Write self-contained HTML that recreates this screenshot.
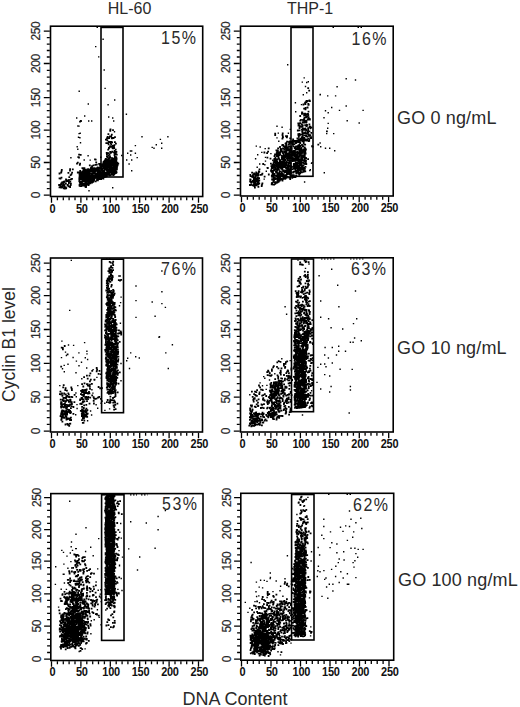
<!DOCTYPE html><html><head><meta charset="utf-8"><style>html,body{margin:0;padding:0;background:#fff;}svg{display:block;}text{font-family:"Liberation Sans", sans-serif;fill:#2a2a2a;} .tl{font-size:12px;letter-spacing:-0.4px;stroke:#222;stroke-width:0.2px;} .tx{font-size:12.2px;font-weight:bold;fill:#111;letter-spacing:-0.3px;}</style></head><body>
<svg width="520" height="707" viewBox="0 0 520 707">
<rect width="520" height="707" fill="#fff"/>
<path d="M109.8 161.3h1.8M104 160.5h1.8M93.4 177.5h1.8M104.5 172.6h1.8M88.9 178.3h1.8M115.7 158.5h1.8M82.6 185.7h1.8M104.7 173.9h1.8M87.8 183.4h1.8M81.3 181.6h1.8M91.1 176.9h1.8M96.6 170.3h1.8M82.5 175.4h1.8M101.2 176.8h1.8M101.3 165.8h1.8M114.6 166h1.8M97 170.4h1.8M94.8 168.3h1.8M103.7 161.7h1.8M91.2 178h1.8M112.9 162.1h1.8M87.6 179.9h1.8M92 169.1h1.8M88.3 170.4h1.8M79.1 178h1.8M89.3 181.1h1.8M81.2 173.2h1.8M85.5 172.1h1.8M90.5 173.5h1.8M96.1 179.5h1.8M83.3 175h1.8M96.5 180.2h1.8M90.5 173.4h1.8M88.8 181.4h1.8M97.6 179.1h1.8M88 178h1.8M110.6 166.5h1.8M85.2 183.7h1.8M112.5 158.9h1.8M106.8 169.8h1.8M101.4 177.9h1.8M82.3 172.9h1.8M99.5 174.7h1.8M102.3 176.6h1.8M84.9 179.7h1.8M105.7 170.3h1.8M81.1 175.2h1.8M112.3 168.4h1.8M86.7 169.3h1.8M80.8 183.6h1.8M95 170.9h1.8M87.7 178.2h1.8M108.4 161.2h1.8M93 171.5h1.8M97.2 169.8h1.8M89.7 170.5h1.8M97.6 173.2h1.8M112.2 173.3h1.8M79.1 174.2h1.8M114 171.2h1.8M83.8 172.8h1.8M112.3 165.3h1.8M85.1 177.8h1.8M90.9 177.1h1.8M92.8 176.6h1.8M78.8 176.6h1.8M112.5 167h1.8M97.6 175.1h1.8M105.6 159.1h1.8M88.9 173.2h1.8M104.6 166.3h1.8M112.4 174.1h1.8M89.9 168.8h1.8M112.1 171.7h1.8M100.7 176.5h1.8M91.6 168.6h1.8M80.4 181.8h1.8M107.3 167.6h1.8M81.6 171.6h1.8M112.1 160.4h1.8M84.9 177.9h1.8M85.6 179.2h1.8M88.4 180.2h1.8M114.6 166.4h1.8M116 169.4h1.8M105.3 168.1h1.8M106.3 172.3h1.8M106.5 160.1h1.8M98.9 172.3h1.8M84.7 169.7h1.8M112.5 175h1.8M114.2 169.7h1.8M107.5 162.7h1.8M89.9 170.8h1.8M112 164.7h1.8M79.5 172.3h1.8M99.1 173h1.8M85.4 180.9h1.8M84.5 172.5h1.8M84.8 185.1h1.8M97.3 174.2h1.8M91.2 182.5h1.8M106 176.1h1.8M83.1 173.2h1.8M107.8 170.8h1.8M97.7 175.7h1.8M94.2 173.8h1.8M84.6 183h1.8M94.1 169.7h1.8M102.4 178h1.8M86.3 173.1h1.8M115.1 167.6h1.8M79.6 177.8h1.8M86.6 170.1h1.8M79.7 175h1.8M102.4 172.4h1.8M92.2 170.3h1.8M85.2 182h1.8M95.3 168.8h1.8M93.1 176.2h1.8M86.7 176.7h1.8M83.5 174.5h1.8M98.1 178h1.8M114 162.8h1.8M115.3 164.7h1.8M96.7 174.2h1.8M92.8 169.8h1.8M109.7 166.7h1.8M83.4 179h1.8M113 170.7h1.8M89.6 182.2h1.8M103 175h1.8M103.2 171.8h1.8M115.5 168.9h1.8M104.1 173.5h1.8M86.3 175.6h1.8M104.9 169.1h1.8M95.2 174.6h1.8M110.5 162.9h1.8M91 170.4h1.8M109.3 164.7h1.8M97.7 169h1.8M107.7 170.5h1.8M99.2 168.6h1.8M107.2 173.1h1.8M112.7 173.9h1.8M83.3 169.8h1.8M117.4 163.6h1.8M82 174h1.8M84.5 182.7h1.8M82.8 173.3h1.8M89.5 176.9h1.8M94.6 168.9h1.8M96.8 167.3h1.8M94.8 170.7h1.8M101 172.6h1.8M114.3 165.3h1.8M114.9 167.5h1.8M84.6 173.7h1.8M107.7 158.7h1.8M88.1 183.6h1.8M82.6 180.7h1.8M105.2 160.9h1.8M115.6 162.5h1.8M91.7 169.9h1.8M85.8 182.7h1.8M114.4 159.9h1.8M84.2 179.5h1.8M87.4 171.5h1.8M111.9 171h1.8M116 165.2h1.8M92.8 173.8h1.8M94.6 175.4h1.8M102.9 166.4h1.8M113.2 171.2h1.8M97.6 175.8h1.8M114.2 165.4h1.8M90.6 181h1.8M87.7 171.7h1.8M116.4 162.6h1.8M94 175.9h1.8M104.6 169.7h1.8M90.1 171.2h1.8M110.3 160h1.8M89.9 179.6h1.8M84.4 186.6h1.8M107.9 165.9h1.8M98.9 171.9h1.8M97.6 171.4h1.8M97.9 167.9h1.8M104.9 165h1.8M115.4 169.6h1.8M103.2 168.6h1.8M85.7 176.3h1.8M114 162h1.8M85.6 182.8h1.8M79.7 176.3h1.8M107.5 167h1.8M94.8 177.7h1.8M109.7 162.4h1.8M79.6 172.2h1.8M97 180.3h1.8M108.2 163.5h1.8M110.4 169.1h1.8M105.1 175.9h1.8M78.7 185h1.8M82.6 173.8h1.8M84 175.3h1.8M91.1 169.9h1.8M89.3 177.5h1.8M85.2 176.5h1.8M91.3 170.9h1.8M113.9 170.9h1.8M106.6 162.8h1.8M95.7 175.8h1.8M96.2 168.1h1.8M95 174.5h1.8M99.8 176.1h1.8M102.1 168.7h1.8M107.4 164.6h1.8M114.3 161.5h1.8M104.9 162h1.8M104.3 176.9h1.8M83.2 177.9h1.8M98.1 178.9h1.8M88.1 171.7h1.8M85 171.9h1.8M87.1 177h1.8M81.4 180.1h1.8M86.2 174.9h1.8M102.5 174.6h1.8M93.7 171.4h1.8M93.6 170.6h1.8M84.7 183.1h1.8M92.4 177.5h1.8M111.5 162.6h1.8M106.9 166.9h1.8M103.3 171.2h1.8M92.1 169.9h1.8M108.9 175.3h1.8M84.2 171.4h1.8M109.8 170h1.8M100.6 170.3h1.8M93.1 180h1.8M114.5 164.3h1.8M114.1 167.5h1.8M96.2 179.5h1.8M100.6 168.2h1.8M87.6 185.1h1.8M107.6 171.3h1.8M97.8 169.5h1.8M116.1 167.3h1.8M111.2 172.7h1.8M93.2 179.1h1.8M101.6 164.4h1.8M96.1 169.6h1.8M102.6 167.1h1.8M113.1 173h1.8M104.4 168h1.8M80.2 179.2h1.8M81 173.6h1.8M101.7 177.4h1.8M89.2 180.3h1.8M107.4 170.2h1.8M91.2 170.2h1.8M89.1 178.5h1.8M106.3 164.9h1.8M83.9 183.8h1.8M82.8 180.7h1.8M110.5 164.5h1.8M78.7 172.6h1.8M111.1 162.3h1.8M115.9 164.9h1.8M94.1 177.2h1.8M113.1 164.5h1.8M96.6 173.4h1.8M81.6 183.9h1.8M78.6 181h1.8M108.3 164.8h1.8M102.7 161.8h1.8M89.4 175.3h1.8M93.8 172h1.8M100.9 175.1h1.8M106.4 163.7h1.8M101.5 177.7h1.8M88.8 177.1h1.8M102.9 168.6h1.8M108.4 175.6h1.8M113.1 166.3h1.8M92.8 170.5h1.8M97.3 174h1.8M107.8 162.9h1.8M103.9 169.5h1.8M89.5 183.3h1.8M112.9 174.3h1.8M90.7 177h1.8M101.7 171.7h1.8M93.8 168.6h1.8M99.5 174.4h1.8M89.8 178.2h1.8M106.4 168.9h1.8M84.9 175.7h1.8M87.9 175.5h1.8M80.8 178.7h1.8M81.4 178.9h1.8M107.6 160.7h1.8M100 166.6h1.8M80.3 177.2h1.8M88.5 183h1.8M87.3 179.5h1.8M89.8 182.6h1.8M82.5 176.9h1.8M112.6 172.6h1.8M84.8 177.8h1.8M86.8 179h1.8M107.2 160.9h1.8M114.5 171.1h1.8M113.5 174.1h1.8M100.8 168.6h1.8M89.9 182.3h1.8M103.3 176.2h1.8M98.6 168.4h1.8M83.7 171.5h1.8M103.3 171h1.8M88.1 179.8h1.8M82.6 180.7h1.8M99.5 171.4h1.8M108.3 173.2h1.8M104.9 167.9h1.8M113.2 169.1h1.8M108.1 170.8h1.8M90.8 180.9h1.8M93.7 176.8h1.8M91.6 171.4h1.8M83 172.1h1.8M88.3 176.1h1.8M82.6 178.7h1.8M111.4 170.2h1.8M90.1 169.1h1.8M92.4 171h1.8M113.9 159.7h1.8M83.3 180.3h1.8M107.4 174.8h1.8M95.6 168.4h1.8M113.4 163.5h1.8M113 161.1h1.8M101.8 176.8h1.8M101.6 176.6h1.8M91.1 170.1h1.8M95.6 169.6h1.8M79.4 176.8h1.8M80.5 184.2h1.8M79.4 186.2h1.8M110.7 162.1h1.8M102.1 168.6h1.8M90.7 175.2h1.8M112 163.5h1.8M92 177.2h1.8M96.7 180.3h1.8M111.3 158.2h1.8M80.7 174.3h1.8M99.1 174.2h1.8M107.7 167.7h1.8M84.4 177.9h1.8M83.3 173.7h1.8M96.5 179.2h1.8M102.4 173.7h1.8M81.9 179.4h1.8M102.5 178.5h1.8M106.4 169.7h1.8M83.6 174.8h1.8M98.3 176.6h1.8M111.1 169.8h1.8M108.4 164h1.8M114.9 163.9h1.8M106.3 169.3h1.8M80.9 181.6h1.8M98.6 179h1.8M87.9 184.3h1.8M86.5 178.6h1.8M96 173.8h1.8M80.7 172.5h1.8M82 179.1h1.8M80.9 185.6h1.8M90.1 171.1h1.8M92.7 177.5h1.8M110.3 168.8h1.8M82.9 175.8h1.8M113.7 161.3h1.8M106.2 160h1.8M112.3 161h1.8M100.7 167.7h1.8M84.5 175.6h1.8M115.3 160.5h1.8M85.3 172.7h1.8M100.7 165.1h1.8M106.9 161.5h1.8M96.7 174h1.8M96.9 177.2h1.8M78.7 177.6h1.8M101.6 172.7h1.8M105 169.5h1.8M103.4 162h1.8M116 168.6h1.8M101 174h1.8M106.2 174.3h1.8M100.3 167.7h1.8M110.4 164.4h1.8M109.9 160.7h1.8M114.3 157.8h1.8M111.2 163.8h1.8M88.1 172.3h1.8M105.8 166.9h1.8M104.8 158.9h1.8M93.9 170.2h1.8M97.4 169.2h1.8M83.9 174.2h1.8M107.4 172.5h1.8M97.9 177.9h1.8M104.5 164.6h1.8M91 171.4h1.8M115.2 164.4h1.8M112.7 167.8h1.8M91.2 175.8h1.8M89.4 170.2h1.8M107.7 160.8h1.8M88.6 182.5h1.8M98.5 171.5h1.8M108.3 160.7h1.8M114.2 172h1.8M84.7 175.3h1.8M101.8 168.7h1.8M83.9 181.3h1.8M85 182h1.8M103.9 167.4h1.8M111.1 173h1.8M78.9 182.7h1.8M91.6 181.3h1.8M115.4 163.6h1.8M92 176.5h1.8M101.2 168.6h1.8M111.5 164h1.8M86 178.1h1.8M109.7 163.3h1.8M108.8 167.5h1.8M85.9 181.5h1.8M103.5 161.1h1.8M87.3 170.2h1.8M112.5 159.3h1.8M99.3 172.9h1.8M81 178.9h1.8M106.3 164.6h1.8M115.5 168.9h1.8M103.2 175.5h1.8M81.1 182.7h1.8M89.3 177.5h1.8M103.2 175.4h1.8M109.9 167h1.8M86.6 180.7h1.8M81 178.3h1.8M101.1 174.8h1.8M105.2 161.9h1.8M109.3 163.8h1.8M106.6 166.9h1.8M88.3 181.1h1.8M107.9 171.7h1.8M102.3 171.5h1.8M115 166.1h1.8M105 160.1h1.8M100.2 175.6h1.8M87.8 171.6h1.8M108.7 166.4h1.8M86.2 175.3h1.8M81.7 176.7h1.8M100.6 167.7h1.8M82.8 173.4h1.8M99.9 176.3h1.8M115.3 171.6h1.8M83 173.2h1.8M94.8 177h1.8M109.7 170.4h1.8M79.8 172.7h1.8M104.7 174.9h1.8M80.5 175.8h1.8M91.9 179.9h1.8M114.3 169h1.8M94.4 170.8h1.8M111.4 165.4h1.8M99.1 167.9h1.8M84 181.7h1.8M101.8 172.3h1.8M91.1 179h1.8M104.9 162.1h1.8M106.4 172.1h1.8M103 165h1.8M82.9 178.5h1.8M79.4 183.5h1.8M93 177.4h1.8M83.1 177.4h1.8M83.8 179.9h1.8M85.4 181h1.8M86.7 184.7h1.8M109.6 165h1.8M93 180.6h1.8M109.8 161.8h1.8M101 165.8h1.8M100.7 174.8h1.8M102.4 163.9h1.8M116.7 165.3h1.8M106.3 166.2h1.8M100.2 179h1.8M111.8 174.6h1.8M96.3 169.3h1.8M113.2 164.5h1.8M103.5 165h1.8M115.2 172.9h1.8M89.7 179.3h1.8M116.4 164.3h1.8M82.1 180.4h1.8M113.3 173.9h1.8M108.2 173.9h1.8M82.9 185.2h1.8M107.7 162.4h1.8M113.8 172.5h1.8M78.6 174.5h1.8M86.4 181.5h1.8M89.5 180.1h1.8M79.8 183.9h1.8M94.3 177.2h1.8M108.5 171.5h1.8M79.7 176.2h1.8M103.3 177h1.8M88.7 182.4h1.8M92.6 175.9h1.8M114.6 173.2h1.8M83.7 170.6h1.8M92.4 181.8h1.8M107.2 164.4h1.8M100.7 164.4h1.8M92.6 179h1.8M79.6 178.1h1.8M105.3 172.7h1.8M85.2 185.9h1.8M90.6 168.4h1.8M86.7 183.6h1.8M82.9 181.6h1.8M107.2 164.3h1.8M101.1 173.6h1.8M108.9 168.3h1.8M105.1 172.8h1.8M93.2 168.2h1.8M108 174.5h1.8M102.6 164.8h1.8M88.5 180.4h1.8M88.9 181.2h1.8M103.7 163.5h1.8M78.8 181.3h1.8M88.8 182h1.8M91.3 169.6h1.8M102.7 164.5h1.8M112.9 166.6h1.8M81.5 181.6h1.8M96.7 175.6h1.8M110.5 172.8h1.8M101.8 174.2h1.8M79.2 177.8h1.8M88 170.6h1.8M94.1 176.7h1.8M111.6 167.8h1.8M89.5 175.2h1.8M98.5 176h1.8M85.8 177.1h1.8M93.8 170.8h1.8M115.9 165h1.8M110.4 174.2h1.8M114.8 161.1h1.8M94.4 171.8h1.8M88.3 173.8h1.8M88.6 172.1h1.8M102.9 175.2h1.8M108.5 172.7h1.8M102.1 175.1h1.8M83.7 181.4h1.8M83.5 176h1.8M109.2 172.1h1.8M87.9 170.1h1.8M99.4 173.3h1.8M93.2 168.7h1.8M90.8 171.3h1.8M106.6 161.9h1.8M112.9 158.7h1.8M112.5 160.4h1.8M86.6 174h1.8M81.7 181.4h1.8M116.3 164.1h1.8M102.3 163.3h1.8M109.6 162h1.8M96.4 168.9h1.8M88.6 171.7h1.8M103.3 175.1h1.8M78.5 177.3h1.8M114.8 162.9h1.8M111.9 170.2h1.8M86.3 180.4h1.8M116.5 163.1h1.8M99.1 173.8h1.8M107.2 163.4h1.8M108 163.1h1.8M109.8 175.2h1.8M108.1 159.2h1.8M80.5 181.6h1.8M89 181.7h1.8M100.2 165.8h1.8M88.5 169.6h1.8M115.5 164.2h1.8M93 168.3h1.8M92.5 172.9h1.8M95.5 168.8h1.8M99.3 166.3h1.8M109.8 160.9h1.8M91 173.8h1.8M80.8 185h1.8M107.4 159.4h1.8M111 159.9h1.8M107.8 163.2h1.8M99.8 167.9h1.8M86.5 184.5h1.8M113.4 168.4h1.8M94 178h1.8M80.9 183.7h1.8M85.5 170.9h1.8M104.1 163.2h1.8M113.5 161.3h1.8M96.6 171.5h1.8M116.3 165.6h1.8M87.5 180.6h1.8M114 158.3h1.8M96.6 178.5h1.8M110.1 171.7h1.8M79.3 171h1.8M80.4 184.1h1.8M92.2 173.2h1.8M108.8 170.7h1.8M103.8 173.1h1.8M114.5 158.6h1.8M107.5 174.2h1.8M81 176.3h1.8M80.4 186.1h1.8M108.1 158.1h1.8M99.7 167.4h1.8M101.6 169h1.8M87.1 170.2h1.8M99.6 175.8h1.8M102.8 165.5h1.8M89.1 182.2h1.8M88.4 173.3h1.8M83.9 178.9h1.8M115.7 172.4h1.8M113.9 160.9h1.8M78.8 172.4h1.8M110 171.2h1.8M87.4 169.1h1.8M80.5 178.8h1.8M112.8 174.6h1.8M89 176.1h1.8M88.4 171.4h1.8M93.6 168.7h1.8M87.4 181.6h1.8M88.4 176.2h1.8M101.7 170.9h1.8M103.1 175.6h1.8M100.3 175.4h1.8M84.9 172.3h1.8M111.5 170h1.8M111.6 165.4h1.8M78.6 185.5h1.8M96.1 177.5h1.8M105.9 167.2h1.8M111.7 169h1.8M108 173.3h1.8M78.6 172.4h1.8M87.4 176.9h1.8M93.6 178.9h1.8M111.7 164.8h1.8M85.8 173.2h1.8M110.2 161.5h1.8M84.3 174.7h1.8M97.4 173.2h1.8M111.6 167.9h1.8M100.7 170h1.8M108.9 168.9h1.8M96.2 174.3h1.8M89.7 182h1.8M95.5 169.9h1.8M113.7 163h1.8M82.4 183.9h1.8M78.4 181.2h1.8M78.4 179h1.8M103.3 168h1.8M106.9 164.4h1.8M112.4 173.1h1.8M106.8 168.2h1.8M91.3 180.4h1.8M101.5 170.2h1.8M113.4 172.5h1.8M107.3 174.5h1.8M78.8 175.3h1.8M113.9 157.4h1.8M91.3 171.1h1.8M110.7 163.6h1.8M99.1 177.9h1.8M87 169.3h1.8M79.8 174.4h1.8M96.3 175.9h1.8M80.5 178.6h1.8M82.2 173.2h1.8M101.9 176.2h1.8M103.1 172.2h1.8M114.1 172.9h1.8M97.9 174.4h1.8M109.9 166.7h1.8M84.6 184h1.8M80.8 176.6h1.8M108.7 169.5h1.8M99.1 171.1h1.8M87.6 171.8h1.8M82.1 178h1.8M108.7 160.3h1.8M93 177.7h1.8M86.2 171.7h1.8M113.5 168.2h1.8M86 179.7h1.8M87 173.4h1.8M107.4 166.4h1.8M114.7 166.7h1.8M98 167.8h1.8M105 163.4h1.8M91.4 169.9h1.8M94.8 181.3h1.8M107 173.9h1.8M97.5 168.5h1.8M112.4 172.1h1.8M104.9 176.7h1.8M100.9 178.4h1.8M114.2 161.9h1.8M91.6 175.6h1.8M107.5 171.6h1.8M94.3 170.6h1.8M102.7 167.9h1.8M104.4 164.1h1.8M83.4 184.9h1.8M86.1 175.1h1.8M85 170.4h1.8M110.1 166.3h1.8M103 167.7h1.8M82.2 181h1.8M108.4 172.3h1.8M111.7 163h1.8M79.1 179h1.8M84.1 176.1h1.8M82.4 170.2h1.8M103.2 167.5h1.8M115.6 159.6h1.8M106.8 166.1h1.8M86.3 175.5h1.8M83 171.8h1.8M88.4 171.2h1.8M98.7 174.8h1.8M83.3 171h1.8M111.5 164.3h1.8M109.4 170.3h1.8M112.2 148.4h1.8M114.8 149.7h1.8M106.8 157h1.8M108.6 154.3h1.8M108.4 147.7h1.8M109.3 152h1.8M108 148.4h1.8M110.1 152.7h1.8M111.3 151.7h1.8M109.5 157.8h1.8M115.9 154.7h1.8M115.5 151.8h1.8M108 147.8h1.8M107.7 155.5h1.8M113.3 152.7h1.8M109.1 156.5h1.8M113.6 155.1h1.8M113.3 148.2h1.8M111.5 151.9h1.8M109.1 146.9h1.8M109.5 152.9h1.8M107.2 153.2h1.8M115.3 157.2h1.8M114 156.3h1.8M106 154.6h1.8M106 156.7h1.8M113.8 153.7h1.8M105.8 152.8h1.8M110 146.9h1.8M113.1 146.3h1.8M111.7 148h1.8M114.7 153.8h1.8M115 154.1h1.8M107.3 149.6h1.8M113.8 151h1.8M113.1 147h1.8M114.9 152.4h1.8M114.3 152h1.8M106.1 153.2h1.8M114.1 137.2h1.8M107.1 138.1h1.8M112.1 130.2h1.8M107.7 144.3h1.8M107.5 134.1h1.8M108.2 138.2h1.8M111.2 142.3h1.8M112.7 138h1.8M114 142.2h1.8M109.3 130.4h1.8M109.1 136.4h1.8M106.5 140.4h1.8M107.8 141.8h1.8M111.8 145.9h1.8M115 143.7h1.8M109.5 142h1.8M106.9 136.9h1.8M105 139.7h1.8M108.9 142.2h1.8M109.9 143.3h1.8M110.9 137.8h1.8M109 136.6h1.8M109.4 130.9h1.8M107.2 143.1h1.8M113.5 145.1h1.8M110.3 136.3h1.8M111.9 147.3h1.8M106.1 138.4h1.8M111.1 138.3h1.8M109.6 129.4h1.8M109.5 146.7h1.8M106.5 137.5h1.8M110.4 141.8h1.8M109.1 146.4h1.8M110.4 144.6h1.8M110.9 134.7h1.8M105.4 143.2h1.8M81.5 168.1h1.8M92.6 165.3h1.8M82.3 168.2h1.8M90.1 167.7h1.8M83.5 168.2h1.8M99.3 164h1.8M90.9 167.4h1.8M88.9 165.4h1.8M94.6 164.8h1.8M95.9 164.7h1.8M91.2 166.1h1.8M98.8 164.7h1.8M82.8 168.6h1.8M98.2 163.9h1.8M58.6 187.4h1.8M58.2 185h1.8M65.6 179.8h1.8M60.3 187.5h1.8M64 188.5h1.8M62.6 182h1.8M65.7 180.4h1.8M69.2 186.4h1.8M68.1 180h1.8M61.7 185.1h1.8M63.7 187h1.8M65.8 180.7h1.8M65 187.3h1.8M63.6 181.3h1.8M61.4 186.3h1.8M67.5 181.1h1.8M65 183.3h1.8M59 184.9h1.8M65 183.6h1.8M62.3 185.4h1.8M63.1 182.2h1.8M67 180.8h1.8M69.2 187.1h1.8M67.5 186.3h1.8M70 183.6h1.8M62.4 185.3h1.8M69.4 181.7h1.8M65.3 188.3h1.8M61.1 186.8h1.8M67 184.9h1.8M61.2 187.3h1.8M60.2 184.2h1.8M59.5 185.6h1.8M66.7 185.1h1.8M60.1 186.4h1.8M61.2 182.3h1.8M63.3 186.5h1.8M65.1 179.5h1.8M63.4 181.6h1.8M66.7 181.2h1.8M62.1 182.8h1.8M69.8 185h1.8M62.5 183.7h1.8M60.4 183.4h1.8M63.5 185.3h1.8M68 183.2h1.8M63.1 184.5h1.8M61.4 182.9h1.8M68.1 182.3h1.8M62.2 185.4h1.8M62.8 188.4h1.8M65.6 181.1h1.8M60.6 171.4h1.8M60.6 177.6h1.8M60.3 172.7h1.8M71.2 172.7h1.8M71.1 178.8h1.8M60.9 169.8h1.8M69.2 169.1h1.8M69.1 170.6h1.8M58.6 173.5h1.8M70 179.3h1.8M58.6 178.4h1.8M59.6 178.5h1.8M68.4 177.1h1.8M78.2 154.7h1.8M79.1 121.7h1.8M76.9 162.7h1.8M79.8 154.8h1.8M77.4 157.1h1.8M79.2 163.6h1.8M78.9 164.9h1.8M80.1 121.2h1.8M78.1 157.5h1.8M92.9 172.3h1.8M100.8 169.2h1.8M69.7 175.1h1.8M89.8 177.6h1.8M95.3 162.3h1.8M85.1 187.1h1.8M90 169.9h1.8M67.5 172.9h1.8M96.4 170.2h1.8M89.5 177.1h1.8M98.1 170h1.8M102.4 173h1.8M89.1 170.1h1.8M100.9 165.8h1.8M76.9 172.5h1.8M91.1 167.2h1.8M70.5 174.4h1.8M94.1 159.3h1.8M106.4 172h1.8M76.1 163.6h1.8M83.4 173h1.8M94.8 159.6h1.8M71.9 169.3h1.8M80 121h1.8" stroke="#000" stroke-width="1.8" fill="none"/>
<path d="M113.8 131.7h1.4M77.1 149.3h1.4M77.8 137.2h1.4M78.4 133.6h1.4M79.8 142.7h1.4M76.5 146.8h1.4M79.5 133.2h1.4M79.2 137.8h1.4M78.3 126.1h1.4M77.2 126h1.4M100.1 157.3h1.4M70.2 157.7h1.4M83.5 160h1.4M87.4 155.7h1.4M89.5 160.1h1.4M112 187.8h1.4M88.3 190.8h1.4M95 46.6h1.4M98 56.9h1.4M102.4 39.2h1.4M103.5 70h1.4M104.4 88.4h1.4M78.5 91.3h1.4M87.6 104h1.4M107.4 104.8h1.4M114 100h1.4M125.7 114.3h1.4M141.3 136.7h1.4M167.2 136.7h1.4M159.7 139.4h1.4M161 143.3h1.4M155.6 144.7h1.4M151.5 147.4h1.4M153.3 148.3h1.4M161 148.3h1.4M134.7 145.6h1.4M129.7 151h1.4M131 151h1.4M127 153.3h1.4M134.7 153.3h1.4M130 155h1.4M136.5 157.6h1.4M126 160h1.4M131 160h1.4M128.4 164h1.4M131 170.7h1.4M121 155.5h1.4M88 121h1.4M91 121h1.4M76 118h1.4M84 116h1.4M108 117h1.4M112 118h1.4M113 121h1.4" stroke="#000" stroke-width="1.4" fill="none"/>
<path d="M96.5 27.4H99.5" stroke="#000" stroke-width="1.2" stroke-dasharray="1.5 1.5" fill="none"/>
<rect x="101" y="27.4" width="22" height="149.6" fill="none" stroke="#000" stroke-width="1.6"/>
<rect x="50.5" y="26.2" width="152.2" height="170.3" fill="none" stroke="#000" stroke-width="1.6"/>
<path d="M51.5 197.2v5.5M49.8 195.1h-6.0M57.4 197.2v3.0M49.8 188.6h-3.0M63.3 197.2v3.0M49.8 182.1h-3.0M69.1 197.2v3.0M49.8 175.5h-3.0M75.0 197.2v3.0M49.8 169.0h-3.0M80.9 197.2v5.5M49.8 162.5h-6.0M86.8 197.2v3.0M49.8 156.0h-3.0M92.7 197.2v3.0M49.8 149.5h-3.0M98.5 197.2v3.0M49.8 143.1h-3.0M104.4 197.2v3.0M49.8 136.6h-3.0M110.3 197.2v5.5M49.8 130.1h-6.0M116.2 197.2v3.0M49.8 123.6h-3.0M122.1 197.2v3.0M49.8 117.1h-3.0M127.9 197.2v3.0M49.8 110.7h-3.0M133.8 197.2v3.0M49.8 104.2h-3.0M139.7 197.2v5.5M49.8 97.7h-6.0M145.6 197.2v3.0M49.8 90.9h-3.0M151.5 197.2v3.0M49.8 84.0h-3.0M157.3 197.2v3.0M49.8 77.2h-3.0M163.2 197.2v3.0M49.8 70.3h-3.0M169.1 197.2v5.5M49.8 63.5h-6.0M175.0 197.2v3.0M49.8 57.0h-3.0M180.9 197.2v3.0M49.8 50.5h-3.0M186.7 197.2v3.0M49.8 44.1h-3.0M192.6 197.2v3.0M49.8 37.6h-3.0M198.5 197.2v5.5M49.8 31.1h-6.0" stroke="#000" stroke-width="1.3" fill="none"/>
<text class="tx" transform="translate(52.3 212.7) scale(0.9 1)" text-anchor="middle">0</text>
<text class="tl" x="40.3" y="195.1" text-anchor="middle" transform="rotate(-90 40.3 195.1)">0</text>
<text class="tx" transform="translate(81.7 212.7) scale(0.9 1)" text-anchor="middle">50</text>
<text class="tl" x="40.3" y="162.5" text-anchor="middle" transform="rotate(-90 40.3 162.5)">50</text>
<text class="tx" transform="translate(111.1 212.7) scale(0.9 1)" text-anchor="middle">100</text>
<text class="tl" x="40.3" y="130.1" text-anchor="middle" transform="rotate(-90 40.3 130.1)">100</text>
<text class="tx" transform="translate(140.5 212.7) scale(0.9 1)" text-anchor="middle">150</text>
<text class="tl" x="40.3" y="97.7" text-anchor="middle" transform="rotate(-90 40.3 97.7)">150</text>
<text class="tx" transform="translate(169.9 212.7) scale(0.9 1)" text-anchor="middle">200</text>
<text class="tl" x="40.3" y="63.5" text-anchor="middle" transform="rotate(-90 40.3 63.5)">200</text>
<text class="tx" transform="translate(199.3 212.7) scale(0.9 1)" text-anchor="middle">250</text>
<text class="tl" x="40.3" y="31.1" text-anchor="middle" transform="rotate(-90 40.3 31.1)">250</text>
<path d="M255.6 185.3h1.8M254 184.6h1.8M249.6 176h1.8M254.7 180h1.8M255.4 180.2h1.8M249.3 179.3h1.8M252.6 184.6h1.8M253 185.6h1.8M257.2 184.4h1.8M252.9 179h1.8M252 181.8h1.8M255.5 175.1h1.8M254.1 183.8h1.8M257.4 178.4h1.8M254.1 185.6h1.8M256.9 184.7h1.8M251.9 185.3h1.8M250.3 181.8h1.8M254.3 183h1.8M256.4 181.7h1.8M257 177.1h1.8M256.4 183.4h1.8M256.2 180.5h1.8M253.7 184.9h1.8M249 185h1.8M249.7 179.7h1.8M255 184.1h1.8M251.8 180.9h1.8M253.6 178.1h1.8M254.4 181.3h1.8M256.1 181.2h1.8M256.8 180.1h1.8M249.2 181.3h1.8M253 179.5h1.8M253 179.7h1.8M257.7 181.8h1.8M252 175.9h1.8M249.8 181.9h1.8M252.3 177.1h1.8M250.4 182.8h1.8M252.8 176.5h1.8M254.3 178.9h1.8M256 178.9h1.8M251.6 176.8h1.8M254.9 177.4h1.8M257.3 182.2h1.8M251.1 176.6h1.8M253.3 185.8h1.8M252.7 181.6h1.8M254.9 184.6h1.8M258.4 180.4h1.8M257.7 183.5h1.8M251.7 181.8h1.8M252.8 174.3h1.8M253.1 182.6h1.8M254.7 175.1h1.8M255.3 174.5h1.8M254.2 184h1.8M250.2 184.8h1.8M249.4 174.9h1.8M253.2 173.4h1.8M254.2 177.3h1.8M258.4 183.6h1.8M256.8 175.2h1.8M253.2 173.9h1.8M257.5 173.7h1.8M261.5 183.3h1.8M261.5 173.7h1.8M255 176.5h1.8M258.2 178.2h1.8M251.2 172.7h1.8M254 187.6h1.8M255 174.2h1.8M251.7 176.2h1.8M257.6 175.2h1.8M258.6 169.4h1.8M261 174.7h1.8M263.7 176.7h1.8M253.6 180.3h1.8M255.3 172.5h1.8M256.8 173.4h1.8M261.1 184.6h1.8M259.8 174.8h1.8M253.3 183.2h1.8M254.7 180.9h1.8M255.8 184.3h1.8M252 175.2h1.8M260.8 186.1h1.8M257.5 186.8h1.8M282.8 177.7h1.8M281.6 180.5h1.8M274.2 182.1h1.8M295.9 164.5h1.8M281.6 166.6h1.8M286.5 171.9h1.8M284.8 163.7h1.8M287.8 166h1.8M283.5 163.6h1.8M288.4 152.8h1.8M281.3 169.5h1.8M270.8 171.8h1.8M303.5 156.1h1.8M294.1 158.6h1.8M273.1 180.2h1.8M294.3 155.8h1.8M290 154.6h1.8M284.4 178.3h1.8M272.1 172h1.8M305.4 164.2h1.8M276 172.8h1.8M290 175.9h1.8M281.4 161.8h1.8M293.6 160.2h1.8M280.6 165.3h1.8M302.5 170.1h1.8M273.6 170.4h1.8M298.1 162.2h1.8M276.3 161.1h1.8M277.3 167.2h1.8M297.3 148.4h1.8M274.6 167.7h1.8M295.7 160h1.8M300.6 150.5h1.8M290 157.5h1.8M294.8 169.6h1.8M271.9 166.3h1.8M298.5 149.5h1.8M287.3 165.4h1.8M274.9 171.2h1.8M277.3 163.4h1.8M270.5 166.1h1.8M285.5 158.3h1.8M300.7 164.5h1.8M300.1 161h1.8M274 177.6h1.8M289.2 177.3h1.8M287.6 169.4h1.8M294.8 160h1.8M292.7 159.7h1.8M295.1 171.6h1.8M293 168.5h1.8M292.5 172.5h1.8M294.1 164.8h1.8M287.8 155.1h1.8M294.2 156.6h1.8M300.2 157h1.8M277.1 173.2h1.8M275.1 171.3h1.8M305 163.6h1.8M280.7 164.1h1.8M304.4 171.3h1.8M300.5 148.7h1.8M291.7 161.1h1.8M296.3 148.6h1.8M277.2 166.4h1.8M274.4 183.7h1.8M291.1 156.5h1.8M294.5 153.5h1.8M277.4 173.5h1.8M277.5 165.4h1.8M301.5 146.3h1.8M300.7 160.6h1.8M297 169.1h1.8M272.2 167h1.8M276.6 168.3h1.8M292.2 151.3h1.8M301.5 152.5h1.8M296.6 149.6h1.8M286.6 155.5h1.8M274.4 167.5h1.8M272.9 178.5h1.8M288.6 173.7h1.8M303.4 153.5h1.8M289 160.7h1.8M291.2 152.9h1.8M277.6 166.2h1.8M297.9 157.3h1.8M284.9 152.9h1.8M301.2 162.7h1.8M298.4 174.8h1.8M273.1 164.6h1.8M297.4 167.2h1.8M294.2 164.1h1.8M280.1 178.8h1.8M275.8 166.6h1.8M302.5 171.8h1.8M302.5 156.2h1.8M301 166.2h1.8M290.6 150.9h1.8M288.8 161.1h1.8M279.4 173.9h1.8M298.5 147.6h1.8M286.9 176.9h1.8M295.4 168.4h1.8M287.3 155.8h1.8M291 155.1h1.8M296.4 166.2h1.8M279.2 163.4h1.8M273.4 175h1.8M292 157.9h1.8M297.2 172.3h1.8M280.8 155.6h1.8M278.8 161h1.8M292.6 177.2h1.8M303.1 149.3h1.8M289.7 168h1.8M298 159.4h1.8M304.8 163h1.8M287.4 166.7h1.8M287.8 165.4h1.8M304.2 152.6h1.8M298.6 150.9h1.8M276.4 170.5h1.8M303.7 171h1.8M285 165.3h1.8M294.2 155.6h1.8M298.8 161.4h1.8M289.4 167.9h1.8M279.4 166.1h1.8M289.1 163.1h1.8M290.8 160.6h1.8M301.3 157.2h1.8M283.2 161.6h1.8M296.6 163.7h1.8M290.3 166.5h1.8M298.3 156.5h1.8M298.7 154.2h1.8M292.9 163.9h1.8M274 161h1.8M296.8 153.8h1.8M286.9 168.2h1.8M273.8 166.1h1.8M280.1 167.8h1.8M271.9 165.2h1.8M271 167.3h1.8M296.9 160.2h1.8M282.6 159.1h1.8M297.6 165.3h1.8M273.2 184.6h1.8M302.8 149.6h1.8M282.6 177.5h1.8M298.7 153.5h1.8M270.9 175.7h1.8M276.7 168.9h1.8M304.4 150.4h1.8M286.6 154.4h1.8M294.4 166.5h1.8M285.7 162.8h1.8M283.6 172.2h1.8M298.2 166.2h1.8M299.8 168.5h1.8M298.2 168.5h1.8M299.4 169.9h1.8M297.6 148.1h1.8M276.6 180h1.8M276.3 176.6h1.8M278.4 155h1.8M286.8 171.4h1.8M305 149.5h1.8M288.3 170.1h1.8M297.4 172.5h1.8M285.8 158.7h1.8M290.3 158.7h1.8M289.2 150.4h1.8M284.8 166.9h1.8M274.5 157.6h1.8M279.1 154.5h1.8M305.3 164h1.8M276.5 174.9h1.8M282.9 177h1.8M287.3 153.6h1.8M293.8 154.4h1.8M284.9 151.2h1.8M300.5 147.9h1.8M274.7 165.4h1.8M285.8 171.5h1.8M298.5 166.4h1.8M281.9 176.6h1.8M285 172.1h1.8M296.6 172.2h1.8M285.2 152h1.8M276.6 180.4h1.8M303.6 158.8h1.8M288.8 161.8h1.8M275.9 156.2h1.8M282.9 174.2h1.8M294.9 159.5h1.8M272 170.8h1.8M271.9 168.2h1.8M284.2 157.1h1.8M277.6 156.8h1.8M288.8 151.3h1.8M300 160.2h1.8M272 173.6h1.8M281.2 163.1h1.8M284.8 153.2h1.8M276.1 175.6h1.8M286.6 168h1.8M300.8 164.8h1.8M276.5 162.9h1.8M300.1 162.5h1.8M295.9 171h1.8M297.7 161.3h1.8M294.8 153.2h1.8M285.1 177.9h1.8M285.1 164.5h1.8M295.4 175.5h1.8M277.5 175.1h1.8M293.6 159.9h1.8M301.3 155.3h1.8M286.2 162.2h1.8M297.9 152.8h1.8M289.9 163.1h1.8M304.3 152.6h1.8M276.7 178.9h1.8M275.9 172.8h1.8M278.6 166.9h1.8M295.4 173.2h1.8M294.8 170.9h1.8M291 167h1.8M280.8 163.8h1.8M298.2 168.6h1.8M287.5 172.7h1.8M293.5 176.5h1.8M277.6 178.6h1.8M292.1 172.7h1.8M295.6 173.1h1.8M300.2 160.2h1.8M287 157.5h1.8M301.5 150.6h1.8M296.1 157.6h1.8M284.7 170.3h1.8M279.9 166.6h1.8M293.2 154.3h1.8M283.5 177.8h1.8M301.8 167.7h1.8M278.8 159.8h1.8M303.7 147.3h1.8M294.7 152.9h1.8M284.9 167.5h1.8M284.3 153.4h1.8M300 170h1.8M278.7 167.7h1.8M299.1 151.6h1.8M299.1 150.3h1.8M279.4 179.7h1.8M284.1 178.8h1.8M287.6 171.7h1.8M281.8 164.1h1.8M287 174.1h1.8M288.2 157.5h1.8M275.3 182.4h1.8M278 169.6h1.8M287.7 170.3h1.8M278.5 173.4h1.8M281.9 175.2h1.8M288.1 156h1.8M288.2 160.4h1.8M302.9 169.1h1.8M300.8 169h1.8M282.1 158.3h1.8M303 149.5h1.8M277.9 181.7h1.8M296.2 154.5h1.8M281.9 163.8h1.8M299.5 167.3h1.8M278 180.6h1.8M280.9 157.8h1.8M272.5 180.3h1.8M288.9 172.2h1.8M299.8 155.1h1.8M283.1 155.2h1.8M298.8 173.7h1.8M281.1 159.1h1.8M304 168.9h1.8M277.3 163.9h1.8M273.5 159h1.8M288.5 155.8h1.8M297.4 161.2h1.8M298.4 154.8h1.8M289.7 154.8h1.8M285.8 177.1h1.8M296.4 167.5h1.8M300.2 148.7h1.8M272.7 176.5h1.8M297.2 168.9h1.8M288.7 155.5h1.8M282.2 170.4h1.8M275.8 171.1h1.8M278.5 180.6h1.8M295.8 164.4h1.8M275.2 169.2h1.8M296.6 160.6h1.8M289 171.9h1.8M288.3 177.6h1.8M282.6 167.2h1.8M297.7 173.5h1.8M270.8 168.6h1.8M291.6 153.6h1.8M289.7 169.5h1.8M293.1 150.9h1.8M292.1 153.1h1.8M289.8 172.1h1.8M285.9 177.5h1.8M275.6 176.3h1.8M274.6 182.1h1.8M276.4 182.6h1.8M285.8 174.9h1.8M285.4 155.3h1.8M291.4 177.8h1.8M296 165h1.8M295.4 155.2h1.8M291.8 152.2h1.8M279.3 177.3h1.8M290.6 152.5h1.8M288.1 165.6h1.8M302.1 155.9h1.8M286.5 156.9h1.8M295 152.1h1.8M299.7 167.3h1.8M284.5 159.7h1.8M299.1 163h1.8M272.9 180h1.8M294.4 169.2h1.8M297 158.6h1.8M299.5 153.7h1.8M289.5 173.9h1.8M271.1 171.5h1.8M286.1 157.2h1.8M278 174.4h1.8M276.6 168h1.8M280.6 178.8h1.8M303.7 170.8h1.8M272.5 165.7h1.8M294 171.7h1.8M298.1 146.8h1.8M280.3 162.9h1.8M301.5 168.3h1.8M271.2 179.7h1.8M293.3 154.4h1.8M300.3 158.4h1.8M282.2 175.9h1.8M292.4 153.7h1.8M275.4 164.8h1.8M302.5 151.6h1.8M301.5 159.5h1.8M294.3 154h1.8M302.2 162.7h1.8M284.8 162.9h1.8M281.1 164.4h1.8M288.5 169.1h1.8M282.1 179.1h1.8M278.1 176.8h1.8M288.4 158h1.8M302.8 171.6h1.8M295.2 176.3h1.8M277.5 157.1h1.8M283.5 165.1h1.8M304.9 161.6h1.8M303.5 155.3h1.8M282.8 171.4h1.8M305.1 160.5h1.8M295.6 158.2h1.8M290.9 148.8h1.8M303.8 159.9h1.8M295.7 158.1h1.8M299.2 172.7h1.8M289.8 171h1.8M278.9 180.5h1.8M277.6 163.3h1.8M289.3 166.9h1.8M288.9 151.2h1.8M299.9 161.7h1.8M295.5 163.7h1.8M287.4 169.5h1.8M286.5 153.4h1.8M278.8 164.1h1.8M301.1 156.5h1.8M291.5 160.3h1.8M280.9 172.1h1.8M301.2 158.1h1.8M303.2 150.7h1.8M281.7 152.5h1.8M299.2 164.4h1.8M292.6 175.5h1.8M283.8 156.6h1.8M285.3 168.1h1.8M271.9 176.6h1.8M295.9 154.3h1.8M303.9 156.8h1.8M292.2 155.3h1.8M283 155.3h1.8M303.7 161.3h1.8M271.6 164.9h1.8M303.9 155.5h1.8M304.9 163h1.8M286.5 157.4h1.8M282.7 175.2h1.8M274.9 160.3h1.8M294.4 177.1h1.8M298.6 169.3h1.8M294.8 149.5h1.8M293.8 152.1h1.8M277.7 173.5h1.8M291.6 169.1h1.8M285.1 165.4h1.8M282.6 163.5h1.8M271.2 183.7h1.8M298.5 160.5h1.8M279.6 176.3h1.8M275.2 172.4h1.8M288.6 171.7h1.8M293.8 148.2h1.8M298.2 149.7h1.8M298.5 146.2h1.8M277.6 173.8h1.8M286.9 159.5h1.8M293.3 166.6h1.8M278.1 158.7h1.8M290.5 149.5h1.8M297.2 171.5h1.8M287.3 167.7h1.8M287.8 173.4h1.8M282.3 156.3h1.8M296.7 171.9h1.8M304.6 166.9h1.8M272 171.8h1.8M283.9 177.2h1.8M279.2 154.2h1.8M273.1 162.1h1.8M289.2 169.1h1.8M304 160.5h1.8M278.5 180.5h1.8M274.3 167.7h1.8M273.6 173.8h1.8M281.8 163.3h1.8M277.4 173.3h1.8M284.6 166h1.8M277.3 164.2h1.8M273.4 169.2h1.8M294.2 154.1h1.8M289.5 151.9h1.8M286.2 170h1.8M282.2 164.4h1.8M280.2 166.4h1.8M286.6 162.3h1.8M294.6 156.8h1.8M300.7 167.7h1.8M303.1 163.5h1.8M288.1 170.2h1.8M301.9 169.7h1.8M297.8 166.6h1.8M285 175.2h1.8M276.7 163.8h1.8M299.3 173h1.8M279.6 167h1.8M278.7 177.4h1.8M302.3 150.3h1.8M292.4 160.8h1.8M280.6 174.1h1.8M299 159.8h1.8M280.9 176.4h1.8M283.6 156.2h1.8M277.2 168.2h1.8M274.3 179h1.8M283.7 152h1.8M295.3 163.9h1.8M278.6 180h1.8M276.6 181.8h1.8M288.5 157.3h1.8M288.9 152.7h1.8M281.1 173.7h1.8M278.8 166h1.8M289.5 150.2h1.8M292.9 166.3h1.8M271.7 172.8h1.8M299 159.5h1.8M271.4 179.1h1.8M282.7 160.7h1.8M275.7 171.6h1.8M279.5 166.9h1.8M281.5 168.5h1.8M299.8 150.6h1.8M301.2 167.8h1.8M299.1 151.8h1.8M299.3 151.5h1.8M285 155.1h1.8M277.6 154h1.8M287.3 171.7h1.8M285.2 176.7h1.8M289.3 157.3h1.8M292.8 165.3h1.8M300.8 155.3h1.8M275.3 182.9h1.8M281.8 159.1h1.8M294 151.2h1.8M277.8 177.9h1.8M304.7 162h1.8M299.2 153.8h1.8M276.2 169.4h1.8M288.7 172.9h1.8M275.4 178.9h1.8M283.9 160h1.8M283 156.6h1.8M281.4 179.4h1.8M284.2 177.5h1.8M283.7 166.4h1.8M276.9 182h1.8M288.5 170.6h1.8M283.5 163.4h1.8M291.7 175.1h1.8M293.3 167.5h1.8M285.2 151.1h1.8M286.1 153.4h1.8M303.1 157.2h1.8M289.3 179h1.8M272.5 181.1h1.8M304.4 152.1h1.8M275 163.2h1.8M302.6 171.5h1.8M302.6 165.6h1.8M280.8 166.2h1.8M274.3 183.8h1.8M295.6 154.4h1.8M278.5 166.7h1.8M303.9 161.4h1.8M301.6 167h1.8M300.5 152.2h1.8M295.6 149.7h1.8M304.3 148.3h1.8M296.2 162.9h1.8M274.2 178.9h1.8M287 167h1.8M285.2 155.1h1.8M289 171.7h1.8M277.5 176.6h1.8M285.3 153.1h1.8M274.6 163.3h1.8M291.8 158.9h1.8M275 159.5h1.8M277.8 154.1h1.8M271.6 174.6h1.8M299.6 167.9h1.8M293.3 156.1h1.8M297.3 153h1.8M270.8 184.3h1.8M280.6 161.9h1.8M287.2 166.9h1.8M287.4 165.1h1.8M290.1 173.2h1.8M287.7 163.3h1.8M290.9 150.9h1.8M295 160.3h1.8M287.4 157.1h1.8M278.8 171.5h1.8M297.1 156.2h1.8M299.3 165.1h1.8M282.2 160.3h1.8M270.9 183.3h1.8M281.2 168.7h1.8M289.6 175.5h1.8M292.8 175.1h1.8M290.3 176.9h1.8M292.9 158.7h1.8M280.3 168.5h1.8M285.7 170.6h1.8M278.4 176.4h1.8M289.7 149.9h1.8M298.4 170.1h1.8M300 160.4h1.8M275.2 165.1h1.8M299.5 171.4h1.8M296.7 152h1.8M300 170.7h1.8M303.8 155.6h1.8M276.5 178.3h1.8M273.2 182.2h1.8M292.5 171.6h1.8M289.3 172.1h1.8M278.2 163h1.8M277.7 166.3h1.8M272.9 164.5h1.8M288.9 171.2h1.8M303.2 167.9h1.8M289.7 165.2h1.8M301.3 152.2h1.8M286.2 155.1h1.8M282.5 165.6h1.8M289 174.3h1.8M284.5 178.5h1.8M298.4 163.3h1.8M272.5 163.3h1.8M280.7 175.3h1.8M278.9 179.1h1.8M297.6 158.7h1.8M295.1 159.3h1.8M273.3 175.4h1.8M282.3 164.5h1.8M288.5 172.9h1.8M285.9 173.5h1.8M282.7 158h1.8M304 163.8h1.8M273.8 167.1h1.8M302.5 149.7h1.8M285.9 167.9h1.8M277.6 156.4h1.8M287.2 157.6h1.8M287 160h1.8M279.2 178.1h1.8M270.9 175.9h1.8M274.9 161.6h1.8M280.6 175.6h1.8M271.3 183h1.8M274.3 175.7h1.8M277.2 165.9h1.8M285.2 161.5h1.8M275.7 164.9h1.8M294.8 162.3h1.8M279.4 178.9h1.8M272.9 170.1h1.8M287.9 171.7h1.8M301.2 160.4h1.8M284.1 170.3h1.8M304.7 157.8h1.8M289.1 158.5h1.8M291.2 154.5h1.8M294.7 166.4h1.8M299.5 159.6h1.8M298.3 159.7h1.8M292.5 155.3h1.8M271.4 167.3h1.8M277 155.5h1.8M279.3 176.3h1.8M302.9 160.6h1.8M288.6 154.6h1.8M288.6 162.7h1.8M293.7 160.8h1.8M286.3 165.5h1.8M279.7 160.4h1.8M276.6 159.2h1.8M279.5 171.6h1.8M275.3 160.4h1.8M296.9 168.4h1.8M272.4 184.6h1.8M294.6 169.9h1.8M289.4 171.6h1.8M290.7 155.7h1.8M294.1 154.6h1.8M287.5 165h1.8M286.2 162.5h1.8M289.1 166h1.8M284.3 156.2h1.8M296.3 156.4h1.8M295 167.6h1.8M280.9 164.9h1.8M303.3 154.1h1.8M290.7 151.9h1.8M304.7 153.5h1.8M301.2 167.5h1.8M298.8 154h1.8M300.7 158.1h1.8M283.7 175.7h1.8M302.4 169.4h1.8M288.3 162.4h1.8M294 152.3h1.8M299.1 164.1h1.8M287.3 172.6h1.8M305.2 158.1h1.8M283.3 158.7h1.8M281.2 156.1h1.8M293.9 152.9h1.8M283 177.7h1.8M300.4 157.8h1.8M270.3 171.1h1.8M274.2 162.1h1.8M299.1 154.3h1.8M300.8 159.6h1.8M283.3 167.1h1.8M282.2 153.4h1.8M288.5 166.5h1.8M271.7 175.2h1.8M293.8 154.5h1.8M288.6 177.2h1.8M271.3 176.9h1.8M276.5 154.1h1.8M281.1 179.6h1.8M289.2 172.2h1.8M279.2 175.7h1.8M279.6 162.2h1.8M286.4 157.8h1.8M277.7 153.9h1.8M300.9 172.3h1.8M286.5 165.2h1.8M289.3 170.1h1.8M301 153.4h1.8M297.6 169.5h1.8M282.9 163.1h1.8M295.5 142.7h1.8M285.1 148.5h1.8M278 152.4h1.8M295.3 141h1.8M280 148.8h1.8M304.9 140.4h1.8M291.1 143.3h1.8M286 149h1.8M280.3 149.5h1.8M302.2 146.3h1.8M285.6 148.4h1.8M291.7 140.8h1.8M290.5 147.8h1.8M292.6 146.4h1.8M299.4 143h1.8M280.5 149.5h1.8M297 141.6h1.8M303.5 144.7h1.8M302 141.2h1.8M299.1 145.9h1.8M277 150.8h1.8M298.5 146.9h1.8M276 154.6h1.8M288.9 143.5h1.8M284.4 148.8h1.8M288.9 150h1.8M285.5 144.4h1.8M296.8 140.8h1.8M302.6 138.2h1.8M276.6 152.4h1.8M281.3 145.4h1.8M291.8 144.8h1.8M297.5 145.5h1.8M303.8 139.9h1.8M301.1 145h1.8M297.5 146.1h1.8M281.4 145.2h1.8M283.5 149.9h1.8M276 153.2h1.8M285.7 145.2h1.8M301.2 140.9h1.8M304.3 144.6h1.8M279.3 152.1h1.8M301.8 137.2h1.8M299.7 140.3h1.8M294.6 148.7h1.8M302.8 143.3h1.8M302.8 142.5h1.8M285.6 144.3h1.8M303.1 137.8h1.8M297.8 146.1h1.8M279.1 147h1.8M298.3 141.5h1.8M277.2 148.5h1.8M287.1 148h1.8M295 143h1.8M292.2 139.5h1.8M303.5 140.6h1.8M302.5 138.4h1.8M281.4 151.8h1.8M296.5 138.5h1.8M288 144.4h1.8M298.7 139.1h1.8M279.8 149h1.8M286.1 149.4h1.8M287 150.7h1.8M283.8 147.9h1.8M286 148.1h1.8M285.1 145.8h1.8M285.1 143.8h1.8M298.8 141h1.8M290.1 146.7h1.8M276.8 151.4h1.8M290 142h1.8M303.5 138h1.8M292.4 140.9h1.8M277.4 152.8h1.8M298.5 144.6h1.8M297.8 141.7h1.8M285.6 150.1h1.8M288.5 142.7h1.8M286.7 148.9h1.8M299.2 142.7h1.8M302.5 141.6h1.8M286.7 147.3h1.8M293.4 141.9h1.8M295.2 146.3h1.8M284.6 143.6h1.8M296.5 147.6h1.8M304.4 139.4h1.8M289.3 148.3h1.8M294.5 147.2h1.8M292 141.8h1.8M289.7 146.8h1.8M281.8 151.3h1.8M305.2 139.9h1.8M294 140.8h1.8M303.6 140.3h1.8M296.8 146.2h1.8M283 146.1h1.8M288.1 142h1.8M289.6 148.4h1.8M287.9 149.3h1.8M282.1 144.8h1.8M285.8 146.3h1.8M282.8 146.1h1.8M297.4 142h1.8M303.1 138.7h1.8M288.1 146.3h1.8M293.5 144.2h1.8M296.8 138.6h1.8M289.3 147.2h1.8M278.7 153.6h1.8M280.2 150.6h1.8M291.9 143.4h1.8M277 151.1h1.8M284.1 146.9h1.8M290.7 147.1h1.8M282.1 148.5h1.8M292.5 140.6h1.8M305 139.5h1.8M285.1 148.4h1.8M291.8 141.3h1.8M279.9 150.7h1.8M299.2 146h1.8M279.8 151.1h1.8M275.8 153.1h1.8M273.6 156.1h1.8M276.2 150.7h1.8M276.2 152h1.8M272.1 160.3h1.8M275.5 150.4h1.8M275.9 154.2h1.8M274.2 154.5h1.8M274.1 154.5h1.8M301.3 131.6h1.8M306.2 140h1.8M296.9 130.5h1.8M310.2 138h1.8M302.9 133.1h1.8M297.6 139.6h1.8M305.2 130.2h1.8M308.6 131.3h1.8M301.9 125.5h1.8M298.8 126h1.8M306.9 119.5h1.8M308.7 119h1.8M297.4 123.5h1.8M305.6 121.1h1.8M305.2 136h1.8M307.2 132.4h1.8M299.5 134.7h1.8M301.7 132.6h1.8M305.6 133.8h1.8M309.4 128.3h1.8M309.5 126.6h1.8M298.6 128h1.8M308.4 139.4h1.8M306 139.7h1.8M309.5 135.1h1.8M306.6 136.3h1.8M305.7 140.2h1.8M300.7 124.5h1.8M304.6 132.2h1.8M301.9 128.2h1.8M300.7 137.2h1.8M301.7 134.7h1.8M299.2 139.3h1.8M304.5 128.5h1.8M302.5 139.5h1.8M298.5 123.4h1.8M301.2 139.1h1.8M304 135.3h1.8M300.9 140.4h1.8M308.6 119.5h1.8M300.1 119.8h1.8M302.1 120h1.8M297.4 134.1h1.8M300.1 134.7h1.8M301.7 132.2h1.8M305.7 140.7h1.8M310.3 137.1h1.8M307.2 130h1.8M302 133.4h1.8M298.4 140.1h1.8M298 136.8h1.8M299.9 138.9h1.8M309.5 137.5h1.8M298.2 123.8h1.8M307.3 138.7h1.8M301 124.2h1.8M300.8 138.2h1.8M302.1 135.4h1.8M303.4 122.7h1.8M303.5 139h1.8M299.3 123.1h1.8M306.1 125h1.8M298.6 130.3h1.8M308.5 124.5h1.8M297.5 135.3h1.8M310.5 132.8h1.8M308.2 135.6h1.8M310.5 127.7h1.8M300.9 129.7h1.8M298.8 135.1h1.8M301.8 129.8h1.8M297.6 125.7h1.8M300.5 126.8h1.8M298.6 134h1.8M299.4 120.6h1.8M307.7 141.1h1.8M302.9 139.1h1.8M303.2 129.9h1.8M303.9 113.9h1.8M305.6 116.1h1.8M307.4 114.8h1.8M305 129.6h1.8M305.9 126.1h1.8M304.1 113.7h1.8M304.8 115.5h1.8M302.6 138.1h1.8M304.1 114.5h1.8M306.3 136.6h1.8M306.7 131.4h1.8M301.4 137.7h1.8M303.2 115.6h1.8M302.9 122.7h1.8M303.8 122.1h1.8M303.4 121.4h1.8M303.2 119.3h1.8M307.8 134.3h1.8M301.7 137.9h1.8M305.4 122.6h1.8M305.3 117.4h1.8M305.9 114.1h1.8M308.5 135.8h1.8M301.1 112.4h1.8M307.8 117.4h1.8M305.7 114.2h1.8M301.8 113.6h1.8M306.6 116.7h1.8M305 120.7h1.8M304.8 115.7h1.8M306.6 133h1.8M301.4 126.2h1.8M303.2 128.8h1.8M307.2 128.2h1.8M301.8 122.1h1.8M304.8 125.5h1.8M308.7 127h1.8M301.6 133.4h1.8M303.2 119.6h1.8M304.3 125.2h1.8M305.6 121.8h1.8M304.2 133h1.8M306.7 133.8h1.8M303.7 113.8h1.8M302.5 104.5h1.8M304.7 108h1.8M304.2 103h1.8M307.4 103.8h1.8M304.2 102.6h1.8M306.7 107.5h1.8M307.6 111.7h1.8M307.4 115.4h1.8M309 119.5h1.8M301 113.9h1.8M303.2 108.6h1.8M306 101h1.8M299.3 116h1.8M308.6 119h1.8M308.5 100.3h1.8M303.1 119.2h1.8M307.5 104.9h1.8M304.6 109.3h1.8M306.8 101.2h1.8M303.6 117.8h1.8M305.6 102.1h1.8M307.5 117.7h1.8M301.4 112.5h1.8M304.5 104h1.8M303.4 115.2h1.8M307.8 104.6h1.8M309 101.2h1.8M305.2 101.5h1.8M307.1 113.9h1.8M307.3 88.2h1.8M308.3 90.7h1.8M270 163.6h1.8M267.2 151.7h1.8M270.1 170.3h1.8M263.5 152.5h1.8M262.3 164h1.8M267.8 148.4h1.8M271.5 165.4h1.8M266.5 157.7h1.8M269.6 158.7h1.8M257.9 171.5h1.8M258.4 171.8h1.8M267.9 174.5h1.8M266.9 168h1.8M266.2 153.2h1.8M288.8 141.5h1.8M281.6 135h1.8M286.2 136.2h1.8M281.5 138.6h1.8M285.1 136.2h1.8M285.5 142.9h1.8M281.8 133.4h1.8M282.1 137.3h1.8M285.2 136.4h1.8M274.3 135.1h1.8M281.9 136.5h1.8M289.3 138.3h1.8M286 137.4h1.8M274.3 133.7h1.8M286.2 141.6h1.8M308.3 140.8h1.8M311.5 146.7h1.8M311.2 146.1h1.8M307.2 159.2h1.8M311.8 146.7h1.8M326 131.3h1.8M317.4 144.7h1.8" stroke="#000" stroke-width="1.8" fill="none"/>
<path d="M263.5 179.1h1.4M256.5 167.3h1.4M300.8 104.6h1.4M302.6 94.8h1.4M301.6 82.1h1.4M306 82.5h1.4M303.5 77.9h1.4M307.6 81.7h1.4M304.8 86.5h1.4M306 92.8h1.4M270.2 153.6h1.4M264.8 161.1h1.4M254.9 158.7h1.4M259 164h1.4M264.8 157.4h1.4M266.6 167.8h1.4M261.1 152.4h1.4M259.5 147h1.4M265.6 171.2h1.4M264.1 164.8h1.4M264.5 148.6h1.4M255.6 146.1h1.4M257 154.7h1.4M277.6 133.1h1.4M276.3 126.3h1.4M287.7 133.2h1.4M289.6 129.4h1.4M278.1 141.2h1.4M281.4 127.3h1.4M276.3 137.9h1.4M310.8 163.4h1.4M309.6 169.7h1.4M309.1 170.6h1.4M311.3 162.6h1.4M287 64.8h1.4M294.7 102.8h1.4M295 111.8h1.4M319.6 94.5h1.4M345.5 78.8h1.4M354.8 80h1.4M336.4 86.7h1.4M319.4 94.9h1.4M327 95.9h1.4M334.9 95.9h1.4M345.5 106h1.4M331 107.5h1.4M324.8 110.8h1.4M338.8 110.4h1.4M362.4 110.4h1.4M327.5 112.7h1.4M323.3 117.8h1.4M346.5 120.7h1.4M358.5 123h1.4M327.5 123.4h1.4M327 128.2h1.4M326 133.6h1.4M333 133.6h1.4M319.4 143h1.4M320 146.8h1.4M324.8 148.2h1.4M329 148.2h1.4M334 150.7h1.4M323.6 172.8h1.4M303.9 182h1.4" stroke="#000" stroke-width="1.4" fill="none"/>
<path d="M332.5 27.4H334.5M357.5 27.4H363.0" stroke="#000" stroke-width="1.2" stroke-dasharray="1.5 1.5" fill="none"/>
<rect x="291" y="27.4" width="22" height="148.9" fill="none" stroke="#000" stroke-width="1.6"/>
<rect x="240.5" y="26.2" width="152.7" height="169.8" fill="none" stroke="#000" stroke-width="1.6"/>
<path d="M241.5 196.7v5.5M239.8 195.1h-6.0M247.4 196.7v3.0M239.8 188.6h-3.0M253.3 196.7v3.0M239.8 182.1h-3.0M259.2 196.7v3.0M239.8 175.5h-3.0M265.0 196.7v3.0M239.8 169.0h-3.0M270.9 196.7v5.5M239.8 162.5h-6.0M276.8 196.7v3.0M239.8 156.0h-3.0M282.7 196.7v3.0M239.8 149.5h-3.0M288.6 196.7v3.0M239.8 143.1h-3.0M294.5 196.7v3.0M239.8 136.6h-3.0M300.3 196.7v5.5M239.8 130.1h-6.0M306.2 196.7v3.0M239.8 123.6h-3.0M312.1 196.7v3.0M239.8 117.1h-3.0M318.0 196.7v3.0M239.8 110.7h-3.0M323.9 196.7v3.0M239.8 104.2h-3.0M329.8 196.7v5.5M239.8 97.7h-6.0M335.6 196.7v3.0M239.8 90.9h-3.0M341.5 196.7v3.0M239.8 84.0h-3.0M347.4 196.7v3.0M239.8 77.2h-3.0M353.3 196.7v3.0M239.8 70.3h-3.0M359.2 196.7v5.5M239.8 63.5h-6.0M365.1 196.7v3.0M239.8 57.0h-3.0M370.9 196.7v3.0M239.8 50.5h-3.0M376.8 196.7v3.0M239.8 44.1h-3.0M382.7 196.7v3.0M239.8 37.6h-3.0M388.6 196.7v5.5M239.8 31.1h-6.0" stroke="#000" stroke-width="1.3" fill="none"/>
<text class="tx" transform="translate(242.3 212.2) scale(0.9 1)" text-anchor="middle">0</text>
<text class="tl" x="230.3" y="195.1" text-anchor="middle" transform="rotate(-90 230.3 195.1)">0</text>
<text class="tx" transform="translate(271.7 212.2) scale(0.9 1)" text-anchor="middle">50</text>
<text class="tl" x="230.3" y="162.5" text-anchor="middle" transform="rotate(-90 230.3 162.5)">50</text>
<text class="tx" transform="translate(301.1 212.2) scale(0.9 1)" text-anchor="middle">100</text>
<text class="tl" x="230.3" y="130.1" text-anchor="middle" transform="rotate(-90 230.3 130.1)">100</text>
<text class="tx" transform="translate(330.6 212.2) scale(0.9 1)" text-anchor="middle">150</text>
<text class="tl" x="230.3" y="97.7" text-anchor="middle" transform="rotate(-90 230.3 97.7)">150</text>
<text class="tx" transform="translate(360.0 212.2) scale(0.9 1)" text-anchor="middle">200</text>
<text class="tl" x="230.3" y="63.5" text-anchor="middle" transform="rotate(-90 230.3 63.5)">200</text>
<text class="tx" transform="translate(389.4 212.2) scale(0.9 1)" text-anchor="middle">250</text>
<text class="tl" x="230.3" y="31.1" text-anchor="middle" transform="rotate(-90 230.3 31.1)">250</text>
<path d="M110.4 316.9h1.8M111.4 296.5h1.8M107.4 280.7h1.8M111 279.9h1.8M105.9 297.4h1.8M111.8 277h1.8M107.7 309.9h1.8M112.7 310.4h1.8M108.7 272.7h1.8M111.6 305.5h1.8M108.8 311.5h1.8M114.1 310.2h1.8M109 278.5h1.8M110.1 270h1.8M110.2 274.3h1.8M110.1 292.8h1.8M106.3 285.6h1.8M109.6 309.2h1.8M110.7 303.1h1.8M108.7 271.2h1.8M110.7 275.6h1.8M107 291.8h1.8M115 310.3h1.8M107.7 295.4h1.8M112.8 291.3h1.8M106.8 298.9h1.8M105.4 317.5h1.8M106.1 290.3h1.8M110.7 299.8h1.8M110.1 275h1.8M111.3 311.5h1.8M110.3 316.6h1.8M109 300h1.8M110.8 285h1.8M106 319.8h1.8M106.3 309.9h1.8M106.5 281.5h1.8M111.8 292.7h1.8M113.3 312.2h1.8M109.9 303.2h1.8M112.3 313.2h1.8M111 275.7h1.8M111.7 302.2h1.8M108.2 305.5h1.8M108.2 290.8h1.8M111.1 305.8h1.8M112.2 270.1h1.8M114.2 317h1.8M106.3 292.9h1.8M111.1 270.8h1.8M106 287.9h1.8M111.6 267.9h1.8M111.2 271.8h1.8M106.7 289.6h1.8M110.2 290.9h1.8M107.8 289.5h1.8M108.2 288.6h1.8M111.3 279h1.8M109.9 308h1.8M111 280.4h1.8M112.2 291.7h1.8M112 303.5h1.8M112.9 310.6h1.8M108.9 310.6h1.8M113.1 314.5h1.8M108.5 268.4h1.8M112.3 292.4h1.8M114.5 307.3h1.8M109.6 267.7h1.8M113.7 306.9h1.8M106.7 319.9h1.8M106.7 289h1.8M105.4 314.8h1.8M109.7 313.9h1.8M113 295.2h1.8M108.4 291.9h1.8M114.3 316.8h1.8M110 274.4h1.8M106.7 305.7h1.8M112.8 290.6h1.8M106.5 280.1h1.8M111.1 295h1.8M107.3 288.6h1.8M107.8 300.9h1.8M108.7 281.5h1.8M110.2 266.6h1.8M110.4 277.6h1.8M112 294.7h1.8M111.2 308.6h1.8M107.2 286h1.8M109.5 270.3h1.8M111.6 275.8h1.8M109 312.5h1.8M111.6 308.8h1.8M108.7 295.1h1.8M109.3 276.1h1.8M111.7 297.3h1.8M106.2 316.1h1.8M112.7 291.6h1.8M110.2 307.2h1.8M108.7 299.6h1.8M106.8 278.7h1.8M105.6 316h1.8M113.5 312.4h1.8M108.2 302.4h1.8M113.1 294.7h1.8M110.4 286.7h1.8M106.3 302.8h1.8M108.7 279.5h1.8M107.1 304.2h1.8M108.7 271.6h1.8M106.8 299.9h1.8M105.4 316h1.8M108.6 308.8h1.8M106.3 312.8h1.8M111 293.1h1.8M112.8 311.6h1.8M107.1 304.9h1.8M107.2 289.7h1.8M109.9 308.1h1.8M113.3 307.6h1.8M112 297.9h1.8M110.8 308h1.8M107 287.8h1.8M105.9 285.5h1.8M107.6 292.9h1.8M111.1 295.6h1.8M107.4 278.5h1.8M113.6 304.2h1.8M110.6 278.5h1.8M110.5 272.4h1.8M105.4 290.5h1.8M114.1 309.9h1.8M109.7 312.1h1.8M110.1 308.7h1.8M113.3 306.1h1.8M110.7 318.3h1.8M108.7 318.6h1.8M109.7 306.3h1.8M106 304.8h1.8M112.3 296.3h1.8M109.5 281.9h1.8M105.9 283.1h1.8M110.3 299.4h1.8M107.5 271.2h1.8M106.3 296.3h1.8M107.4 298.5h1.8M107.1 278.6h1.8M105.5 304h1.8M107.9 304h1.8M111.1 294.5h1.8M109.2 303.7h1.8M107.9 279.1h1.8M107 283.9h1.8M113.7 293.7h1.8M108.6 271.6h1.8M106.7 283h1.8M108.4 268.9h1.8M112.2 289.9h1.8M110.1 267.3h1.8M111.7 312.9h1.8M106.4 316.5h1.8M109.1 292.2h1.8M111 301.5h1.8M108.9 314.8h1.8M110.3 266.1h1.8M111.9 304.9h1.8M109.6 278.9h1.8M109.3 308.3h1.8M107 308.1h1.8M113 308.1h1.8M107.6 292.4h1.8M107.3 313.2h1.8M112.2 290.9h1.8M114 315.1h1.8M109.8 314.5h1.8M106.7 302.5h1.8M109.9 312.5h1.8M111.8 277.2h1.8M109.9 314.3h1.8M108.5 272.8h1.8M108.2 276.5h1.8M109.5 313.8h1.8M109.4 303.8h1.8M109.5 300.4h1.8M112.4 318.9h1.8M107.6 283.8h1.8M109.2 304.5h1.8M108.6 269.7h1.8M106.7 291.9h1.8M106.6 294.8h1.8M106.5 280.7h1.8M113.8 302.9h1.8M110.2 318.2h1.8M105.9 280.8h1.8M108 313.4h1.8M106.9 296.6h1.8M110.6 384.5h1.8M108.6 330.6h1.8M105.1 357.3h1.8M114.2 321.6h1.8M111.4 384.5h1.8M108.8 371.2h1.8M113.8 347.8h1.8M107 356.2h1.8M108.7 343.8h1.8M105.4 336.5h1.8M114 388.2h1.8M112 327.1h1.8M109.9 345.4h1.8M104.8 326h1.8M105.7 365.8h1.8M110 348h1.8M106.1 334.3h1.8M106.7 320h1.8M106.6 352.7h1.8M108.9 342.2h1.8M109.3 376.6h1.8M112.4 343.8h1.8M108.6 344.2h1.8M107.1 335.4h1.8M112.6 369.4h1.8M114.3 356.8h1.8M112.1 393.2h1.8M112.7 381.6h1.8M104.2 330.3h1.8M106.4 360.5h1.8M111.9 384.9h1.8M113.1 347.9h1.8M110.4 381.6h1.8M109.9 363.8h1.8M111 384h1.8M113.6 346.9h1.8M110.2 362.5h1.8M107.3 327.4h1.8M112.2 331.5h1.8M106.3 352.3h1.8M109.8 383.5h1.8M112.9 353.1h1.8M111.5 380.4h1.8M109.8 358.4h1.8M109.8 345.6h1.8M114.5 337.6h1.8M106.4 379.7h1.8M108.2 339.5h1.8M105.7 321.3h1.8M105.7 328.8h1.8M113.2 329.1h1.8M108.8 370h1.8M115.2 339h1.8M110.5 364.9h1.8M111.4 346.6h1.8M112.8 333.7h1.8M115 351.7h1.8M114.1 322.8h1.8M114 326.5h1.8M110 376.9h1.8M113.3 354.3h1.8M114.2 325.4h1.8M115.2 382.4h1.8M104.4 326.9h1.8M109.7 380h1.8M105.6 377.5h1.8M107.7 362.9h1.8M113.9 328.3h1.8M109.9 369.8h1.8M112.5 362.9h1.8M108.7 370.4h1.8M114.1 346.7h1.8M106.9 347.4h1.8M112.9 326h1.8M111.7 357h1.8M112.3 351.1h1.8M107.6 357.1h1.8M114.8 329.7h1.8M108.8 328.8h1.8M113.8 343.8h1.8M107.8 333.8h1.8M109.9 331.8h1.8M105.7 345.7h1.8M112.6 320.5h1.8M112.7 355.1h1.8M114.1 352h1.8M104.9 330.5h1.8M111.1 365h1.8M110.4 352h1.8M111.2 390.5h1.8M110.3 343.5h1.8M106.2 387.5h1.8M114.7 337.3h1.8M112.3 373.4h1.8M108.9 375.9h1.8M107.2 392h1.8M112.4 364.2h1.8M113.2 372.1h1.8M107.7 322.7h1.8M104.1 335.5h1.8M106.9 323.8h1.8M112.6 372.3h1.8M107.4 354h1.8M113.5 333.6h1.8M107 343.6h1.8M107.6 378.2h1.8M110.2 328.1h1.8M107 374.1h1.8M114.8 360.7h1.8M106.5 347.6h1.8M111 365h1.8M105.3 336.6h1.8M112.9 387.6h1.8M109.8 331h1.8M111.2 352.1h1.8M114.3 340.9h1.8M112.6 327.8h1.8M106.3 373.5h1.8M109.7 390.6h1.8M106.1 353.4h1.8M108.9 391.1h1.8M112.6 360.7h1.8M105.4 338.2h1.8M106.4 380.5h1.8M115.6 351.1h1.8M115.1 378.3h1.8M113.7 347.3h1.8M106.9 365.1h1.8M110.5 360.1h1.8M112.2 332.5h1.8M105 333h1.8M115.1 384.2h1.8M111.5 365.3h1.8M111.9 376.4h1.8M107.2 363.8h1.8M112.4 366.5h1.8M111.8 355.7h1.8M115.6 352.1h1.8M111.6 331.7h1.8M112 335.8h1.8M111.8 377.6h1.8M111.1 325.1h1.8M104.9 350.2h1.8M107.2 355.8h1.8M113 353.7h1.8M107.7 344.2h1.8M114.5 320.1h1.8M109.5 393.5h1.8M113 387h1.8M113.4 322.8h1.8M114 349.4h1.8M111.4 330.1h1.8M113.2 358.2h1.8M111.3 357.8h1.8M114.4 328.5h1.8M106.5 349.8h1.8M114.4 377.5h1.8M105.7 336.8h1.8M111.7 336.4h1.8M110.1 359.2h1.8M108 337.8h1.8M105.9 365.7h1.8M111.9 331.2h1.8M113.8 352.8h1.8M114.2 347.2h1.8M114.6 341.7h1.8M110.6 392.4h1.8M105.9 337h1.8M106 327.2h1.8M110.7 340.1h1.8M107.7 342.2h1.8M111.5 377.7h1.8M111.2 336.4h1.8M112.8 371h1.8M109.5 371.7h1.8M112.6 367.9h1.8M110.5 358.3h1.8M106.9 335.5h1.8M109.9 354.8h1.8M112.5 368.1h1.8M105.2 329.8h1.8M111 361.3h1.8M115.3 347.7h1.8M105.8 325.7h1.8M105.5 377.1h1.8M112.1 330h1.8M109.1 365.6h1.8M113.3 359.7h1.8M115 363.9h1.8M113.3 364.7h1.8M111.3 320.9h1.8M112.6 354.5h1.8M112.6 330.8h1.8M107.9 347.3h1.8M114.5 336.4h1.8M108.1 393.3h1.8M107.7 365.8h1.8M108.8 321.1h1.8M106.1 344.5h1.8M113.9 371.1h1.8M108.1 373.1h1.8M106.5 369.4h1.8M110.7 379.5h1.8M112.8 361.5h1.8M110.8 345.4h1.8M115 331.3h1.8M108 357.7h1.8M113.8 340.9h1.8M106.3 384.4h1.8M114.6 381.5h1.8M116 367.9h1.8M111.3 358.3h1.8M109.8 326.7h1.8M106.9 346.2h1.8M111.1 364.6h1.8M104.1 337.6h1.8M113.4 321.7h1.8M114.6 380.5h1.8M106.6 365.2h1.8M115.4 367h1.8M110.3 361.3h1.8M112.8 380.2h1.8M108.2 385h1.8M112.6 382.2h1.8M115.2 359.1h1.8M110.6 349.5h1.8M114.6 351.2h1.8M111.6 385.5h1.8M108.3 338.8h1.8M108 333.8h1.8M114.8 319.9h1.8M105 336.8h1.8M107.8 369.1h1.8M109.9 357.3h1.8M110.4 334.9h1.8M115.3 380.2h1.8M113 378.6h1.8M108.4 341.8h1.8M111.9 349.5h1.8M113.3 335.7h1.8M105.9 387.7h1.8M115.2 357.9h1.8M106.9 385.7h1.8M106.5 338.6h1.8M111.8 392h1.8M114.4 374.2h1.8M115 323.2h1.8M114.3 373.3h1.8M110.2 376h1.8M114.9 350.3h1.8M109.5 373.2h1.8M114.5 329.6h1.8M109.5 322.8h1.8M105.8 375.3h1.8M108.3 356.5h1.8M108.9 384.9h1.8M112.4 331.3h1.8M105.7 362h1.8M115 332.5h1.8M107.7 349.7h1.8M106.8 363.6h1.8M107.9 356.9h1.8M107 367.2h1.8M104.9 358.6h1.8M105.7 320.2h1.8M112.2 327.2h1.8M115 334.2h1.8M106.3 362.2h1.8M104.5 344.7h1.8M113.5 366h1.8M113.8 329.2h1.8M110.6 360h1.8M115.2 379.7h1.8M113.1 375.4h1.8M106.6 364.6h1.8M111.9 350.9h1.8M106.3 374.7h1.8M112.2 355.1h1.8M114.6 358.5h1.8M111.7 349.5h1.8M106.6 345.1h1.8M105.3 373.3h1.8M108.1 374.8h1.8M110.3 331.6h1.8M114.7 341.7h1.8M114.5 320.2h1.8M107.6 351.9h1.8M109.7 326.4h1.8M109.7 333.2h1.8M109.1 386.4h1.8M114.2 392.6h1.8M112.5 363.4h1.8M112.2 360.5h1.8M107.7 355.2h1.8M113.7 331.2h1.8M115 347.5h1.8M109.7 381.3h1.8M109.6 356.5h1.8M115.1 363.2h1.8M110.7 379.8h1.8M112.6 376.8h1.8M112.5 365.3h1.8M107.1 373.9h1.8M107 343.7h1.8M109 345.5h1.8M109.4 375.9h1.8M108.9 355.2h1.8M107.4 326.6h1.8M114.1 362.7h1.8M107.1 345.1h1.8M106.6 372.7h1.8M106.3 369.5h1.8M105.6 378h1.8M113.8 376.5h1.8M108.1 384.7h1.8M106.8 360.9h1.8M105 342.4h1.8M112.3 356.6h1.8M108.2 347.2h1.8M112.7 383.5h1.8M113.2 324.4h1.8M107.6 370h1.8M107 323.5h1.8M110.5 329.6h1.8M109.5 367.1h1.8M108.6 393.5h1.8M109.4 333.9h1.8M105.1 326h1.8M108.3 326.9h1.8M114.2 337.7h1.8M110.9 355.2h1.8M113.8 353.2h1.8M108 393.8h1.8M111.3 378.4h1.8M110.4 393.5h1.8M105.9 347.1h1.8M114.6 392.3h1.8M113.4 357.6h1.8M106.6 392.8h1.8M108.5 389.9h1.8M105.9 361.1h1.8M112.6 365.9h1.8M111.7 331.7h1.8M108 330.7h1.8M108.2 367.3h1.8M113.9 338.1h1.8M110.3 353.7h1.8M114.5 356.6h1.8M112 331.5h1.8M110.8 378.3h1.8M107.9 361.4h1.8M114.6 338.7h1.8M113 345.6h1.8M115.2 350.1h1.8M108.2 327.6h1.8M112.7 355h1.8M107 347.1h1.8M105.7 364.2h1.8M109.6 383.4h1.8M107.4 340h1.8M106.8 320.6h1.8M114.9 366.6h1.8M110.3 378.4h1.8M113.2 376.5h1.8M110.8 355h1.8M115.2 357.3h1.8M113.3 370.5h1.8M108.6 353.5h1.8M107.9 366.9h1.8M109 330.5h1.8M110 338.6h1.8M111.6 370.1h1.8M113 339.2h1.8M107.6 348.8h1.8M112.4 389.1h1.8M108.9 358.4h1.8M108.7 320.1h1.8M106.4 354.6h1.8M112.7 374.7h1.8M107.9 348.4h1.8M109 384.6h1.8M109.6 351.3h1.8M110 326.3h1.8M109.9 389.2h1.8M112.4 389h1.8M112.5 369.5h1.8M110.6 383.4h1.8M115 361.1h1.8M107 342.1h1.8M106.4 338.1h1.8M111.1 377.8h1.8M105.7 344.1h1.8M107.8 344.9h1.8M105.1 340.5h1.8M114.8 340.3h1.8M111.3 342.9h1.8M108.7 378.7h1.8M110.4 363h1.8M107.1 368.8h1.8M111 380.2h1.8M111.4 322h1.8M113.8 387.5h1.8M110.6 379.3h1.8M112.1 369.7h1.8M110.4 378.7h1.8M109.3 379.9h1.8M105.7 373.1h1.8M108.5 387.4h1.8M114.1 386.1h1.8M115.9 366.8h1.8M111.9 388.8h1.8M112.5 376.9h1.8M115.8 357.4h1.8M109.2 374.5h1.8M107.4 360h1.8M107.9 379.3h1.8M110.4 366.3h1.8M106.9 374.1h1.8M109.9 382.9h1.8M111.5 326.6h1.8M115.1 363.6h1.8M114.8 369.7h1.8M113.8 328.9h1.8M114.5 366.4h1.8M108.6 349.1h1.8M113.7 333.7h1.8M105.9 333.5h1.8M109.4 344.4h1.8M112 346.6h1.8M109.9 344.1h1.8M113.9 365.9h1.8M108.8 358.9h1.8M106.7 376.6h1.8M104.6 324.3h1.8M112.5 349.4h1.8M113.1 381.2h1.8M107.4 356.2h1.8M110.4 378.3h1.8M107.2 372.4h1.8M106.2 323.2h1.8M107 367.6h1.8M112.5 343.6h1.8M115.5 354.8h1.8M107.7 340.7h1.8M107.8 379.2h1.8M109.4 386.6h1.8M104.2 324.5h1.8M105.1 321.2h1.8M114.8 335.3h1.8M112.2 343.9h1.8M111.6 358.3h1.8M109.5 355.4h1.8M115 372.1h1.8M110 345.2h1.8M114.9 372.2h1.8M108.4 348.8h1.8M111.3 330.3h1.8M114.6 394.5h1.8M106.3 345h1.8M113.6 333.4h1.8M107 349.4h1.8M113.9 363.3h1.8M114.6 325.9h1.8M107.6 339.1h1.8M110.5 345.5h1.8M106.8 354.4h1.8M114.3 381.8h1.8M109.8 369.4h1.8M105.3 343.6h1.8M112.9 375.2h1.8M112.7 321.4h1.8M109.9 337.7h1.8M112.5 387.9h1.8M108.8 342.9h1.8M113.9 362.5h1.8M109.2 354.6h1.8M109.8 329.4h1.8M114.3 362h1.8M107.2 329.7h1.8M104.3 349.8h1.8M115.6 342h1.8M110.2 323.4h1.8M105.3 361.3h1.8M107 347.1h1.8M115.7 336h1.8M109.5 326.2h1.8M109 392.9h1.8M105.3 365.2h1.8M114 375.1h1.8M106.5 380.4h1.8M112.3 372.7h1.8M106.9 348.9h1.8M107.6 326.2h1.8M108.5 356.4h1.8M106.9 341.8h1.8M111.3 326.6h1.8M111.8 374.2h1.8M114.7 371.7h1.8M110.8 387.4h1.8M113.6 387.8h1.8M106.6 360.3h1.8M113.9 382.9h1.8M106.5 355.8h1.8M115.4 361.3h1.8M108.9 357.9h1.8M112.7 333.5h1.8M108.2 368.5h1.8M107.4 334.3h1.8M114.6 343.4h1.8M112.1 383.8h1.8M107.2 377.8h1.8M112.9 356.1h1.8M108 370.6h1.8M106.2 383.2h1.8M109.4 319.1h1.8M107.8 323.4h1.8M112.3 353.7h1.8M112.1 351.4h1.8M108.9 384.3h1.8M114.8 344h1.8M105.5 357.4h1.8M107 379.7h1.8M107.7 371.2h1.8M105.5 345.4h1.8M109.7 361.4h1.8M105.8 372.5h1.8M107.2 369.2h1.8M113.3 346.9h1.8M107.4 329.9h1.8M113.4 347.4h1.8M109.3 380.8h1.8M114.4 364.1h1.8M108.5 343.9h1.8M105.5 349.9h1.8M108.4 322h1.8M111.5 344.9h1.8M108.9 386.2h1.8M109.3 390.5h1.8M105.4 349.4h1.8M107.1 366.3h1.8M106.7 385.9h1.8M109.1 376.7h1.8M113.8 390.7h1.8M107.5 386h1.8M115.1 358.3h1.8M107.9 361.1h1.8M108.5 323.1h1.8M107.1 363.3h1.8M105.9 376.4h1.8M107.3 354.4h1.8M109.8 393.5h1.8M112.3 351.7h1.8M114.5 350.1h1.8M115 339.5h1.8M112.1 320.7h1.8M110.4 357.2h1.8M113.3 344h1.8M113.9 339.5h1.8M107.6 389.7h1.8M112.2 356.3h1.8M110.7 391.5h1.8M113.5 323.6h1.8M105.8 359h1.8M107.5 373.4h1.8M112 376.5h1.8M106.6 323.6h1.8M112.8 324.4h1.8M105.2 358.8h1.8M111.4 333.3h1.8M111.6 334.6h1.8M105.7 360.7h1.8M107.3 348.9h1.8M108.6 370.3h1.8M107.1 323.4h1.8M111.1 376.2h1.8M104.8 344.9h1.8M104.7 321.6h1.8M109.2 391.5h1.8M109 374.5h1.8M111.7 347h1.8M108.1 331.2h1.8M114.5 376.7h1.8M111.9 337.3h1.8M106.6 370.2h1.8M106.9 376.1h1.8M113.5 361.9h1.8M114.7 354.6h1.8M108.6 370.8h1.8M108.3 342.1h1.8M110.2 325.6h1.8M110.6 371.6h1.8M112.1 339.1h1.8M112.6 346.2h1.8M109.6 383.5h1.8M110.7 346.4h1.8M113.5 356.9h1.8M114.2 339.7h1.8M114 359h1.8M111.6 387.8h1.8M114.3 379.5h1.8M107.6 321.4h1.8M114.3 351h1.8M115.3 361.8h1.8M108.9 362.3h1.8M113.5 325.5h1.8M109.3 339.3h1.8M107 328.4h1.8M113.7 368.3h1.8M105.5 360h1.8M105.8 354.9h1.8M114.2 390.5h1.8M112.7 330.6h1.8M114.1 382.6h1.8M104.5 344.9h1.8M107.8 337.1h1.8M107.2 340.7h1.8M110.5 322.2h1.8M108.9 354.8h1.8M106 320.3h1.8M112.7 381.6h1.8M114.6 338h1.8M108.2 324.9h1.8M110.2 393.5h1.8M114.6 353.8h1.8M110.9 360h1.8M115.1 349.6h1.8M112.5 333.6h1.8M111.8 378.5h1.8M110.7 363.1h1.8M114.8 354.1h1.8M112.2 332.1h1.8M105.7 353.5h1.8M106.6 362.3h1.8M108 362.4h1.8M105.9 337.7h1.8M112.3 319.7h1.8M105.4 329h1.8M114.4 357.5h1.8M104.9 339.1h1.8M109.3 393.5h1.8M113.5 388.5h1.8M110.9 351.5h1.8M107.5 362.2h1.8M114 324.8h1.8M107.1 373.5h1.8M111 381.2h1.8M113.9 365.7h1.8M109.9 348h1.8M113.4 331h1.8M113.7 334.7h1.8M114.7 390.1h1.8M108.1 376.7h1.8M107.5 383.9h1.8M115.3 363.7h1.8M107.2 360.2h1.8M115.1 351.2h1.8M114.1 333.5h1.8M111.2 368.9h1.8M111.4 374.3h1.8M105.1 357.9h1.8M107.2 323.6h1.8M106.1 346h1.8M105.6 328.9h1.8M109.6 325.3h1.8M106.6 339h1.8M108.6 385.4h1.8M108.8 325.9h1.8M113.2 371.4h1.8M106.9 365.1h1.8M113.9 348h1.8M109.7 392h1.8M108.4 341.1h1.8M107.7 385.6h1.8M109.9 360.8h1.8M108.4 372.7h1.8M112.8 329.8h1.8M111.9 331.8h1.8M112.5 385.1h1.8M108.2 371.7h1.8M106.7 350.8h1.8M110.2 342.2h1.8M112.6 386.5h1.8M113.8 353.5h1.8M110.7 342.1h1.8M112.4 321h1.8M113.5 373.1h1.8M109.1 362.8h1.8M105.5 348h1.8M111.7 347.4h1.8M114.1 339.1h1.8M111.3 327h1.8M105.4 325.1h1.8M104.8 320.4h1.8M110.6 333.6h1.8M107.6 354.2h1.8M106.6 371.9h1.8M110.4 368.6h1.8M108.1 375.8h1.8M112.8 346.7h1.8M114.5 383.8h1.8M111.2 329.7h1.8M110.5 337.9h1.8M115.4 348.3h1.8M105.2 354.7h1.8M109.3 349h1.8M112.9 391.5h1.8M105.9 350.1h1.8M106.2 383.2h1.8M106.7 368.6h1.8M113.5 336.2h1.8M115.8 324.4h1.8M111.9 335.3h1.8M106.5 377.4h1.8M105.6 331.6h1.8M108 381.5h1.8M105.3 321.4h1.8M110.7 382h1.8M111.6 393.1h1.8M110.3 336.2h1.8M111.8 322.1h1.8M110.4 349.2h1.8M115 361.9h1.8M111.7 383.8h1.8M107.6 350.7h1.8M108.6 369.4h1.8M109.8 375.7h1.8M110.3 338.7h1.8M109.6 392.4h1.8M114.4 368.8h1.8M115.1 365.9h1.8M107 350.8h1.8M114.2 326h1.8M114.3 355.5h1.8M111.6 337.9h1.8M114.8 339.4h1.8M113.7 331.2h1.8M107.8 345.5h1.8M111.3 338.1h1.8M106.5 389.6h1.8M104.7 351.5h1.8M114.6 326.4h1.8M110.3 351.5h1.8M113.7 375h1.8M113.3 327.9h1.8M113.8 320.6h1.8M107.3 376.3h1.8M117.3 360.2h1.8M116.8 340.1h1.8M116.5 364.6h1.8M116.8 352.4h1.8M117.1 373.2h1.8M116.4 377.9h1.8M115.1 362.6h1.8M115.4 376.5h1.8M115.5 327.9h1.8M116.2 361h1.8M117.4 336.4h1.8M115.6 366.9h1.8M115.2 346.1h1.8M115.3 355.1h1.8M115.7 335.8h1.8M117 349.6h1.8M116.6 374.2h1.8M117 354.2h1.8M116.9 347.4h1.8M115.1 365h1.8M115 337.8h1.8M116.5 345.9h1.8M115.8 330.1h1.8M115.3 363.6h1.8M115.4 383.2h1.8M116.7 344h1.8M117.1 333.7h1.8M116 373.1h1.8M117.3 351.7h1.8M115.5 371.3h1.8M115.5 337.3h1.8M117.4 359.1h1.8M117.1 343.2h1.8M115.5 337.9h1.8M116.3 373.9h1.8M116 371.8h1.8M117.2 352.6h1.8M116.3 374.2h1.8M115.7 355.5h1.8M115.8 364.6h1.8M115.1 384.7h1.8M115.1 372.8h1.8M115.9 338.4h1.8M115.7 355h1.8M116 353.4h1.8M106.4 304.2h1.8M109.8 311h1.8M109.6 307.6h1.8M108.1 298.5h1.8M111.2 296.2h1.8M110.1 301.4h1.8M111.8 314.5h1.8M108.7 304.2h1.8M106.7 304.7h1.8M110.8 315.2h1.8M110.1 314.2h1.8M110 295.2h1.8M110.4 308.8h1.8M106.9 305.6h1.8M109.8 296.2h1.8M110.3 307.3h1.8M107.2 317.9h1.8M109.7 307.6h1.8M108.5 301.8h1.8M107.1 304.9h1.8M110.6 298.2h1.8M112 302.4h1.8M112.3 313.8h1.8M109.8 318.2h1.8M110.9 296.8h1.8M106.9 318.2h1.8M109 308.5h1.8M110.9 316.3h1.8M111.2 296h1.8M110.8 301.6h1.8M108.6 311h1.8M107.3 307.6h1.8M108.5 306.8h1.8M107.8 315.1h1.8M107.8 298.1h1.8M108.9 308.7h1.8M107.2 311.6h1.8M111.9 303h1.8M108.6 300.9h1.8M107 314.5h1.8M107.4 316.8h1.8M111.4 296.2h1.8M110.5 297.1h1.8M109.6 313h1.8M109.5 297.5h1.8M110.3 311.5h1.8M107.1 318.8h1.8M108 299h1.8M106.8 297.8h1.8M109.7 295.9h1.8M106.5 313.8h1.8M108.3 316.2h1.8M112 308.4h1.8M109.2 300.4h1.8M112.3 265.2h1.8M109.8 262.6h1.8M108.8 261.9h1.8M111.8 263.4h1.8M112.3 261.7h1.8M113.6 397.1h1.8M109.5 396.7h1.8M113.1 400.3h1.8M109.2 401h1.8M109.6 402.4h1.8M110.1 400.2h1.8M111.4 400.1h1.8M112.3 402.6h1.8M109.4 399.3h1.8M106.8 400h1.8M112.1 398h1.8M106 402.2h1.8M114.6 396.2h1.8M108 402.4h1.8M113.7 401.5h1.8M114.2 402.5h1.8M112.7 405.5h1.8M116.5 403.7h1.8M114.4 404.9h1.8M108.9 402.8h1.8M113.2 409.6h1.8M114.7 409.1h1.8M113.4 407.1h1.8M116.6 345.6h1.8M117.7 333.5h1.8M117.9 280.1h1.8M118.9 372.4h1.8M118 330.4h1.8M119.7 331.3h1.8M116.8 374.9h1.8M117.1 361.6h1.8M117 370.3h1.8M120.3 334.5h1.8M118.6 333.2h1.8M120.3 332.5h1.8M116.8 392.4h1.8M117.6 383.6h1.8M119.1 280.5h1.8M116.6 343.2h1.8M118.8 341.9h1.8M120.3 279.8h1.8M117.5 356.7h1.8M68 406.1h1.8M63.6 413.6h1.8M67.1 411.9h1.8M61.6 395.4h1.8M65.3 400.8h1.8M61.8 400h1.8M60.8 404.3h1.8M63.7 411.5h1.8M65.5 411.3h1.8M59.8 399.7h1.8M69.4 399.6h1.8M70.5 396.9h1.8M60.4 419.9h1.8M69.2 399.8h1.8M71 404h1.8M60.2 414.9h1.8M60.7 417.6h1.8M64.9 414.7h1.8M68.6 405.7h1.8M61.3 404.9h1.8M62 415.5h1.8M67.7 405.1h1.8M71.4 397.2h1.8M69.2 404.3h1.8M62.8 401.1h1.8M69.3 411.5h1.8M66.6 409.7h1.8M62.2 404.4h1.8M61 413.3h1.8M60.8 411.4h1.8M64.7 405h1.8M69.3 418.3h1.8M65.7 404.8h1.8M62.6 404.2h1.8M62.7 410.7h1.8M68.6 419h1.8M69.2 410.8h1.8M61.2 417.1h1.8M68.1 396.9h1.8M67 418.4h1.8M60.4 407.5h1.8M65.4 396.8h1.8M63.9 405.9h1.8M64.2 397.8h1.8M65.2 416.6h1.8M70 417.6h1.8M61.5 395.8h1.8M68.7 410.7h1.8M64.2 412.4h1.8M61.9 411.5h1.8M70.8 402.2h1.8M66.2 395.8h1.8M65.1 398.4h1.8M60.3 413.3h1.8M65.2 408.2h1.8M68.9 412.5h1.8M61.5 421.6h1.8M67.8 411.6h1.8M67.1 405.9h1.8M68.4 418.7h1.8M66.2 414.5h1.8M61.2 414.8h1.8M67.3 400.4h1.8M66.5 419.1h1.8M65.6 419.6h1.8M63.3 417.9h1.8M69.7 401.8h1.8M70.6 406.2h1.8M68.1 410h1.8M68 401.8h1.8M70.1 412.2h1.8M65.5 418.7h1.8M59.6 416.2h1.8M60.2 402.2h1.8M70.2 420h1.8M63.4 411.3h1.8M62.5 417.5h1.8M68.5 397.2h1.8M70.7 402.4h1.8M67.5 396.9h1.8M69.1 420.1h1.8M60.5 414h1.8M65.3 410.3h1.8M60.7 418.9h1.8M60.8 405h1.8M64.1 405.9h1.8M69.6 399.8h1.8M69.6 413h1.8M70 408.2h1.8M65.9 400.4h1.8M64.8 401.5h1.8M65.8 418.3h1.8M60.7 402.2h1.8M69.6 400.8h1.8M62.5 398h1.8M61.3 404.8h1.8M62.9 417.4h1.8M64.9 406.8h1.8M64 403.3h1.8M63.4 414.2h1.8M64.8 416.1h1.8M64.4 406.6h1.8M64.4 412h1.8M60.5 404h1.8M60.4 413.5h1.8M65.5 416.6h1.8M60.9 412.2h1.8M61.6 413.2h1.8M65.8 413.1h1.8M61.6 417.1h1.8M64.6 406.1h1.8M66.9 405.4h1.8M65.4 412.8h1.8M61.3 416.8h1.8M61.9 406.9h1.8M60.3 407.1h1.8M66.2 406.8h1.8M66.3 400.1h1.8M61.8 410.7h1.8M66.8 412h1.8M63 400.5h1.8M60.1 403.8h1.8M63 407.4h1.8M65.8 408.4h1.8M66.2 412.6h1.8M60.1 406.4h1.8M63.5 417.7h1.8M61.3 410.5h1.8M61.6 417.1h1.8M63.4 404.2h1.8M64.1 414.7h1.8M62.2 414.5h1.8M64.9 394.3h1.8M64.7 388.1h1.8M64.6 394.5h1.8M59 394.1h1.8M62.3 387.4h1.8M71 390.2h1.8M61.1 393.4h1.8M70.4 387.5h1.8M59.5 391.6h1.8M62.8 385.1h1.8M66 390.7h1.8M67.9 394.6h1.8M64.4 390h1.8M70.9 388.9h1.8M59.8 394.3h1.8M67.4 393.3h1.8M63.3 393.5h1.8M68.7 423.8h1.8M64.6 424.5h1.8M69.4 423.6h1.8M68.3 425.8h1.8M67.1 424.8h1.8M66.5 423.9h1.8M82.6 395.5h1.8M81.1 392.3h1.8M83.8 414.6h1.8M81.5 389.8h1.8M81.1 415.1h1.8M82.8 395.1h1.8M83.5 401.4h1.8M85.1 411.9h1.8M82.7 399.4h1.8M81.1 409.4h1.8M82.2 417.8h1.8M85 412.2h1.8M81.1 391.9h1.8M82.9 408h1.8M79.9 410.9h1.8M82.4 414h1.8M85.5 408.7h1.8M82.7 392.1h1.8M85 416.7h1.8M85.8 389.5h1.8M85.4 404.9h1.8M84.3 393h1.8M81.9 394.9h1.8M83 412.6h1.8M80.8 404h1.8M80.9 398.5h1.8M83.2 394h1.8M81 416.2h1.8M85.1 391.3h1.8M83.8 416.2h1.8M81.7 390.3h1.8M87.1 393.6h1.8M80.5 403.3h1.8M82.2 415.2h1.8M81 411.1h1.8M84.9 393h1.8M81.9 401.4h1.8M80 394.1h1.8M83 413.3h1.8M80.1 390.8h1.8M83.7 393.1h1.8M82.2 401.5h1.8M84.9 415h1.8M80.6 397.9h1.8M81.1 394.9h1.8M81.2 406.9h1.8M85.5 413h1.8M80.9 413.7h1.8M82.6 401.7h1.8M81.4 412h1.8M81.3 399.2h1.8M85.2 399.1h1.8M81.7 390.7h1.8M84.4 410.2h1.8M82.6 396.3h1.8M82 402.3h1.8M85.8 392.9h1.8M83.1 391h1.8M85.3 396.8h1.8M83.8 416.7h1.8M82.5 395.9h1.8M83.2 405.4h1.8M81.6 415.8h1.8M83.4 390.2h1.8M84.7 397.2h1.8M84.4 397.7h1.8M82.4 386.5h1.8M81.2 384.1h1.8M86.1 384.2h1.8M86.6 397.7h1.8M83 395.6h1.8M82.1 413.2h1.8M88.9 386.9h1.8M83.1 418.4h1.8M87.4 397h1.8M82.9 414.1h1.8M86.1 401.2h1.8M79.4 403.8h1.8M82.3 411.4h1.8M88.5 385.7h1.8M79.3 399.4h1.8M82.8 416.1h1.8M79.2 400h1.8M86.3 416.9h1.8M88.6 403.7h1.8M82.2 410.1h1.8M81.2 398.1h1.8M85.3 414.6h1.8M85.7 411.1h1.8M81.9 418.1h1.8M83.4 420.7h1.8M86.8 413.7h1.8M87.1 399.1h1.8M84.5 390h1.8M86.5 410.1h1.8M86 414.7h1.8M83.9 411.2h1.8M88.1 392h1.8M88.6 393.3h1.8M85.2 415h1.8M81.1 420.1h1.8M82.6 422.9h1.8M82.4 418.6h1.8M81.9 422.9h1.8M72.5 413.9h1.8M73.5 402.1h1.8M73.7 394.9h1.8M72.5 407h1.8M86.7 384.2h1.8M94.2 398.8h1.8M99.3 388.3h1.8M97.1 397.7h1.8M88.4 385.7h1.8M86.2 393.1h1.8M97.8 397.4h1.8M88.4 385.8h1.8M100.5 387.8h1.8M93.6 379.7h1.8M101 388.2h1.8M95.5 398.7h1.8M87.4 393.2h1.8M100 398.8h1.8M95.8 371.3h1.8M97.7 387h1.8M91.3 370.8h1.8M92.7 397.2h1.8M86.9 385.5h1.8M91.3 395.4h1.8M93.1 398.5h1.8M89.1 388.9h1.8M89 381.4h1.8M97.7 373.9h1.8M88.6 375.6h1.8M91 383.9h1.8M89.1 384.7h1.8M89.9 379.6h1.8M86.8 378.6h1.8M98.6 370.9h1.8M95.8 368h1.8M89.5 373.4h1.8M96.2 369.6h1.8M92.8 400.8h1.8M89.3 397.7h1.8M93 403.5h1.8M98.4 396.9h1.8M100.9 401.2h1.8M61.9 347.8h1.8M83.2 377.2h1.8M62 349.3h1.8M60.8 347.6h1.8M66.7 354.3h1.8M63.8 346h1.8M83.6 383.4h1.8M60.3 366.6h1.8M86 375.7h1.8" stroke="#000" stroke-width="1.8" fill="none"/>
<path d="M104.1 403.3h1.4M104.2 410.4h1.4M108.9 408.9h1.4M120.3 380.8h1.4M120.3 363.5h1.4M118.8 305.7h1.4M119.7 323.3h1.4M118.2 276h1.4M120.4 297.1h1.4M119.9 302.6h1.4M119.5 276h1.4M59.1 385.6h1.4M86.9 420.8h1.4M77.1 385.6h1.4M75.6 396.7h1.4M75 414.7h1.4M76.4 408.5h1.4M75.2 393h1.4M76.3 404.6h1.4M99.7 374.3h1.4M96.2 377.4h1.4M92.4 369.6h1.4M93.7 379.8h1.4M86 368h1.4M91.2 389.7h1.4M92.2 393.1h1.4M100.5 378.1h1.4M89.9 411h1.4M95.4 404.8h1.4M100.4 403.3h1.4M97 408.3h1.4M90.9 415h1.4M81.1 378.8h1.4M64.8 352.1h1.4M60.8 357.6h1.4M75.7 361.1h1.4M72.9 345.4h1.4M83.9 342.6h1.4M78.2 352.9h1.4M86.3 353.9h1.4M75.3 372.8h1.4M67.8 345h1.4M65.7 355.5h1.4M80.8 362.3h1.4M84.6 357.7h1.4M67.3 364.2h1.4M86.2 351.2h1.4M86.9 359.5h1.4M63.5 365.4h1.4M61.8 368.8h1.4M72.4 357.5h1.4M78.3 365.7h1.4M63.6 371.8h1.4M61.2 341.1h1.4M135.3 286h1.4M161.2 291.8h1.4M135.3 300.6h1.4M151.5 302h1.4M161.2 303.6h1.4M164.7 307.4h1.4M69 310.4h1.4M135.3 317.4h1.4M154.4 316.2h1.4M158.8 336.8h1.4M161.2 271h1.4M70.6 260.4h1.4M158.3 337.2h1.4M171.7 344.8h1.4M130 352.9h1.4M165.1 352.9h1.4M135 356.8h1.4M138.6 358h1.4M127 358.3h1.4M126 360.8h1.4M128.8 368.5h1.4M167.6 368.5h1.4" stroke="#000" stroke-width="1.4" fill="none"/>
<path d="M106.0 259.2H112.0" stroke="#000" stroke-width="1.2" stroke-dasharray="1.5 1.5" fill="none"/>
<rect x="101.6" y="259.2" width="21.9" height="153.5" fill="none" stroke="#000" stroke-width="1.6"/>
<rect x="50.5" y="258" width="152.0" height="174.0" fill="none" stroke="#000" stroke-width="1.6"/>
<path d="M51.5 432.7v5.5M49.8 431.2h-6.0M57.4 432.7v3.0M49.8 424.4h-3.0M63.3 432.7v3.0M49.8 417.6h-3.0M69.1 432.7v3.0M49.8 410.8h-3.0M75.0 432.7v3.0M49.8 404.0h-3.0M80.9 432.7v5.5M49.8 397.2h-6.0M86.8 432.7v3.0M49.8 390.4h-3.0M92.7 432.7v3.0M49.8 383.6h-3.0M98.5 432.7v3.0M49.8 376.9h-3.0M104.4 432.7v3.0M49.8 370.1h-3.0M110.3 432.7v5.5M49.8 363.3h-6.0M116.2 432.7v3.0M49.8 356.5h-3.0M122.1 432.7v3.0M49.8 349.8h-3.0M127.9 432.7v3.0M49.8 343.0h-3.0M133.8 432.7v3.0M49.8 336.3h-3.0M139.7 432.7v5.5M49.8 329.5h-6.0M145.6 432.7v3.0M49.8 322.7h-3.0M151.5 432.7v3.0M49.8 315.9h-3.0M157.3 432.7v3.0M49.8 309.2h-3.0M163.2 432.7v3.0M49.8 302.4h-3.0M169.1 432.7v5.5M49.8 295.6h-6.0M175.0 432.7v3.0M49.8 289.1h-3.0M180.9 432.7v3.0M49.8 282.6h-3.0M186.7 432.7v3.0M49.8 276.2h-3.0M192.6 432.7v3.0M49.8 269.7h-3.0M198.5 432.7v5.5M49.8 263.2h-6.0" stroke="#000" stroke-width="1.3" fill="none"/>
<text class="tx" transform="translate(52.3 448.2) scale(0.9 1)" text-anchor="middle">0</text>
<text class="tl" x="40.3" y="431.2" text-anchor="middle" transform="rotate(-90 40.3 431.2)">0</text>
<text class="tx" transform="translate(81.7 448.2) scale(0.9 1)" text-anchor="middle">50</text>
<text class="tl" x="40.3" y="397.2" text-anchor="middle" transform="rotate(-90 40.3 397.2)">50</text>
<text class="tx" transform="translate(111.1 448.2) scale(0.9 1)" text-anchor="middle">100</text>
<text class="tl" x="40.3" y="363.3" text-anchor="middle" transform="rotate(-90 40.3 363.3)">100</text>
<text class="tx" transform="translate(140.5 448.2) scale(0.9 1)" text-anchor="middle">150</text>
<text class="tl" x="40.3" y="329.5" text-anchor="middle" transform="rotate(-90 40.3 329.5)">150</text>
<text class="tx" transform="translate(169.9 448.2) scale(0.9 1)" text-anchor="middle">200</text>
<text class="tl" x="40.3" y="295.6" text-anchor="middle" transform="rotate(-90 40.3 295.6)">200</text>
<text class="tx" transform="translate(199.3 448.2) scale(0.9 1)" text-anchor="middle">250</text>
<text class="tl" x="40.3" y="263.2" text-anchor="middle" transform="rotate(-90 40.3 263.2)">250</text>
<path d="M299.1 264.3h1.8M304.8 262.2h1.8M307.7 262.2h1.8M307 274.6h1.8M305.4 261.3h1.8M299.3 262.3h1.8M300.8 264.5h1.8M304.3 274.8h1.8M301.9 264.8h1.8M303.9 271.7h1.8M303.7 260.5h1.8M307 272.2h1.8M307 286.7h1.8M299.3 277h1.8M306.8 278.6h1.8M307.3 283.7h1.8M307.1 277.4h1.8M298.1 286.1h1.8M297.7 278.9h1.8M304.6 283.4h1.8M296.6 286.7h1.8M297.1 280.8h1.8M308.3 280.4h1.8M298.4 285.6h1.8M298 278.6h1.8M302.4 286.7h1.8M301 287.9h1.8M298.6 281.2h1.8M305.3 288h1.8M304.6 276.2h1.8M305.9 281h1.8M306.7 276.2h1.8M307.9 284.8h1.8M306.4 287.6h1.8M298.7 282.8h1.8M307.1 284.5h1.8M303.9 289.2h1.8M299.9 283.9h1.8M304.8 277h1.8M307.7 281.1h1.8M299.4 282.5h1.8M304.7 286.7h1.8M300.1 279.5h1.8M298.1 278.6h1.8M307.5 281.3h1.8M303.4 275.9h1.8M302.1 287.6h1.8M305.9 300.1h1.8M306.2 302.7h1.8M305.3 302h1.8M308.2 293.1h1.8M301.2 292.2h1.8M296.9 300.3h1.8M297.3 304.3h1.8M297.3 296.9h1.8M308.6 290.3h1.8M295.7 293.1h1.8M307.6 304.1h1.8M304.6 300.2h1.8M304.6 293.4h1.8M298.3 302.7h1.8M308.4 294.1h1.8M306.6 297.6h1.8M307.7 301.6h1.8M302.4 291.5h1.8M304 296.1h1.8M295.8 297h1.8M302 301.7h1.8M299.6 296.6h1.8M303.8 290.6h1.8M303.3 297.2h1.8M308.9 291.8h1.8M303.3 297.2h1.8M296.3 302.4h1.8M295.1 301.7h1.8M295.6 292.8h1.8M300.1 292.1h1.8M304 299.1h1.8M297.7 291.2h1.8M304.9 296.6h1.8M301.2 292.5h1.8M307.3 298.4h1.8M297.7 296h1.8M306.7 297.7h1.8M305.1 298.4h1.8M296.1 294.7h1.8M297.2 294.9h1.8M305.6 297.1h1.8M306.2 292.6h1.8M300.8 291.5h1.8M304.5 297.4h1.8M299.4 297.4h1.8M301.2 304.6h1.8M301.2 290h1.8M305.5 304.3h1.8M309 301.1h1.8M305.2 301.1h1.8M296.3 296.3h1.8M301.6 297.8h1.8M302.8 294.2h1.8M294.8 291.1h1.8M297.5 292.5h1.8M305.1 296h1.8M300.1 296.3h1.8M297.6 293.4h1.8M305.7 309.9h1.8M299.4 307.5h1.8M298.4 314.9h1.8M294.6 318.4h1.8M299.7 313.1h1.8M308.8 306h1.8M303.6 318.6h1.8M299.6 313h1.8M303.7 306.6h1.8M301 309h1.8M304.4 314.5h1.8M307.2 318h1.8M297.1 319h1.8M305.8 315.6h1.8M302.4 318.4h1.8M294.9 308.4h1.8M304.5 310.4h1.8M308.6 312.5h1.8M308.8 318.5h1.8M303.6 309.5h1.8M294.4 313.4h1.8M300 308.6h1.8M301.7 310h1.8M299.5 305.2h1.8M308 310.2h1.8M307.6 317h1.8M299 313.3h1.8M307.4 317.8h1.8M297.6 313.4h1.8M303.9 309.6h1.8M307.7 316.8h1.8M301.2 308.6h1.8M295.3 306h1.8M308.7 314h1.8M306.7 306h1.8M302.8 305.3h1.8M307.4 315.6h1.8M297.9 319.9h1.8M305.5 315.4h1.8M295.6 310.7h1.8M309 311.8h1.8M297.5 315.3h1.8M305 314.9h1.8M297.9 311.3h1.8M299.1 309h1.8M300.6 318.6h1.8M305.5 318h1.8M299.9 311.4h1.8M297.9 305.7h1.8M302.3 309.1h1.8M300.7 311.5h1.8M295 319.1h1.8M303.4 312.7h1.8M299.7 318.1h1.8M305.5 311.5h1.8M295.5 316.1h1.8M298.9 313.1h1.8M308.2 305.8h1.8M306.3 315.8h1.8M303.3 319.5h1.8M301.8 317.1h1.8M294.9 319.5h1.8M307 319.8h1.8M298.3 307.9h1.8M299.7 308.5h1.8M303.3 319h1.8M303.9 319.4h1.8M308.2 310.9h1.8M299.4 315.9h1.8M297.4 313.1h1.8M300.9 306.2h1.8M303.1 313.4h1.8M300.4 314.9h1.8M299 309.6h1.8M296.2 313.1h1.8M306.1 313.9h1.8M296.7 312.9h1.8M305.7 312.4h1.8M308.9 319.2h1.8M294.2 307.6h1.8M302.9 307.3h1.8M303.9 317.8h1.8M297.2 305.9h1.8M297.2 307.3h1.8M304 310.4h1.8M301.4 310.8h1.8M306.5 318.5h1.8M300.9 325.9h1.8M302.9 328.7h1.8M302.4 333.7h1.8M301.4 325.2h1.8M304 334.6h1.8M304.7 325.8h1.8M300 319.9h1.8M297.2 325.8h1.8M302.1 330.6h1.8M303 323.4h1.8M307.1 326h1.8M303.7 319.6h1.8M297.8 332.8h1.8M306 322.4h1.8M303.5 332h1.8M296.5 325.7h1.8M303.6 331.7h1.8M295.2 330.6h1.8M297.8 320.3h1.8M306.2 332.9h1.8M304.1 333h1.8M306 332.1h1.8M294.4 326.8h1.8M296.3 328.9h1.8M302.1 328.3h1.8M295.5 333.5h1.8M306.6 328h1.8M297.8 326.7h1.8M303.1 328.7h1.8M296.7 321.6h1.8M298.8 323.2h1.8M295.1 323.5h1.8M301.5 327.1h1.8M299 326h1.8M297.6 326.3h1.8M306.2 330h1.8M299.7 329.4h1.8M298.4 320.6h1.8M298.6 333.6h1.8M307.1 334.2h1.8M298.5 329.1h1.8M295.5 323.9h1.8M300.7 322.6h1.8M297.1 329.7h1.8M302.4 328.2h1.8M305.3 320.8h1.8M294.3 333.7h1.8M296.3 324h1.8M306.9 333.3h1.8M295.8 331.9h1.8M308 328.4h1.8M302.9 327.2h1.8M297.8 331.4h1.8M306.9 333h1.8M303.2 329h1.8M293.9 330.1h1.8M295.8 334.1h1.8M303.1 322.2h1.8M296.3 334.5h1.8M307.7 323.6h1.8M301.2 320.2h1.8M297.2 331.3h1.8M303.9 326.1h1.8M294.8 330.6h1.8M306.1 332.9h1.8M299.9 320.8h1.8M308.1 323.9h1.8M297.2 335.4h1.8M295 320.6h1.8M304 321.6h1.8M305.9 333.2h1.8M305.1 333.7h1.8M298.4 324.2h1.8M296.7 327.8h1.8M303.5 320.3h1.8M304.1 331.7h1.8M301.5 320.2h1.8M298.5 334.3h1.8M302 320.3h1.8M295.3 327.3h1.8M299.1 329.8h1.8M305.4 322.3h1.8M306.3 330.3h1.8M299.5 323.5h1.8M295.8 332.9h1.8M297.4 334.6h1.8M300.7 329.1h1.8M298.3 329.9h1.8M295.5 334.2h1.8M294.1 321h1.8M303.2 334.4h1.8M305.1 320.6h1.8M305 331.4h1.8M296.2 323.2h1.8M300.8 321.9h1.8M307.8 326.8h1.8M307.8 321.1h1.8M297.5 327.4h1.8M294 332.4h1.8M299.8 329.1h1.8M304.7 332.1h1.8M307.4 331.5h1.8M296.7 322.4h1.8M305.2 323.3h1.8M296.3 327.9h1.8M298 326.7h1.8M299.2 320.8h1.8M299.6 330.2h1.8M298.7 326.9h1.8M294 334.1h1.8M307.7 330.8h1.8M295.6 323.9h1.8M300.9 325.5h1.8M307.5 335.2h1.8M307.5 327.2h1.8M306.1 340.9h1.8M304.7 343.2h1.8M305.9 341.2h1.8M301.3 345.3h1.8M297.3 340.6h1.8M306.7 335.3h1.8M305.4 337.6h1.8M306.5 337.4h1.8M300.5 340.4h1.8M306 349.7h1.8M296.7 341.8h1.8M305.1 348.3h1.8M297.4 349.6h1.8M299.4 341h1.8M307.2 340h1.8M303.4 345.4h1.8M295.3 339.9h1.8M304.9 340.9h1.8M300.4 346h1.8M302 337.3h1.8M301.8 349.2h1.8M306.2 337.4h1.8M303.5 344.1h1.8M293.4 337.1h1.8M304.3 339.7h1.8M296.2 340.8h1.8M305.2 338.9h1.8M300.2 341h1.8M298 345.6h1.8M299.3 336.1h1.8M300 338.7h1.8M296.1 342.7h1.8M303.8 341.2h1.8M302.7 341.6h1.8M303.3 342.4h1.8M294.4 347.7h1.8M306.8 347.5h1.8M296.7 349.5h1.8M306.7 344.7h1.8M294.2 334.9h1.8M296.6 348h1.8M302.8 343.1h1.8M295.5 335.3h1.8M293.5 336.5h1.8M304.9 344.3h1.8M306 335.3h1.8M297.5 341.5h1.8M302.2 337.1h1.8M304.9 341.4h1.8M294.2 342.6h1.8M294.6 341.1h1.8M294.5 337.1h1.8M305.9 347.7h1.8M304.8 337.2h1.8M298.1 343.3h1.8M295.9 336.9h1.8M294 345.4h1.8M299.5 350.1h1.8M304.3 340.1h1.8M297.9 337.7h1.8M301.7 346.3h1.8M303.8 336.7h1.8M305.9 348.5h1.8M296.5 340.2h1.8M302.2 347h1.8M302 340h1.8M296.3 346.7h1.8M306.8 345.1h1.8M306.2 345.9h1.8M298.3 341.5h1.8M299.6 349.5h1.8M297.7 345.6h1.8M293.8 347.8h1.8M294.9 344.3h1.8M298.4 338.2h1.8M294.4 339.6h1.8M306.5 348.2h1.8M304.5 345.9h1.8M305.6 343.9h1.8M303.6 336.6h1.8M299.7 340.4h1.8M303.3 336.8h1.8M297.9 347h1.8M303.1 342.5h1.8M298.3 335.5h1.8M299.2 338.3h1.8M305 346.3h1.8M295.6 347h1.8M295.7 348.3h1.8M297.1 336.8h1.8M295.4 336.4h1.8M302.5 344.7h1.8M298 349.3h1.8M305.8 344.8h1.8M293.6 335.2h1.8M303.7 339.2h1.8M293.6 342.6h1.8M301.6 342.9h1.8M304.1 342.2h1.8M300.5 350.4h1.8M294.2 347.3h1.8M304.8 343.8h1.8M298.2 337.8h1.8M300.5 346.5h1.8M304.6 346h1.8M299.9 343.2h1.8M301.5 344.2h1.8M298.2 335.4h1.8M303.8 342.9h1.8M300.1 335.1h1.8M302.1 347.8h1.8M301.7 337.4h1.8M307 339.9h1.8M296.3 336.3h1.8M296.6 343.4h1.8M295.8 345.6h1.8M307 338.6h1.8M300.5 339.5h1.8M301.6 337.2h1.8M304 340.5h1.8M297.9 341.5h1.8M294 338.5h1.8M305.4 349.4h1.8M301.8 337h1.8M294.7 335.9h1.8M294.2 344h1.8M306.6 346.7h1.8M293.1 341h1.8M293.3 345.4h1.8M301.9 339.1h1.8M297.7 347h1.8M304 340.8h1.8M305.7 346.3h1.8M306.6 337.6h1.8M301.8 334.3h1.8M299.8 336.5h1.8M303.4 336.3h1.8M303.2 338.8h1.8M303.4 337.8h1.8M306.3 348.2h1.8M305.9 347.7h1.8M302.3 349.8h1.8M298 348.6h1.8M297 341.6h1.8M304.7 337.2h1.8M303.1 342.6h1.8M304.1 341.6h1.8M293.7 349.9h1.8M297.5 343.8h1.8M296.1 336.3h1.8M303.6 339.7h1.8M296.2 337h1.8M305.1 345.7h1.8M295.1 335.5h1.8M304 337.6h1.8M304.6 335.9h1.8M305.8 335.6h1.8M300.4 339h1.8M298.3 341.5h1.8M299.2 348.7h1.8M304.2 349.3h1.8M293.9 338.6h1.8M297.8 355.1h1.8M301.8 353.2h1.8M304.6 353.5h1.8M302.7 368.2h1.8M297.1 368.4h1.8M295.8 350.9h1.8M304.6 361.9h1.8M302 375.7h1.8M303.8 355.9h1.8M297.1 350.2h1.8M297.8 379.2h1.8M294.5 406.4h1.8M298.6 376.6h1.8M300.6 367.1h1.8M302.7 372.5h1.8M295 349.9h1.8M304.6 366.2h1.8M304.7 362.2h1.8M295.6 394.4h1.8M303.4 385h1.8M297.7 368.6h1.8M301.6 364.2h1.8M294.3 379.4h1.8M297.4 350.2h1.8M304.9 397.5h1.8M298.2 361.7h1.8M296.1 407.2h1.8M299.9 402.1h1.8M299.9 398.3h1.8M299.2 375.4h1.8M295 384.9h1.8M297.8 379.7h1.8M299.8 353.8h1.8M297.3 367.6h1.8M300.5 407.1h1.8M301.6 362.9h1.8M302.3 372.6h1.8M300.9 402.2h1.8M303.1 372.1h1.8M296.2 353.5h1.8M297.9 402.9h1.8M301.7 407h1.8M298.9 399.4h1.8M301.9 392.4h1.8M304.1 378.2h1.8M304 355.6h1.8M297.7 358.5h1.8M302.5 353.9h1.8M295.6 378.9h1.8M302.9 404.7h1.8M303.1 358.5h1.8M301 379.8h1.8M298.4 357h1.8M304.6 365.4h1.8M303.1 385h1.8M293.6 389.8h1.8M297.9 395.7h1.8M292.9 356.4h1.8M294.4 370.7h1.8M301.3 389.8h1.8M295.2 350.5h1.8M299.3 358.1h1.8M297.1 404.4h1.8M302.7 389.7h1.8M302 369.6h1.8M295.9 369.3h1.8M301.6 351.7h1.8M294.7 397.6h1.8M297.4 393.7h1.8M302 388.5h1.8M302.2 359.6h1.8M301.5 357.8h1.8M296.4 397.1h1.8M305.1 362.2h1.8M299.8 404.4h1.8M296.1 364.8h1.8M303.8 392.4h1.8M302.3 379.3h1.8M298.3 363h1.8M302.9 363.9h1.8M296.6 391.3h1.8M300 370.5h1.8M301.9 367.4h1.8M301 369.3h1.8M305 387.7h1.8M301.3 384.2h1.8M302 405.8h1.8M301.8 378.7h1.8M295.5 351.3h1.8M297.1 405.3h1.8M295.7 384.7h1.8M296.5 359.2h1.8M297.3 357h1.8M298.1 385.3h1.8M295.7 391.2h1.8M295.6 359.6h1.8M296 366.9h1.8M303.6 375.2h1.8M293 376.9h1.8M294.7 396.1h1.8M296.5 353.2h1.8M301.1 361.7h1.8M293.8 386.2h1.8M302.5 356.9h1.8M295.8 372.9h1.8M303.8 377.6h1.8M295.9 366.6h1.8M302.6 382.5h1.8M301.8 399h1.8M296.4 370.7h1.8M293.6 386h1.8M305.1 386h1.8M296.4 391.8h1.8M297.7 372.3h1.8M296.1 394.3h1.8M304.4 395h1.8M300.6 365.5h1.8M299.7 360.5h1.8M305.6 397h1.8M302.7 394.5h1.8M297.8 357.4h1.8M296 392.7h1.8M299.6 355.2h1.8M297.9 365.3h1.8M303.8 394.3h1.8M297.1 371.8h1.8M303.6 356.3h1.8M303.5 352.7h1.8M297.4 356.2h1.8M297.7 386.5h1.8M296.9 390.2h1.8M294.7 358.3h1.8M300.4 364.9h1.8M293.8 398.6h1.8M296.9 357.2h1.8M295.3 406.4h1.8M304.1 402.5h1.8M301.1 407.2h1.8M302.6 394.8h1.8M299.2 370.6h1.8M305.5 357h1.8M299.2 400.8h1.8M296.2 375.1h1.8M300.5 361.9h1.8M295.1 376.1h1.8M299.1 407.4h1.8M296.2 367.7h1.8M296.9 386h1.8M303.4 395.5h1.8M295.3 397.2h1.8M298.1 376.5h1.8M303.2 397h1.8M301.4 354.8h1.8M303.3 357.9h1.8M292.9 368.5h1.8M305.1 399.1h1.8M298.3 367.5h1.8M300.5 397.8h1.8M296 400.2h1.8M296.3 372.9h1.8M299.5 406.6h1.8M297.4 396.7h1.8M305.1 363.3h1.8M298.9 386.2h1.8M298.4 388h1.8M302.5 395.5h1.8M305.6 366.5h1.8M298.4 372.9h1.8M301.9 378.7h1.8M303.1 397.2h1.8M302.3 397.6h1.8M300.6 356.5h1.8M302.3 385.8h1.8M294.5 399.3h1.8M304.4 403.7h1.8M294.4 386.7h1.8M300.4 370.4h1.8M297.2 374.4h1.8M304.1 374.2h1.8M299 361.5h1.8M297.8 390.9h1.8M295.5 389.9h1.8M299.5 387.2h1.8M304.4 352.1h1.8M302.3 401.8h1.8M303.2 379.7h1.8M298.5 366.2h1.8M293.1 350.6h1.8M295.8 389.4h1.8M305.5 353.4h1.8M295.4 375.8h1.8M301.6 380.1h1.8M300.2 407.5h1.8M301.8 360.2h1.8M296.2 388.2h1.8M302.1 355.3h1.8M299.8 359.6h1.8M298.6 350.6h1.8M301.5 382.4h1.8M301.5 373.3h1.8M297.1 361.9h1.8M298.7 394.4h1.8M303.6 362h1.8M294.4 384.6h1.8M296.5 363.8h1.8M297.1 400.7h1.8M296 408.1h1.8M297.3 401.4h1.8M298.4 370.8h1.8M299.3 374.7h1.8M301.1 382.7h1.8M303.5 352h1.8M294.5 374.2h1.8M301.5 365.6h1.8M295.3 351.3h1.8M298 361.2h1.8M301 391.7h1.8M294.6 373.7h1.8M297 398.5h1.8M302.8 350.7h1.8M302.2 370.5h1.8M296.9 359.4h1.8M295.4 352.7h1.8M295 374.5h1.8M300.9 359.5h1.8M294.3 363.2h1.8M296.5 393h1.8M303.7 376.5h1.8M298.2 397.5h1.8M301.6 407.4h1.8M300.2 360.9h1.8M295.1 376.5h1.8M296.9 406.9h1.8M299.5 384.2h1.8M298.8 355.8h1.8M300.3 368.1h1.8M302 375.7h1.8M298.9 371.4h1.8M299.7 362.7h1.8M301.2 376.7h1.8M300.9 358.1h1.8M296.1 383.6h1.8M295.5 357.1h1.8M303.7 399.2h1.8M294.2 404.1h1.8M300.2 405.1h1.8M296.6 363.2h1.8M305.2 380.1h1.8M301.9 353h1.8M297.5 382.8h1.8M295.9 391h1.8M296.2 395.3h1.8M303 406.4h1.8M299.1 386.2h1.8M296.2 356.7h1.8M299 384.9h1.8M300.9 388.5h1.8M299.2 400.7h1.8M298.3 403.3h1.8M299.3 355.5h1.8M298.1 393.1h1.8M304.1 378h1.8M296 388.3h1.8M294.2 402.9h1.8M296.1 352.2h1.8M304.2 399.3h1.8M293.2 366.6h1.8M304 376.1h1.8M298.6 351.9h1.8M295.6 397.6h1.8M303.3 399.5h1.8M303.8 381.1h1.8M300.8 392.7h1.8M303.3 351.1h1.8M294.7 356.2h1.8M301.8 390.1h1.8M302.1 362.9h1.8M293.9 395.4h1.8M302.5 402.6h1.8M297.6 395.6h1.8M295.1 401.2h1.8M303.2 351h1.8M296.1 387.7h1.8M305.6 371.3h1.8M296.5 376h1.8M293.8 404.7h1.8M295.4 370.2h1.8M294.3 362.7h1.8M302.5 392.2h1.8M303.6 397.3h1.8M302.1 384.8h1.8M305.1 386.7h1.8M303.9 378.7h1.8M303 365.9h1.8M304.4 368.8h1.8M303.9 372.1h1.8M297.9 403.8h1.8M303.2 403.5h1.8M294.3 393.8h1.8M293.9 397.8h1.8M302.4 403h1.8M302.1 373.7h1.8M303.8 363.6h1.8M303.9 367.8h1.8M302.2 392.1h1.8M301.3 392.2h1.8M294.8 402.3h1.8M305.4 396.7h1.8M301.7 369.1h1.8M303.6 386.9h1.8M303.9 381.7h1.8M300 380.4h1.8M293.7 365.1h1.8M294.3 386.9h1.8M300.2 350.7h1.8M301.6 385.6h1.8M299.2 360.9h1.8M302.5 373.4h1.8M300.7 383.4h1.8M299.9 359.1h1.8M294.6 385h1.8M301 363.3h1.8M294.4 403.3h1.8M298 377.2h1.8M297.4 388.6h1.8M304 407h1.8M302.3 382h1.8M294.2 367.7h1.8M304.8 405.4h1.8M295.1 354.5h1.8M296 388.6h1.8M299.6 406.9h1.8M299.3 397.2h1.8M303.3 403.6h1.8M297.1 385.2h1.8M301.9 360.7h1.8M297.6 397.2h1.8M302.8 399.5h1.8M301.8 385h1.8M302 395h1.8M294.6 393.8h1.8M299.4 392.5h1.8M304.4 406.3h1.8M298.4 377.2h1.8M298 358.1h1.8M303.6 353.2h1.8M301.5 394h1.8M299.5 351.1h1.8M303.1 358.8h1.8M301.7 404.3h1.8M303.7 378.3h1.8M295.2 395.6h1.8M305 362.7h1.8M305.6 388.6h1.8M300.5 375.6h1.8M294.2 376.8h1.8M302.9 378.3h1.8M296.5 361.3h1.8M302.7 355.3h1.8M298.7 402.8h1.8M302.7 404.1h1.8M295.6 352.2h1.8M299.3 398.4h1.8M305 351.5h1.8M300.5 354.4h1.8M293.9 382.7h1.8M301.1 364.2h1.8M300.9 406h1.8M303.8 377.1h1.8M298.1 376.1h1.8M301.6 393.5h1.8M298.9 399.6h1.8M301.6 381.5h1.8M296.5 378.8h1.8M295.8 393.5h1.8M300.6 394.9h1.8M303.2 384.6h1.8M298.9 382.5h1.8M303.8 407.1h1.8M300 366.2h1.8M296.9 390.4h1.8M296.6 400.5h1.8M302.4 351.8h1.8M305 405.9h1.8M303.4 369h1.8M304.7 398h1.8M304.1 403.5h1.8M296.4 395.3h1.8M294.6 386.4h1.8M295.1 380.4h1.8M298.9 400.9h1.8M302.5 363.1h1.8M300.3 360.7h1.8M298.1 401.2h1.8M298.3 355.9h1.8M296.1 360.2h1.8M301.4 376.7h1.8M298.6 355.7h1.8M295.7 369.1h1.8M298.6 383.1h1.8M303 367.6h1.8M301.4 389.8h1.8M303.3 376.1h1.8M303.2 404.9h1.8M302.9 371.9h1.8M296.5 403.3h1.8M298.2 364.2h1.8M298.1 355.6h1.8M300.3 362.1h1.8M299.2 352.5h1.8M299.2 403.4h1.8M298.5 382.3h1.8M296.6 371.3h1.8M297.4 353.7h1.8M304.9 374.9h1.8M298.4 396.8h1.8M300.5 405.4h1.8M294.5 358.6h1.8M295.4 383.2h1.8M305.1 369.7h1.8M301.8 361.7h1.8M301.9 394.9h1.8M296.4 377.6h1.8M298.9 355.6h1.8M305.4 358h1.8M303.2 399.7h1.8M297.8 390.2h1.8M301.4 391.6h1.8M299.4 360.7h1.8M294.8 352.5h1.8M297 371.1h1.8M300.8 362.3h1.8M304.1 376.5h1.8M305.4 391.5h1.8M297.2 393.5h1.8M296.7 353.7h1.8M303.3 392.4h1.8M296.5 353.2h1.8M302.2 363.6h1.8M301.2 371.1h1.8M303.2 357.5h1.8M301.8 367.6h1.8M302.6 390.9h1.8M302 390.7h1.8M301.8 378.7h1.8M304.3 358.7h1.8M302.2 378.2h1.8M300.6 393.4h1.8M300.3 397.3h1.8M301.6 373h1.8M300.7 357.5h1.8M296.8 387.9h1.8M302.3 373.1h1.8M296.8 382.1h1.8M299.8 370.1h1.8M297.3 406.7h1.8M304.1 380.1h1.8M305.3 359.1h1.8M302.4 353.3h1.8M303 353.4h1.8M302.7 382.4h1.8M300.7 401.1h1.8M302.7 359.5h1.8M294.5 350h1.8M305.1 386.2h1.8M295.5 390.1h1.8M295.3 365.7h1.8M295.7 395.1h1.8M300 388.1h1.8M299.3 367.2h1.8M304 360.6h1.8M294.1 351h1.8M294.7 365.2h1.8M301.2 400.4h1.8M301.4 389.1h1.8M301.6 406h1.8M297 403.8h1.8M302.4 402.1h1.8M301.2 396.4h1.8M296.3 356.2h1.8M303.7 350.5h1.8M304.1 388.4h1.8M298.9 394.1h1.8M302.5 375h1.8M295.1 359.1h1.8M301 357.1h1.8M301.4 358.5h1.8M294.1 407.8h1.8M304.2 384.5h1.8M303.9 397.4h1.8M298.9 399.4h1.8M293.4 363.5h1.8M294.7 398h1.8M294.4 390.2h1.8M301.1 401.1h1.8M298.3 384.4h1.8M301.1 384.7h1.8M301.6 397.8h1.8M301.7 384.3h1.8M295.1 407.3h1.8M302.1 392.6h1.8M300.7 380.6h1.8M299.4 359.2h1.8M300.8 376.7h1.8M294 359.2h1.8M304 383.7h1.8M300.9 389h1.8M297.7 379.9h1.8M293.6 376.6h1.8M297.9 351.3h1.8M293.7 386.7h1.8M300.2 356.4h1.8M299.4 406.2h1.8M298.5 360.7h1.8M302.1 392.7h1.8M303.9 392.3h1.8M299.7 390.9h1.8M299.8 354.3h1.8M299.7 406.6h1.8M297.7 360.1h1.8M294.8 382.2h1.8M299.4 354.9h1.8M304.1 376.5h1.8M295.4 403.9h1.8M300.7 402.9h1.8M302 374.2h1.8M305.3 351.9h1.8M296.8 388.3h1.8M302.5 391.8h1.8M298.5 380.3h1.8M300 396.5h1.8M301.6 353.1h1.8M301.1 393.1h1.8M295.2 375.3h1.8M299 407.6h1.8M297.7 377.3h1.8M293.8 399.9h1.8M299.4 360.4h1.8M295.7 368.2h1.8M296.8 376.6h1.8M299.4 374.8h1.8M298.4 404.9h1.8M298.6 364.7h1.8M295.7 382.6h1.8M301.1 376h1.8M296 377.6h1.8M303 391.3h1.8M304.9 362.9h1.8M302.6 381.1h1.8M294.6 355.3h1.8M294.1 378h1.8M302.9 395.4h1.8M296 362.1h1.8M303.8 402.4h1.8M304.3 391.8h1.8M294.3 367.1h1.8M302.8 397.5h1.8M303.1 379.6h1.8M297.4 406.7h1.8M303.5 383h1.8M293.6 355.1h1.8M299 393.8h1.8M305 362.3h1.8M298.3 388.6h1.8M299.4 375.7h1.8M299.9 371.6h1.8M302.3 397.8h1.8M299.3 383.1h1.8M297.8 407h1.8M304.7 376.2h1.8M297.3 403.1h1.8M295.6 354.4h1.8M302.7 379.9h1.8M300.7 380.2h1.8M305.3 351.2h1.8M299.7 385.1h1.8M294.9 358.4h1.8M293.9 397.3h1.8M298.4 392.8h1.8M297.1 405.9h1.8M303.5 390.1h1.8M304.7 368.9h1.8M298.8 406.9h1.8M305.2 357.3h1.8M304.4 351.6h1.8M299 366h1.8M303.2 362.5h1.8M301.4 351.3h1.8M304.3 372.4h1.8M304.6 375.9h1.8M294.6 377.9h1.8M302.5 374.2h1.8M296.4 403.9h1.8M294.3 403h1.8M301.1 374.3h1.8M305 362.8h1.8M300.3 391h1.8M303.5 373.9h1.8M298.1 371.4h1.8M304.4 403.1h1.8M301.8 377.6h1.8M297.2 391.5h1.8M295.7 352.9h1.8M302.3 352.3h1.8M297.9 396.7h1.8M298.5 407.9h1.8M304 406.2h1.8M303.1 407.1h1.8M301.4 402.4h1.8M300 381.2h1.8M303 380.4h1.8M305.1 357.7h1.8M304.4 355.6h1.8M304.5 356.4h1.8M299.1 374.7h1.8M298.3 353.4h1.8M297.5 402.8h1.8M300.5 397.6h1.8M298.5 377.5h1.8M298.2 361.2h1.8M297.2 401.1h1.8M299.7 352.9h1.8M296.2 403.7h1.8M300.6 371.6h1.8M305.3 357.8h1.8M299.3 352.2h1.8M294.2 383h1.8M304.6 403.2h1.8M299.3 395.1h1.8M297.6 383.1h1.8M298.8 380.3h1.8M302.6 390.8h1.8M299.8 390.2h1.8M297.1 353.7h1.8M303 366.1h1.8M298.1 404.3h1.8M303.2 378.2h1.8M296.4 376.6h1.8M304.2 361.8h1.8M298.6 358.1h1.8M293 357.9h1.8M299.4 356.9h1.8M305.3 382h1.8M303.7 386.8h1.8M300.8 404.2h1.8M295.3 389.7h1.8M299.3 362.5h1.8M299.4 368.2h1.8M300.1 376h1.8M304.9 364.5h1.8M302.6 371.1h1.8M301.6 393.4h1.8M294.9 382.4h1.8M304.9 356.7h1.8M294 371.7h1.8M303.2 384.9h1.8M300.5 370.4h1.8M299.9 399.4h1.8M295.9 365.1h1.8M294.5 383.4h1.8M297.5 403.9h1.8M293.6 397.1h1.8M298.3 401.9h1.8M305 379.6h1.8M302.6 406.9h1.8M303.2 387.4h1.8M295.7 393.8h1.8M302.6 373.3h1.8M301.6 406.7h1.8M297.6 360h1.8M301.4 376.8h1.8M297.1 378.4h1.8M298.8 381.1h1.8M302 364.8h1.8M294.2 365.9h1.8M301.9 370.8h1.8M299.5 399.3h1.8M298.5 369.8h1.8M301.9 352.8h1.8M296.2 357.8h1.8M295.5 354.8h1.8M297.2 364.8h1.8M297.9 359.5h1.8M295.2 368h1.8M305 395.3h1.8M296 397.2h1.8M302.3 396.1h1.8M301.8 390.6h1.8M297.9 375.5h1.8M305.6 354.8h1.8M304.2 397.2h1.8M304 358.4h1.8M296 392.5h1.8M304.1 376.9h1.8M300.4 404.3h1.8M303.8 400.9h1.8M294.9 382.8h1.8M295.3 378h1.8M300.1 407.5h1.8M296 360.2h1.8M294.6 376.2h1.8M303.7 368h1.8M302.5 378.9h1.8M294.2 367.5h1.8M300.7 394.4h1.8M304.7 395.3h1.8M294 355.6h1.8M297.2 407.8h1.8M298.7 352.7h1.8M297.8 368.4h1.8M299.8 365.4h1.8M296.3 353.1h1.8M300.1 405.2h1.8M299.5 372.3h1.8M298.1 395.1h1.8M298 392.4h1.8M293.7 357h1.8M294.5 369.8h1.8M297.4 393.7h1.8M297.8 371.3h1.8M294.5 365.5h1.8M296.6 367.7h1.8M301.1 360.2h1.8M296.3 391.2h1.8M299.3 392.9h1.8M293.7 384.9h1.8M301.3 391.8h1.8M299.2 372.1h1.8M296.8 368.4h1.8M298.6 387.2h1.8M294.5 362.1h1.8M300.2 354.4h1.8M293.7 360.7h1.8M300.2 359.4h1.8M298.9 361.5h1.8M294.5 367.1h1.8M303.1 394.9h1.8M298.5 357.3h1.8M298.1 373.2h1.8M297.3 394.9h1.8M296 384.5h1.8M301.2 377.7h1.8M297.5 357.3h1.8M297.1 368.5h1.8M294.2 383.5h1.8M301.2 356.8h1.8M294.6 399.2h1.8M304.8 379.6h1.8M299.4 374.4h1.8M294.9 385.5h1.8M294.8 379.5h1.8M295.4 387.1h1.8M303.4 396.5h1.8M303.3 356.1h1.8M297.5 362.4h1.8M298.3 393.7h1.8M301 372.5h1.8M297.9 382.8h1.8M299.8 353.3h1.8M296.9 374.4h1.8M300.6 352h1.8M295 358.6h1.8M301.1 358h1.8M305.4 394.8h1.8M295.7 379.5h1.8M293.9 364.7h1.8M299.4 357.6h1.8M303.1 360.6h1.8M297.6 384.9h1.8M298 375.6h1.8M296.2 376.4h1.8M302.4 405h1.8M299.7 392.8h1.8M302.2 396.2h1.8M305.9 405.1h1.8M300.4 381.3h1.8M303.2 387.9h1.8M304.1 382.2h1.8M301 383.4h1.8M298.9 384.6h1.8M303.6 355.3h1.8M298.8 388.8h1.8M302.6 355h1.8M304.1 388.8h1.8M300.8 361.3h1.8M302.1 390.9h1.8M295.9 358.4h1.8M295.7 363.4h1.8M305.9 384.7h1.8M302.4 364h1.8M299.6 368.3h1.8M303 382.2h1.8M295.1 376.6h1.8M294.6 400.9h1.8M305.9 367.5h1.8M294.8 389.9h1.8M305.8 354h1.8M296.1 358.2h1.8M302.5 378.3h1.8M303 356h1.8M294.2 401.2h1.8M299.9 382.5h1.8M300.7 382.6h1.8M303.9 372h1.8M301.2 402.6h1.8M304.7 362.8h1.8M296.1 375.3h1.8M301.9 377.3h1.8M295.1 359.6h1.8M297.8 378.8h1.8M303 396.9h1.8M295.6 372.5h1.8M298.7 370.6h1.8M295.3 393.3h1.8M295.2 357.3h1.8M297.6 372.5h1.8M298.1 371h1.8M304.4 376.4h1.8M296.6 390.6h1.8M301.8 370.9h1.8M303.5 377.7h1.8M303.3 353.8h1.8M297.3 397.6h1.8M295.1 383.4h1.8M295.4 380.4h1.8M294.5 391.1h1.8M304.4 369.1h1.8M296.2 371.5h1.8M297.8 368.3h1.8M298 380.8h1.8M303.2 392.1h1.8M303.7 363.5h1.8M297.3 375.4h1.8M303 377.2h1.8M297.4 351.3h1.8M309.6 392.8h1.8M308.1 371.2h1.8M307.9 324.6h1.8M307.1 356.4h1.8M310.2 363.1h1.8M306.7 346h1.8M312 344h1.8M306.3 349.6h1.8M307.7 360.7h1.8M306.9 378.1h1.8M311.5 379.1h1.8M311.2 355.2h1.8M309.4 322.4h1.8M306 348h1.8M311.1 402.4h1.8M311.4 383h1.8M307.1 402.4h1.8M306.8 337.5h1.8M311.8 332.3h1.8M307.9 388.2h1.8M311.3 380h1.8M311.5 360.3h1.8M310.2 355.2h1.8M311.5 328h1.8M309.8 324.2h1.8M308 380.7h1.8M309.7 355.7h1.8M306.8 358.2h1.8M311.4 335.4h1.8M311.4 406.4h1.8M306.1 342h1.8M311 335.8h1.8M311.5 343.1h1.8M311.7 395.7h1.8M307.3 393.8h1.8M307.4 396.8h1.8M307.5 326.8h1.8M307.2 383.8h1.8M306.9 372.3h1.8M309.8 378.8h1.8M310.1 403.2h1.8M306.8 324.1h1.8M306.5 340.2h1.8M307.7 334.9h1.8M307.6 330.9h1.8M309.7 333.8h1.8M308.9 332.1h1.8M309.6 379h1.8M309.4 342h1.8M306.6 395.6h1.8M308.6 407.8h1.8M311 405.6h1.8M311.2 403.2h1.8M309.1 406.6h1.8M311.6 385.2h1.8M309.9 386h1.8M307.5 335.7h1.8M311.8 358.2h1.8M307.9 332.2h1.8M309.8 395.6h1.8M308.3 381.7h1.8M306.6 328.4h1.8M311 332.6h1.8M306.3 346.2h1.8M306.6 384.6h1.8M308.5 400.1h1.8M306.3 367.9h1.8M307.7 335.7h1.8M307.7 376.8h1.8M306.7 403.2h1.8M308.2 395.1h1.8M308.1 333.7h1.8M311.4 373.1h1.8M307.4 338.2h1.8M309 384.1h1.8M309.1 398.5h1.8M309 368.6h1.8M306.8 390.4h1.8M307 331.2h1.8M308.1 372h1.8M306.2 322.8h1.8M310.9 375.5h1.8M307.9 386.5h1.8M311.4 320.1h1.8M309.4 365.9h1.8M311.1 329.9h1.8M309.8 329.2h1.8M306.3 395.2h1.8M309.6 330.8h1.8M309.6 370.6h1.8M308.4 371.4h1.8M307.6 378.7h1.8M311.1 362.9h1.8M309.3 336.4h1.8M311.1 383.5h1.8M310.3 359.4h1.8M309.1 342.5h1.8M309.1 360.9h1.8M311.3 338.7h1.8M306.1 384.2h1.8M309.7 358.9h1.8M307.1 336h1.8M306.4 337.7h1.8M308 353.6h1.8M252.6 418.5h1.8M257.7 420.8h1.8M256 415.2h1.8M249.5 419.7h1.8M252.9 419.7h1.8M249 423.4h1.8M249.7 413.2h1.8M249.7 424.4h1.8M250.7 422.7h1.8M256.9 418h1.8M251.1 417h1.8M256.5 416.2h1.8M259 424.9h1.8M253.5 418.6h1.8M256.5 418h1.8M250 414.6h1.8M254.1 422.2h1.8M250.9 421.3h1.8M252.6 425.9h1.8M250.3 415.9h1.8M249.7 419.7h1.8M256 421.9h1.8M252 416.2h1.8M254.6 414.5h1.8M251.1 421.1h1.8M253 416.4h1.8M254.6 413h1.8M252.2 418.9h1.8M252.2 423.6h1.8M256.7 421h1.8M253.9 422.8h1.8M257.1 415.4h1.8M250 415.7h1.8M258.1 420.8h1.8M256.5 418.9h1.8M253 413.4h1.8M253.5 423.1h1.8M249.6 417.5h1.8M257.3 417.3h1.8M250.5 426.4h1.8M255.5 414.2h1.8M251.6 420.9h1.8M256.6 424.5h1.8M251.8 414.8h1.8M253.9 424.9h1.8M248.4 425.6h1.8M253.5 418.6h1.8M249 419.8h1.8M252.9 422.9h1.8M252.2 422h1.8M254 414.4h1.8M255.2 416.6h1.8M258.9 418.8h1.8M254.7 419.8h1.8M250.6 417.9h1.8M251.8 422.9h1.8M256.6 414h1.8M252.3 422.3h1.8M249 417.1h1.8M256.3 420.9h1.8M257.6 418h1.8M253.6 419.2h1.8M258.9 424.9h1.8M255.2 420.7h1.8M249.2 413.5h1.8M249.7 413.5h1.8M256.2 420.7h1.8M254.1 423.3h1.8M256.7 424.5h1.8M258.1 424h1.8M250.6 415.2h1.8M255.8 419h1.8M256.5 415.7h1.8M261.2 420h1.8M261.9 415.6h1.8M261.4 407.6h1.8M254.8 415.9h1.8M259.6 422.6h1.8M254.4 418.6h1.8M249.4 423.8h1.8M251.5 409.3h1.8M251.1 405.4h1.8M260 408h1.8M254.2 425h1.8M254.8 424.5h1.8M249.2 408.5h1.8M249.3 410.2h1.8M252.7 422.1h1.8M253.9 406.7h1.8M252.1 423.4h1.8M258.5 419h1.8M251.2 423.1h1.8M258.2 424h1.8M254.1 406.7h1.8M250 413.3h1.8M261.2 419.8h1.8M249.8 423.5h1.8M261.6 412.6h1.8M262 422.7h1.8M259.9 420.5h1.8M253.7 398.9h1.8M257.7 414.5h1.8M249.5 423.8h1.8M258.7 414.2h1.8M253.4 425.8h1.8M251.1 411.6h1.8M259.9 416.7h1.8M251.4 420.7h1.8M259 420.9h1.8M249.8 411.1h1.8M258.3 413.6h1.8M260.7 414.2h1.8M257.1 402.7h1.8M254.6 421.1h1.8M257.4 405.7h1.8M255.8 404.3h1.8M251.7 409.9h1.8M249.8 417.6h1.8M252.4 399.8h1.8M250.3 422.1h1.8M254.9 407.1h1.8M259 420.9h1.8M253.7 420.8h1.8M256.2 416.8h1.8M259.3 422.9h1.8M261 419.4h1.8M250.4 413.4h1.8M250.9 406.6h1.8M255.3 412.3h1.8M251.2 425.6h1.8M257.1 406h1.8M261.3 404.9h1.8M252.8 421.6h1.8M255.2 421.3h1.8M250 405.5h1.8M256.6 422.2h1.8M262.4 422.5h1.8M257.7 399.4h1.8M260.6 404.5h1.8M261 425.4h1.8M251.3 415.1h1.8M275.4 399.1h1.8M275.2 390.1h1.8M270.8 390.4h1.8M269.5 407.6h1.8M273.2 403.5h1.8M272.7 416.8h1.8M271.9 416.4h1.8M271.8 390.8h1.8M271.6 394.8h1.8M271.1 386.7h1.8M274.7 404.7h1.8M278 388.2h1.8M278.8 404.4h1.8M273.6 397.9h1.8M269.6 416.7h1.8M277.7 408.7h1.8M269.7 394.8h1.8M274.1 389.5h1.8M273.1 391.9h1.8M271.6 395.2h1.8M274.4 404.9h1.8M277.2 388.9h1.8M274.6 391.5h1.8M278.1 416h1.8M278.1 390.9h1.8M271.2 389.4h1.8M277.4 410.1h1.8M278.2 417.8h1.8M270.9 397.2h1.8M275 394.8h1.8M270.9 392.8h1.8M276.8 392.7h1.8M275.7 385.3h1.8M270.4 400h1.8M275.8 418.5h1.8M270 409.8h1.8M273 397.1h1.8M274.1 408.8h1.8M277.6 405.4h1.8M270.2 398.2h1.8M278.6 398.6h1.8M275.1 389.5h1.8M275.1 400.1h1.8M276.3 389.6h1.8M271.3 415.5h1.8M269.8 416h1.8M271.2 412.3h1.8M273.4 414.7h1.8M275.9 401.1h1.8M271.8 398.4h1.8M274.4 391h1.8M278.5 408h1.8M276.9 400.8h1.8M276.4 405.7h1.8M275 414h1.8M271.3 413.9h1.8M273.2 415.7h1.8M273.5 395h1.8M269.8 385.9h1.8M275.6 407.1h1.8M275.3 407.3h1.8M275.2 384h1.8M270 417.2h1.8M277.1 387.1h1.8M273.7 393.1h1.8M270.6 399.2h1.8M269.5 390.4h1.8M273 383.2h1.8M274.7 392.3h1.8M276.5 397.2h1.8M276 398.6h1.8M274.2 406.4h1.8M274.8 402.1h1.8M272.5 393.8h1.8M269.6 415.8h1.8M273.1 411h1.8M274 396.5h1.8M269.9 386.3h1.8M275.6 419.5h1.8M278.6 404.2h1.8M277 409.4h1.8M274.5 383.5h1.8M272.2 412.5h1.8M277.4 392h1.8M270.1 415.3h1.8M270.8 392.1h1.8M275.1 393.4h1.8M272.5 404.3h1.8M268.7 396.8h1.8M269.3 391.6h1.8M271.9 418h1.8M276 391.9h1.8M278.4 405.6h1.8M275.4 412.1h1.8M274.1 393.6h1.8M272.9 395.2h1.8M277.6 383.5h1.8M270.6 399.8h1.8M274.9 391.5h1.8M276.2 389.3h1.8M277.1 400.8h1.8M272.2 407.6h1.8M270 415.4h1.8M273.3 396.8h1.8M268.9 407.9h1.8M278.3 417h1.8M270.4 394.6h1.8M269.6 387.6h1.8M271.5 387h1.8M276.6 390.7h1.8M272.1 407.7h1.8M277.1 404.2h1.8M275.8 405.7h1.8M271 405.8h1.8M277.6 411.7h1.8M271.6 402.4h1.8M271.4 385.4h1.8M274.4 387.4h1.8M274 415.3h1.8M275.8 407.4h1.8M277.3 416.6h1.8M269.7 394.8h1.8M276.8 417h1.8M270.8 401.2h1.8M269.5 384.1h1.8M272.1 418.8h1.8M272 403.1h1.8M277.5 406.5h1.8M270.9 408.2h1.8M276.6 391.5h1.8M274 414.6h1.8M277.3 383.5h1.8M274.1 402.2h1.8M271.8 397.8h1.8M274.3 399.2h1.8M276.1 386.1h1.8M268.7 412.3h1.8M276.4 393.7h1.8M274 406.2h1.8M272.4 413.1h1.8M273.4 388.5h1.8M272.2 409.4h1.8M273.4 391.8h1.8M277.5 405.6h1.8M272.8 415.2h1.8M274.7 393.8h1.8M278.7 411.1h1.8M268.9 408.4h1.8M271.4 395.8h1.8M274.3 387.6h1.8M271.5 410h1.8M273.7 404.6h1.8M269.7 400h1.8M273 385h1.8M274.4 408.2h1.8M275.7 402.1h1.8M269.2 395.4h1.8M273.3 414.1h1.8M273.1 419.1h1.8M278 388.3h1.8M270.8 417h1.8M270.9 406.1h1.8M274.5 407.3h1.8M272.7 402.6h1.8M275.9 403.1h1.8M278.3 403.8h1.8M270.9 402.8h1.8M271.9 387.3h1.8M273.6 412.3h1.8M277.8 389.8h1.8M269.7 399.4h1.8M277.1 384h1.8M271.6 396.2h1.8M278.4 411.8h1.8M268.9 390.7h1.8M275.9 414.5h1.8M275.1 408.8h1.8M272.8 397.2h1.8M269.5 394.9h1.8M274.7 390.7h1.8M269.8 384.3h1.8M277.3 385.6h1.8M271 396.4h1.8M271.6 391.3h1.8M276.3 406h1.8M274.7 414.4h1.8M273.8 392.7h1.8M278 401.8h1.8M278.1 401.1h1.8M275 384.8h1.8M271 405.1h1.8M273.9 415.3h1.8M270.2 393.4h1.8M269.7 414h1.8M276.3 417.4h1.8M273.1 382.5h1.8M273 413.3h1.8M269.8 411.2h1.8M276.9 388.2h1.8M278.8 385.5h1.8M270 392.1h1.8M279.5 388.1h1.8M276.9 393h1.8M286.9 370.5h1.8M288.1 394.7h1.8M284.4 387.9h1.8M287.7 383.3h1.8M276.1 382.2h1.8M287.3 371.1h1.8M288.6 385.6h1.8M282.9 389.3h1.8M285.6 387.2h1.8M278.9 400.6h1.8M278.7 401.5h1.8M291.2 380h1.8M278.2 382.7h1.8M277.7 390.6h1.8M284.8 401.9h1.8M280.1 398h1.8M285.4 373.2h1.8M287.9 377.1h1.8M280.5 381.7h1.8M278.2 405.6h1.8M281.8 399.7h1.8M280.4 391.5h1.8M281.8 393.1h1.8M280.4 387.3h1.8M279.6 384h1.8M279.4 407.4h1.8M282.1 381.4h1.8M289.6 378.4h1.8M287.8 397.3h1.8M284.9 387.9h1.8M283.2 384.4h1.8M282.3 390.7h1.8M279.2 397.3h1.8M290.6 368.4h1.8M273.7 386.1h1.8M289.9 376.3h1.8M287.1 398.9h1.8M284.7 386.7h1.8M281.3 385.7h1.8M286.3 379.3h1.8M281.1 388.4h1.8M279.5 381h1.8M281.9 390.1h1.8M277.8 380.5h1.8M282.5 396.5h1.8M281.5 398.6h1.8M283.7 390.1h1.8M282 391.8h1.8M289.9 391.8h1.8M280.2 393.8h1.8M289.8 392h1.8M287 394.9h1.8M284.9 401.5h1.8M289.6 377.2h1.8M284.1 378.7h1.8M288.5 377.9h1.8M284.8 400.8h1.8M290.7 395.1h1.8M277.8 393.4h1.8M287.4 380.4h1.8M277.9 390h1.8M289.2 383h1.8M275.3 395.2h1.8M273.4 386.8h1.8M278.9 383.1h1.8M278.9 385.2h1.8M283.6 394.4h1.8M285.9 375.8h1.8M287.8 399.1h1.8M277.5 394.8h1.8M285.8 401.1h1.8M280.9 383.5h1.8M279.7 402.3h1.8M275.5 385.5h1.8M284.4 386.7h1.8M280.2 385.9h1.8M282.6 396.4h1.8M277.9 394.8h1.8M290.1 393h1.8M276.3 393.6h1.8M287.5 377.5h1.8M288.4 388.9h1.8M281 390.6h1.8M285.9 399h1.8M282.4 395.3h1.8M284 393.5h1.8M276.9 397.7h1.8M288.2 394.1h1.8M278.5 395.3h1.8M290.5 369.5h1.8M273.3 387.3h1.8M288.3 380.4h1.8M281.5 387.4h1.8M280.7 384h1.8M288 375.6h1.8M277.3 386.1h1.8M285.3 395.7h1.8M285.6 395.3h1.8M286.2 371.6h1.8M285.7 387.6h1.8M288 373.1h1.8M286.4 398.5h1.8M287.3 378.1h1.8M287.8 375.7h1.8M276.6 387.7h1.8M278.1 381.8h1.8M283.9 380.3h1.8M282.8 392.2h1.8M281.8 401.1h1.8M284.6 401.8h1.8M279.8 405.6h1.8M287.7 376.8h1.8M280.3 380.9h1.8M266.9 404.2h1.8M262.4 414h1.8M267.2 416.1h1.8M262.8 408.2h1.8M263.3 400.2h1.8M267.9 412h1.8M266.2 408.4h1.8M265.3 414.8h1.8M267.9 413.8h1.8M264.6 419.5h1.8M266.7 400.5h1.8M263.8 400.7h1.8M262.8 413.6h1.8M263.7 420.7h1.8M263.1 404.2h1.8M264.4 419.7h1.8M268.8 400.8h1.8M267.8 401.9h1.8M268 415.3h1.8M268.1 402.8h1.8M266.9 412.8h1.8M267 401.9h1.8M262 399.5h1.8M266.6 402.9h1.8M267.9 397.1h1.8M262.5 395.1h1.8M267.3 417.4h1.8M268.8 398.2h1.8M265.3 396h1.8M262.4 398.2h1.8M266.8 407.6h1.8M265.8 420.7h1.8M267 413.6h1.8M266.2 401.9h1.8M263.3 417.2h1.8M262.3 416.9h1.8M266.2 416.1h1.8M289.7 401.8h1.8M288.2 414.6h1.8M279.6 408.6h1.8M278.3 416.7h1.8M284.6 408h1.8M287.9 406.8h1.8M285 410.5h1.8M283.3 403h1.8M279.6 408.1h1.8M289.5 410.1h1.8M289.8 399.8h1.8M289.8 411.8h1.8M289.7 408.3h1.8M283.3 409.1h1.8M281.6 416h1.8M286 403.2h1.8M288.8 412.2h1.8M284.7 413.7h1.8M285.4 399.9h1.8M285.6 408.9h1.8M285.1 412.8h1.8M283 404h1.8M287.6 402.5h1.8M286 399.3h1.8M285.3 411.9h1.8M282.9 410h1.8M280.6 410.7h1.8M284.4 405.8h1.8M280.1 415.9h1.8M283.4 406.3h1.8M286.4 400.3h1.8M276.1 366.8h1.8M260.9 389.7h1.8M284.6 363.8h1.8M251.8 396.9h1.8M256.2 390.2h1.8M272.9 366.1h1.8M270 375.9h1.8M280.6 368.4h1.8M266.7 375.1h1.8M266.3 372.2h1.8M270.4 382.9h1.8M267.7 371.7h1.8M277.5 368.3h1.8M259.2 387.3h1.8M279.9 374.7h1.8M271 369.4h1.8M258.1 385.5h1.8M254.8 395.4h1.8M268.6 375.4h1.8M284.3 367h1.8M255.4 392.2h1.8M252.8 398.9h1.8M277.8 361.1h1.8M279.2 372.8h1.8M283 365.7h1.8M277.3 376.6h1.8M258.7 392.3h1.8M254.4 394.8h1.8M276.4 362.4h1.8M260.2 389.6h1.8M256 395.8h1.8M279.9 372.5h1.8M274.3 379.1h1.8M272.3 367.4h1.8M253.8 398.1h1.8M271 370.8h1.8M281.2 378.7h1.8M254.9 395.7h1.8M263.9 394.1h1.8M252.8 401.5h1.8M285 362.2h1.8M254.1 391.6h1.8M261.3 395.6h1.8M283.1 375h1.8M253.2 394.2h1.8M286.3 361.3h1.8M270.7 375.2h1.8M251 391.6h1.8M261.9 390.1h1.8M269.6 375.8h1.8M255.8 400.7h1.8M258.4 394h1.8M283 363.9h1.8M280.3 378.3h1.8M277.3 378.4h1.8M279.6 361.8h1.8M276.6 375.3h1.8M267.2 370.6h1.8M268.9 373.1h1.8M274.8 382.2h1.8M284.1 367.9h1.8M279.8 370.6h1.8" stroke="#000" stroke-width="1.8" fill="none"/>
<path d="M308.3 264h1.4M304.8 268.4h1.4M297.3 260.1h1.4M310.9 390.8h1.4M281.1 358.7h1.4M261.8 385.7h1.4M264.1 378.3h1.4M263 376.6h1.4M266.2 385.4h1.4M265.5 389.4h1.4M268.8 380h1.4M259.4 382.9h1.4M274.1 373.7h1.4M249.1 394.7h1.4M289.5 360.6h1.4M331 269.2h1.4M318.4 275.8h1.4M337 285.2h1.4M354.8 291h1.4M320 301h1.4M338.2 306.8h1.4M320 317.2h1.4M327.9 318.7h1.4M356 318.7h1.4M284.4 306.8h1.4M285.9 314.2h1.4M352.8 323.6h1.4M330.4 327.8h1.4M342 329h1.4M353.9 338h1.4M349.7 342.2h1.4M352.4 342.2h1.4M360.6 340.8h1.4M324.4 347.5h1.4M331.6 347.5h1.4M338 346.2h1.4M338 351.3h1.4M344.8 351.3h1.4M324 355h1.4M335.8 355h1.4M327.7 358h1.4M331.6 363h1.4M320 364.3h1.4M324 364h1.4M325.3 366.7h1.4M317.2 367.4h1.4M339.4 369.2h1.4M351.5 369.4h1.4M324 374.6h1.4M329 376h1.4M316.3 382.4h1.4M320 389h1.4M330.4 386.5h1.4M349.7 386.5h1.4M349.7 390h1.4M329 392h1.4M348.5 413h1.4M301.8 415h1.4" stroke="#000" stroke-width="1.4" fill="none"/>
<path d="M321.0 259.0H335.0M350.0 259.0H364.0" stroke="#000" stroke-width="1.2" stroke-dasharray="1.5 1.5" fill="none"/>
<rect x="291.5" y="259" width="22" height="152.7" fill="none" stroke="#000" stroke-width="1.6"/>
<rect x="240.5" y="257.8" width="152.7" height="174.2" fill="none" stroke="#000" stroke-width="1.6"/>
<path d="M241.5 432.7v5.5M239.8 431.2h-6.0M247.4 432.7v3.0M239.8 424.4h-3.0M253.3 432.7v3.0M239.8 417.6h-3.0M259.2 432.7v3.0M239.8 410.8h-3.0M265.1 432.7v3.0M239.8 404.0h-3.0M270.9 432.7v5.5M239.8 397.2h-6.0M276.8 432.7v3.0M239.8 390.4h-3.0M282.7 432.7v3.0M239.8 383.6h-3.0M288.6 432.7v3.0M239.8 376.9h-3.0M294.5 432.7v3.0M239.8 370.1h-3.0M300.4 432.7v5.5M239.8 363.3h-6.0M306.3 432.7v3.0M239.8 356.5h-3.0M312.2 432.7v3.0M239.8 349.8h-3.0M318.0 432.7v3.0M239.8 343.0h-3.0M323.9 432.7v3.0M239.8 336.3h-3.0M329.8 432.7v5.5M239.8 329.5h-6.0M335.7 432.7v3.0M239.8 322.7h-3.0M341.6 432.7v3.0M239.8 315.9h-3.0M347.5 432.7v3.0M239.8 309.2h-3.0M353.4 432.7v3.0M239.8 302.4h-3.0M359.3 432.7v5.5M239.8 295.6h-6.0M365.1 432.7v3.0M239.8 289.1h-3.0M371.0 432.7v3.0M239.8 282.6h-3.0M376.9 432.7v3.0M239.8 276.2h-3.0M382.8 432.7v3.0M239.8 269.7h-3.0M388.7 432.7v5.5M239.8 263.2h-6.0" stroke="#000" stroke-width="1.3" fill="none"/>
<text class="tx" transform="translate(242.3 448.2) scale(0.9 1)" text-anchor="middle">0</text>
<text class="tl" x="230.3" y="431.2" text-anchor="middle" transform="rotate(-90 230.3 431.2)">0</text>
<text class="tx" transform="translate(271.7 448.2) scale(0.9 1)" text-anchor="middle">50</text>
<text class="tl" x="230.3" y="397.2" text-anchor="middle" transform="rotate(-90 230.3 397.2)">50</text>
<text class="tx" transform="translate(301.2 448.2) scale(0.9 1)" text-anchor="middle">100</text>
<text class="tl" x="230.3" y="363.3" text-anchor="middle" transform="rotate(-90 230.3 363.3)">100</text>
<text class="tx" transform="translate(330.6 448.2) scale(0.9 1)" text-anchor="middle">150</text>
<text class="tl" x="230.3" y="329.5" text-anchor="middle" transform="rotate(-90 230.3 329.5)">150</text>
<text class="tx" transform="translate(360.1 448.2) scale(0.9 1)" text-anchor="middle">200</text>
<text class="tl" x="230.3" y="295.6" text-anchor="middle" transform="rotate(-90 230.3 295.6)">200</text>
<text class="tx" transform="translate(389.5 448.2) scale(0.9 1)" text-anchor="middle">250</text>
<text class="tl" x="230.3" y="263.2" text-anchor="middle" transform="rotate(-90 230.3 263.2)">250</text>
<path d="M104.8 526.2h1.8M111.8 507.2h1.8M111.9 499.3h1.8M112.7 564.5h1.8M105.9 556.4h1.8M111.4 507.1h1.8M110.3 554.3h1.8M112 529h1.8M107.3 523.4h1.8M107.4 524.9h1.8M109.6 544.1h1.8M111 563.7h1.8M113.7 539.4h1.8M108.8 539.5h1.8M109 593.3h1.8M107.1 585h1.8M106.3 573.3h1.8M104.7 546.1h1.8M110.9 569.2h1.8M107.6 588.5h1.8M108.1 585.1h1.8M113 591.1h1.8M112.4 581.2h1.8M104.6 503.3h1.8M105 582.5h1.8M104.8 544h1.8M112.3 568h1.8M106.8 586.8h1.8M112.9 531.2h1.8M108 512.4h1.8M108.1 530h1.8M106.3 548.4h1.8M106.8 554.2h1.8M110.9 590.3h1.8M110.9 589.3h1.8M113.4 504.4h1.8M109.9 523.4h1.8M106.5 586.3h1.8M109 529.4h1.8M111.5 560h1.8M113.9 558h1.8M113.1 555h1.8M105.2 578.1h1.8M112.4 532.1h1.8M109.1 583.7h1.8M109.5 594.7h1.8M105.9 514.1h1.8M111.6 575.7h1.8M105.1 594.5h1.8M105.8 588.9h1.8M105.4 521h1.8M112.3 586.1h1.8M108.8 592.3h1.8M110.3 554.3h1.8M107.7 538.1h1.8M109.9 578.5h1.8M107.8 579.5h1.8M111.6 534.5h1.8M111.8 516.9h1.8M111.5 548.1h1.8M107.1 497.1h1.8M105.4 562h1.8M104.8 586.8h1.8M111.9 544.2h1.8M113.1 583.8h1.8M105 520.5h1.8M111.8 577.8h1.8M111.1 547.2h1.8M105.9 561h1.8M108 541.2h1.8M111.3 591.6h1.8M109.7 502.2h1.8M105 538.7h1.8M107.9 578.6h1.8M108 512h1.8M109.5 543.7h1.8M112.2 525.7h1.8M112.2 559.6h1.8M113.8 506.8h1.8M106.8 507.4h1.8M106.8 571.8h1.8M106.6 560.8h1.8M105.1 590h1.8M107.1 536.8h1.8M113.4 532.7h1.8M106.8 572.7h1.8M112.1 503.8h1.8M111 533.3h1.8M108.5 550.6h1.8M106.8 541.9h1.8M112.4 562.8h1.8M106.8 512.7h1.8M109.4 510.4h1.8M107.3 515.9h1.8M106.1 543.7h1.8M106.8 587h1.8M111.5 548.4h1.8M106.4 557h1.8M109.8 557.2h1.8M107.2 563.7h1.8M107.3 501.2h1.8M107.5 518.7h1.8M105.5 587.7h1.8M108.1 536.6h1.8M113.6 543.6h1.8M104.8 559.5h1.8M106.1 531.8h1.8M105.4 574.3h1.8M109.7 540.3h1.8M110.2 564.6h1.8M108.3 586.5h1.8M111.3 506.6h1.8M106.3 534.5h1.8M105 553.5h1.8M111.3 498.8h1.8M104.5 517.7h1.8M108.3 528.9h1.8M107.1 497.9h1.8M110.8 534.1h1.8M106.5 580.3h1.8M105.3 500.1h1.8M107.6 526.2h1.8M107 526h1.8M106.6 561.4h1.8M108.9 529.2h1.8M105.2 528.8h1.8M107.4 549.8h1.8M109.4 495.2h1.8M109.6 580.8h1.8M108.6 530.9h1.8M112.3 584.6h1.8M106.6 515.9h1.8M109.8 539.6h1.8M112.9 553.2h1.8M105.7 521.4h1.8M105.5 517.9h1.8M107.6 555.6h1.8M106.1 510.5h1.8M111.7 541.2h1.8M105.9 503.8h1.8M105.9 568.9h1.8M105.2 528.4h1.8M113 538.4h1.8M112.7 542.6h1.8M105.6 541.5h1.8M107.8 573.1h1.8M106.2 539.8h1.8M106.4 560.6h1.8M105.7 554.8h1.8M108.5 512.5h1.8M109.4 532.8h1.8M110.8 496.3h1.8M106.8 548h1.8M105.4 557.6h1.8M104.8 568.5h1.8M111.2 535.3h1.8M111.3 579.9h1.8M107.1 498.6h1.8M110.3 506.4h1.8M113 534.2h1.8M110.9 533.2h1.8M110.2 502.1h1.8M105.5 593.2h1.8M110.8 533.8h1.8M105.9 546h1.8M109.6 576.1h1.8M107.1 581.1h1.8M109.6 496.2h1.8M112.3 568.3h1.8M107.6 562.9h1.8M106.9 518.3h1.8M110 593.2h1.8M111.2 503.3h1.8M108 535.7h1.8M108.7 526.7h1.8M109.8 566.1h1.8M114 564.2h1.8M105.8 534.2h1.8M109.3 591.5h1.8M111.5 563.5h1.8M113.3 496.2h1.8M111.9 534.5h1.8M111.5 523.1h1.8M111.3 526.7h1.8M109.1 520.9h1.8M107 533.6h1.8M105.2 571.9h1.8M105.6 552.9h1.8M109.9 557h1.8M112.7 514.2h1.8M104.9 519.1h1.8M105.6 592.9h1.8M105.9 582.7h1.8M112.3 513.6h1.8M108.1 548.5h1.8M105.2 535.6h1.8M105.4 543.5h1.8M106.2 506.3h1.8M106.3 580.5h1.8M106.6 518.6h1.8M107.4 551.8h1.8M108 546.9h1.8M109.6 571.8h1.8M104.5 584.7h1.8M113.5 548.5h1.8M109.6 549.6h1.8M105.2 554.6h1.8M104.5 561.6h1.8M111.9 593.8h1.8M105.5 502.4h1.8M108.1 545.9h1.8M107 547.7h1.8M108.4 498.7h1.8M108.8 514.9h1.8M105.1 590.5h1.8M109.5 550.9h1.8M106.4 583.1h1.8M104.6 529h1.8M107.4 533.7h1.8M109.2 578.1h1.8M105.9 591.3h1.8M107.8 547.4h1.8M109.6 508.9h1.8M109.8 545.9h1.8M109.4 581.4h1.8M109.8 513.7h1.8M113.3 570.5h1.8M107 501.3h1.8M112.9 529.2h1.8M110.1 591.9h1.8M113.3 592.7h1.8M106.5 525.1h1.8M105.3 502.6h1.8M111.1 581.6h1.8M111.5 563.6h1.8M108.8 564.8h1.8M112 578.1h1.8M109.4 575.8h1.8M107.1 553.1h1.8M107.9 554.6h1.8M112.8 514.8h1.8M106.4 574.1h1.8M107.6 563.6h1.8M112 517.5h1.8M108.5 588.6h1.8M109.9 568.9h1.8M112.3 505.5h1.8M111.1 541.1h1.8M110.4 519.6h1.8M107.3 556.2h1.8M111.9 576.7h1.8M106.9 569.2h1.8M107.9 504.8h1.8M109.6 584.5h1.8M108.1 574.6h1.8M107.2 558.6h1.8M113.1 518h1.8M104.7 590.5h1.8M110.9 589.3h1.8M105.5 534.4h1.8M112.3 562.6h1.8M111.8 556.7h1.8M110.5 587.2h1.8M107.5 583.4h1.8M107.8 496.1h1.8M112 504.1h1.8M110.8 569.8h1.8M105.5 566.3h1.8M104.9 532.5h1.8M104.9 583h1.8M108.6 502.4h1.8M111.5 522h1.8M111.7 592.3h1.8M111.8 541.4h1.8M105.8 496.8h1.8M105.5 524.3h1.8M112.3 513.3h1.8M113.4 524.9h1.8M112.5 507.4h1.8M109.1 556.6h1.8M111 529.8h1.8M113.1 523.7h1.8M109.1 543.5h1.8M111 579.6h1.8M107.6 504.9h1.8M108.9 553.6h1.8M109.5 585.6h1.8M106.5 560.9h1.8M107.2 553.4h1.8M104.1 510.7h1.8M109.6 587.8h1.8M109.1 548.3h1.8M110.3 537.2h1.8M105.5 568.9h1.8M111 578.3h1.8M113.6 513.1h1.8M106.2 525.6h1.8M113 513.8h1.8M105.5 549.7h1.8M110.1 508.9h1.8M109 556.9h1.8M104.8 506.6h1.8M108.9 532h1.8M111.2 567.9h1.8M107.5 532.5h1.8M112.9 562.7h1.8M105.3 497h1.8M111.9 563.1h1.8M106.3 530.3h1.8M111.8 513.6h1.8M111.6 588.1h1.8M108 501.7h1.8M105.9 515.8h1.8M111.5 562.4h1.8M112.3 560.1h1.8M111 544h1.8M111 571.6h1.8M110.2 572.5h1.8M113.4 505.3h1.8M110 502.8h1.8M105.2 531.1h1.8M105.4 562.5h1.8M113.3 586.6h1.8M111.7 559.9h1.8M112.5 503.6h1.8M106.4 503.3h1.8M110.1 510.8h1.8M105.2 532.6h1.8M110.3 574.4h1.8M105.7 505.2h1.8M104.5 562.1h1.8M108.3 542.8h1.8M113 564.9h1.8M107.1 518.1h1.8M107.9 529.4h1.8M109.9 510.4h1.8M112.4 516.5h1.8M112 551.1h1.8M112.2 566.5h1.8M108.3 543.8h1.8M111.7 501.9h1.8M111.2 585.8h1.8M113.8 538.2h1.8M113.8 505.6h1.8M108.5 557h1.8M107.1 592.6h1.8M112.9 574.3h1.8M110.5 551.2h1.8M112.7 583.6h1.8M106.9 533.2h1.8M105.6 528.8h1.8M105.8 498.8h1.8M109.2 527h1.8M110.7 553h1.8M105.1 535.5h1.8M109.2 504.4h1.8M111.3 549.1h1.8M111.5 570.3h1.8M106 498h1.8M110.9 570.5h1.8M107.8 537.8h1.8M106.3 552.3h1.8M104.3 589.3h1.8M108.1 583.7h1.8M105.5 502.9h1.8M108.6 586.4h1.8M105.8 586.4h1.8M110.3 522.5h1.8M107.3 534.7h1.8M107.7 504.2h1.8M106.3 520.5h1.8M107.6 526.8h1.8M104.9 557.3h1.8M109 556.6h1.8M112.8 531.1h1.8M108.1 524.8h1.8M110.9 539.4h1.8M111.8 516h1.8M112.4 534.9h1.8M107 590.2h1.8M112.7 506.1h1.8M107 585.5h1.8M107.8 554.3h1.8M112.2 525.2h1.8M113.7 526.1h1.8M106 585.6h1.8M113.3 568.7h1.8M112.3 540.1h1.8M112 496.4h1.8M113.4 561.7h1.8M110.1 593.6h1.8M111.6 591.4h1.8M107 515h1.8M109.1 541h1.8M111.9 514.7h1.8M112.8 550.5h1.8M106.5 541.2h1.8M109.6 503.8h1.8M111.2 510h1.8M108.9 526.8h1.8M111.6 556.9h1.8M111.6 590.9h1.8M111.8 529.3h1.8M109.1 527.4h1.8M112.3 543.9h1.8M106.2 517.8h1.8M109.3 527.5h1.8M111.4 565.3h1.8M107.9 540.5h1.8M111.6 573.6h1.8M109.3 581.3h1.8M107.1 496.5h1.8M110.2 577.7h1.8M107.7 558.5h1.8M105.6 545h1.8M110.8 499.9h1.8M113.9 591.3h1.8M108.1 523.3h1.8M113.6 560.7h1.8M105.3 540.8h1.8M106.4 551.5h1.8M111.8 558.9h1.8M108.6 542.6h1.8M108.8 542.9h1.8M111.3 498.6h1.8M112.2 503.9h1.8M110.8 528.7h1.8M109.7 526h1.8M110.9 560.6h1.8M109.1 581.5h1.8M111.9 559.1h1.8M107.9 584.3h1.8M108.2 539.1h1.8M104.5 534.7h1.8M108.8 511.2h1.8M108.6 537.2h1.8M112.5 505.9h1.8M110.4 515.4h1.8M108.3 505.6h1.8M113.7 576.2h1.8M109 549.7h1.8M105 592.6h1.8M105.9 551h1.8M104.2 532.5h1.8M109.8 541.1h1.8M107.3 504.6h1.8M113.6 556.6h1.8M104.4 537.3h1.8M110 533.3h1.8M110.6 534.8h1.8M108.5 589.7h1.8M108.2 553h1.8M113 541.1h1.8M109.5 531.8h1.8M111.3 562.7h1.8M107.7 526h1.8M113.6 567h1.8M108.5 582.3h1.8M106.4 581.8h1.8M111.4 590.6h1.8M106.7 531.8h1.8M108.2 561.9h1.8M112.1 499.6h1.8M108 594.2h1.8M109.3 579h1.8M109.4 572h1.8M113.4 562.3h1.8M112.7 561.6h1.8M106.7 545.1h1.8M111.3 576.2h1.8M105.9 517.5h1.8M105.7 532.5h1.8M107.5 571h1.8M111.6 575.8h1.8M112.2 517.7h1.8M109.7 587.6h1.8M106.4 508.6h1.8M113.8 525.3h1.8M111.4 552.6h1.8M108.5 545.2h1.8M112.5 504.2h1.8M109.6 535.5h1.8M108.3 563.7h1.8M111.2 559.2h1.8M110.7 507h1.8M105.5 591h1.8M112.2 498.8h1.8M109.9 587h1.8M110.3 510.5h1.8M113.7 559.1h1.8M107.2 528.2h1.8M110.8 535h1.8M104.6 546.7h1.8M112.8 588.1h1.8M109.4 524.7h1.8M108.5 520.5h1.8M108.1 552.4h1.8M110.4 512.2h1.8M111.1 512.6h1.8M105.2 559.8h1.8M109 507.7h1.8M109.3 565.1h1.8M104.7 507h1.8M105.1 526.8h1.8M113.5 562.9h1.8M105.5 558.3h1.8M111.4 580.5h1.8M109.2 588.6h1.8M109.8 593.2h1.8M109.8 511.7h1.8M112.6 544.8h1.8M105.9 555.5h1.8M111.9 539.6h1.8M109.7 547.9h1.8M110.7 518.1h1.8M105.5 587.1h1.8M105.8 565h1.8M110.4 506.5h1.8M113 533.9h1.8M105.3 529.4h1.8M110.4 581.9h1.8M105.5 570.2h1.8M112.4 518.8h1.8M112 564.9h1.8M113.1 549h1.8M108.2 564.3h1.8M108.8 593.7h1.8M112.6 556.1h1.8M113 501h1.8M109.1 495.4h1.8M113.6 496h1.8M106.1 569h1.8M110.1 527.7h1.8M110.6 547h1.8M104.7 570.8h1.8M112 550.8h1.8M106 565.3h1.8M110.8 534.9h1.8M113.5 562.2h1.8M109.6 527h1.8M107.8 520h1.8M107.6 584.2h1.8M112.4 530.9h1.8M105.2 503.1h1.8M112.9 582.8h1.8M111.1 544h1.8M113.1 542.3h1.8M111.4 523.7h1.8M112.8 527.4h1.8M109.9 580.7h1.8M108.3 524.1h1.8M105.3 500.7h1.8M109.6 532.5h1.8M111.1 568.6h1.8M106.9 504.5h1.8M113.2 569.5h1.8M105.3 504.5h1.8M106.5 558.5h1.8M109 517.4h1.8M112.4 575.3h1.8M109.7 508.9h1.8M109.6 530.1h1.8M106.1 495h1.8M109.7 529.8h1.8M104.7 554.6h1.8M107.8 528.9h1.8M107.7 524.5h1.8M108.7 511.5h1.8M111.3 554.5h1.8M107.1 574.5h1.8M104.4 577.2h1.8M113.5 585.9h1.8M107.8 587.5h1.8M108.7 566h1.8M112.1 566.4h1.8M106.1 572.5h1.8M107.6 564.6h1.8M106.8 562h1.8M106 502.7h1.8M113.3 550.9h1.8M107.3 575.4h1.8M107.1 497.6h1.8M111.1 501.5h1.8M113.4 504.4h1.8M105.9 559.4h1.8M109.5 517.4h1.8M105.7 513.5h1.8M111.1 566.1h1.8M106.4 500.4h1.8M112.3 501.4h1.8M107.4 567.2h1.8M109.7 530.6h1.8M111.7 507.3h1.8M107.9 583.3h1.8M106.5 528.2h1.8M107.1 520.4h1.8M108.9 500.3h1.8M113.1 515h1.8M108 589.9h1.8M106.4 499.5h1.8M105 561.3h1.8M110.2 511.8h1.8M112.2 550.6h1.8M112.3 516.1h1.8M111.8 523.2h1.8M106.1 505.9h1.8M113.6 571.2h1.8M111.9 498.8h1.8M105.9 545.8h1.8M113.7 533.4h1.8M109.3 515.9h1.8M104.9 568h1.8M109.7 538.5h1.8M110.3 540.2h1.8M112.5 527.9h1.8M105.5 581.5h1.8M109.2 572.6h1.8M107.7 584.3h1.8M112.4 575.5h1.8M108.2 519.6h1.8M108.3 577.5h1.8M108.2 569.5h1.8M108.1 510.5h1.8M105.4 575.1h1.8M112.2 503h1.8M111 550.2h1.8M113.8 544.8h1.8M113 594.8h1.8M112.1 555.9h1.8M111.1 562h1.8M104.8 525.4h1.8M108.8 494.3h1.8M105.8 518.9h1.8M112.3 504.1h1.8M106 562.6h1.8M113.1 531.3h1.8M105.3 509.3h1.8M106.7 545.7h1.8M109.9 497.8h1.8M111.6 578.1h1.8M109.7 522.9h1.8M107.1 572h1.8M112.4 566.3h1.8M111.1 568.7h1.8M105.4 534.1h1.8M110.5 520.9h1.8M106.7 562.1h1.8M110.8 570.5h1.8M113.4 582.7h1.8M105.3 522.4h1.8M113.1 584.2h1.8M113.1 585h1.8M105.1 513.5h1.8M106.9 578.2h1.8M110 574.5h1.8M110.7 537.6h1.8M113.5 578.8h1.8M108.6 589.8h1.8M105.6 562.3h1.8M110.5 569h1.8M114 557.8h1.8M107.2 576.7h1.8M109.9 500.8h1.8M105.3 542.7h1.8M111.7 510.9h1.8M108.6 570h1.8M112.1 526.5h1.8M105.8 545.7h1.8M107.9 516h1.8M105 584.6h1.8M107.6 551.5h1.8M111.2 494.9h1.8M110.2 509.1h1.8M108.5 534.6h1.8M110.1 582.7h1.8M111.8 583.5h1.8M113.6 580.9h1.8M107.1 502.5h1.8M108.1 549.3h1.8M112.1 515.1h1.8M106.5 576.1h1.8M109.2 498.5h1.8M108.4 551.5h1.8M106.4 556.1h1.8M106.1 579.8h1.8M105.6 523.6h1.8M110.3 538h1.8M107.7 580.6h1.8M106.3 578.4h1.8M113.9 563h1.8M104.8 542.6h1.8M105.9 582.4h1.8M107.9 535.3h1.8M111.4 566.7h1.8M110.5 538h1.8M108.5 506.4h1.8M109 500.8h1.8M106.9 556.6h1.8M105.2 512h1.8M109 504.7h1.8M112.2 557.6h1.8M107.5 519.7h1.8M112 536.2h1.8M106.9 590.4h1.8M109.6 520.9h1.8M107.2 517.9h1.8M113.3 495.5h1.8M113.2 510.1h1.8M113.2 562.2h1.8M109 511.6h1.8M105.6 547.5h1.8M110 557.8h1.8M112 539.4h1.8M108.3 548.9h1.8M113.4 579.1h1.8M108.9 543.9h1.8M108.8 592h1.8M109.8 526.1h1.8M108.9 539.4h1.8M110.6 583.3h1.8M111.2 576.8h1.8M112.1 515.3h1.8M108.7 538.3h1.8M105.6 541h1.8M110.8 513.8h1.8M109 571.7h1.8M106.5 562.1h1.8M105.9 590.8h1.8M109 587.1h1.8M113.3 520.8h1.8M112.7 547.3h1.8M113.4 585.8h1.8M108.6 553.6h1.8M110.7 594.9h1.8M104.6 512.4h1.8M108.2 521.5h1.8M109.1 582h1.8M112.1 522.6h1.8M110.2 586.5h1.8M110.6 529.9h1.8M114.2 588.7h1.8M106.6 519.4h1.8M107.1 568.1h1.8M112.3 569.2h1.8M110.4 509.7h1.8M110.2 505.4h1.8M110.8 535.5h1.8M110.9 550.4h1.8M107.8 562.7h1.8M110.1 557.2h1.8M111.6 531.2h1.8M110.7 552h1.8M112 513.4h1.8M113 496.6h1.8M111.4 522.9h1.8M109.3 536.2h1.8M112.6 504.8h1.8M113.3 541.6h1.8M110.8 494.5h1.8M110.1 511.6h1.8M108.7 594.3h1.8M107.9 524.6h1.8M107.1 583.5h1.8M109.4 520.8h1.8M108.6 560.4h1.8M104.9 543.9h1.8M108.9 500.3h1.8M106 545.5h1.8M107.8 507.5h1.8M107.6 506.1h1.8M113.6 548.8h1.8M106.2 560.3h1.8M113 588.8h1.8M111.7 525.4h1.8M108.8 587.4h1.8M111 570.8h1.8M112.5 500h1.8M105.9 535h1.8M113.2 546h1.8M110.4 593.8h1.8M105.4 505h1.8M108 545.2h1.8M108.7 558.8h1.8M112.6 583.4h1.8M106.6 514.5h1.8M110.3 531.1h1.8M106.8 547.6h1.8M108.7 554.5h1.8M107.8 497.9h1.8M108.7 564.7h1.8M106.6 496.8h1.8M106 554.3h1.8M106.1 529.1h1.8M113.8 536.7h1.8M110.1 568.5h1.8M109.7 555.2h1.8M110.3 527h1.8M108 543.9h1.8M104.9 533.1h1.8M107.1 592.1h1.8M113.7 578.2h1.8M106 530.7h1.8M109.4 510.7h1.8M108.6 501.5h1.8M112.1 514.9h1.8M109.2 544.3h1.8M105.5 558.6h1.8M110 508.9h1.8M109.2 557.4h1.8M112.3 560.2h1.8M105.2 522h1.8M109.3 546.8h1.8M113.5 542.9h1.8M104.6 508.8h1.8M109.7 560.5h1.8M106.4 566.1h1.8M109.8 565.3h1.8M105.1 569.4h1.8M110 498.2h1.8M108.1 577.3h1.8M109.5 552.4h1.8M106.6 592.3h1.8M106 562.2h1.8M110.4 505.5h1.8M111.3 567h1.8M108.6 504.9h1.8M112 504.5h1.8M108.7 575.9h1.8M111.9 552.3h1.8M112.9 553.5h1.8M107.5 501.5h1.8M109.1 522.9h1.8M112.2 550.1h1.8M105.9 572.3h1.8M105.7 527.8h1.8M111.4 587.5h1.8M111.7 505.2h1.8M105.7 515.4h1.8M107.3 522.2h1.8M105.1 590.8h1.8M108.9 530.5h1.8M108.4 593.4h1.8M104.5 539.5h1.8M106.5 569.9h1.8M110.9 499.4h1.8M112.7 525.2h1.8M113.5 557.7h1.8M113.3 530.5h1.8M111.2 581.2h1.8M112.3 521.7h1.8M111.3 516.9h1.8M108 580.7h1.8M105.8 582h1.8M112.9 570.9h1.8M106.7 513.5h1.8M109.6 578.6h1.8M109.6 528.5h1.8M112.9 519.6h1.8M111.8 569.1h1.8M112.3 537.8h1.8M113 520.1h1.8M106.7 588.8h1.8M110.4 530.4h1.8M113.4 555.3h1.8M111.7 501.8h1.8M106.3 582h1.8M109 549.2h1.8M112.8 552.3h1.8M112.5 553.4h1.8M107.7 570.7h1.8M106.1 553.3h1.8M111.4 541.7h1.8M108.9 506.6h1.8M111 551.5h1.8M107.6 574.5h1.8M107.8 542.4h1.8M112.3 526.7h1.8M105.2 590.5h1.8M106.2 502.9h1.8M111.3 576h1.8M112.7 506.2h1.8M111 518.3h1.8M104.7 594.1h1.8M110.3 525.2h1.8M110 527.3h1.8M111.1 567.3h1.8M111.7 591h1.8M105.3 502.4h1.8M113.5 565.1h1.8M112 494.6h1.8M107.8 537.4h1.8M110.7 555.5h1.8M112.6 542.1h1.8M106.9 542.1h1.8M113.8 590.2h1.8M109.6 513.2h1.8M107.5 533.3h1.8M112.3 590.9h1.8M107.6 499.5h1.8M111.6 502.2h1.8M106.8 543.3h1.8M105 521.9h1.8M106.6 558.7h1.8M111.7 590.9h1.8M108.9 495.3h1.8M110.4 574.8h1.8M106 545.1h1.8M110.1 539.6h1.8M112.1 547.1h1.8M109.4 567.4h1.8M108 560.3h1.8M105.1 517.6h1.8M107.9 577.4h1.8M112.1 568.2h1.8M108.2 536.7h1.8M112 510.7h1.8M107 542.2h1.8M111.8 541.5h1.8M106.7 509.1h1.8M108.9 577.7h1.8M107.1 578.3h1.8M106.5 515.1h1.8M106.6 497.3h1.8M107.1 568.9h1.8M113 532.7h1.8M106.6 563.5h1.8M112.1 498.4h1.8M110 514.6h1.8M108.6 565.3h1.8M109.7 537.7h1.8M104.8 563.1h1.8M109.2 536.6h1.8M111.7 545.5h1.8M113 588.3h1.8M111.8 568.1h1.8M106.5 520.2h1.8M110.4 507.6h1.8M104.9 580.2h1.8M112.4 498h1.8M108.1 574.9h1.8M107.1 498.6h1.8M104.3 537.4h1.8M104.6 568.5h1.8M111.5 591.7h1.8M112 528h1.8M109.2 543.4h1.8M104.7 553.2h1.8M106.2 594h1.8M104.9 593.3h1.8M105.1 575.1h1.8M110.8 545.2h1.8M109.1 530h1.8M105.5 497h1.8M106.5 512.1h1.8M107 572.2h1.8M108.5 592.9h1.8M109.3 495h1.8M108.2 531.1h1.8M109.1 523.7h1.8M112.1 564.6h1.8M106.6 553.5h1.8M113.2 542.4h1.8M109.5 544.7h1.8M112.7 540.4h1.8M108 559h1.8M110.6 497.8h1.8M113.5 589.5h1.8M113.3 554.1h1.8M106.8 589.2h1.8M112.2 565h1.8M108.6 512.5h1.8M105.6 592.1h1.8M109.2 584.9h1.8M105.9 514.4h1.8M106.1 561.4h1.8M109.2 590.9h1.8M107.6 504.4h1.8M106.6 495.6h1.8M112 555.7h1.8M109.1 550.7h1.8M110.9 494.6h1.8M110.7 537.6h1.8M106.8 572.9h1.8M108 511h1.8M109.7 517.7h1.8M108.4 569.3h1.8M108.9 558.2h1.8M112.3 578.9h1.8M111.6 517.1h1.8M107.2 558.8h1.8M111.8 538.9h1.8M112.8 512.1h1.8M109 553.7h1.8M106 572.5h1.8M113.6 518.6h1.8M111.2 494.9h1.8M111.9 546.3h1.8M108.6 530.1h1.8M111.6 556.4h1.8M105.6 506h1.8M110.9 512.6h1.8M112 547.8h1.8M107.2 556.2h1.8M112.6 508.2h1.8M105.4 569.8h1.8M108.2 578.6h1.8M104.6 586h1.8M113.5 529.4h1.8M105.2 573.5h1.8M107 567.2h1.8M108.7 590.1h1.8M111.8 543.2h1.8M111.3 528.9h1.8M111.3 534.3h1.8M108.5 502h1.8M108.8 571.2h1.8M111.4 553.8h1.8M109.8 501.3h1.8M109.2 534.8h1.8M105.4 525.3h1.8M111.9 510.4h1.8M107 578.8h1.8M111.4 540.8h1.8M113.2 517.4h1.8M104.4 498.6h1.8M111.1 535.1h1.8M110 520.1h1.8M111.2 551.2h1.8M112.5 498.6h1.8M107.9 573.5h1.8M106.8 505.9h1.8M110.7 577.9h1.8M113.2 579.3h1.8M108 523.4h1.8M107.1 494.8h1.8M113.5 544.4h1.8M110 495.9h1.8M113.2 546h1.8M111.2 527.3h1.8M111.6 501.8h1.8M111.7 592.7h1.8M110.7 553.8h1.8M111.8 535.7h1.8M109.8 543.7h1.8M110.9 592h1.8M108.8 513.9h1.8M110.7 538.2h1.8M106.7 526.1h1.8M113.1 590.5h1.8M108.9 580.1h1.8M105.4 514h1.8M112.1 548.5h1.8M106.7 551.8h1.8M110.9 548.6h1.8M107.2 533.8h1.8M107.2 542.4h1.8M105.4 591.3h1.8M110.1 507.2h1.8M109.6 498.3h1.8M108.9 504.9h1.8M108.5 528.5h1.8M107.9 572h1.8M113.1 517.3h1.8M108.2 593.4h1.8M108.4 560.3h1.8M104.9 579.3h1.8M105.7 570.2h1.8M112.8 589.9h1.8M107.2 503.6h1.8M112.4 548h1.8M108.7 507.5h1.8M110.4 531.8h1.8M109.3 518h1.8M105.6 570.5h1.8M107.5 520.1h1.8M107.1 569.1h1.8M109.9 570h1.8M105.7 594.2h1.8M109.8 554.5h1.8M106.4 505.9h1.8M105.4 557.1h1.8M104.3 529.1h1.8M109 573.8h1.8M107.5 574.4h1.8M110.7 588.9h1.8M108.3 506.1h1.8M111.4 521.3h1.8M112.4 545.8h1.8M112.6 523.5h1.8M108.8 563.4h1.8M106.8 580.3h1.8M112.6 588.3h1.8M105.6 568.3h1.8M108.2 580h1.8M109 547.4h1.8M112 574.2h1.8M106.2 524h1.8M106 506.5h1.8M112.7 571.9h1.8M111.5 589.7h1.8M107.3 557.8h1.8M112.6 540.4h1.8M104.8 589.6h1.8M107.4 540.1h1.8M112.8 545.6h1.8M107.1 551.8h1.8M113.6 590.3h1.8M105.8 540.5h1.8M108.4 567.5h1.8M111.1 508.6h1.8M114.2 506.9h1.8M109.4 495.3h1.8M111.5 514.1h1.8M105.4 572h1.8M107.6 567.9h1.8M104.4 528.2h1.8M110.9 559.9h1.8M105.8 528.4h1.8M104.7 497.6h1.8M112.6 538.1h1.8M106.6 575.5h1.8M112.7 550.2h1.8M110 524.4h1.8M108.5 558.4h1.8M112.2 521.8h1.8M109.9 553.2h1.8M113 567.5h1.8M113.4 512.1h1.8M112.9 501.9h1.8M112.7 556.3h1.8M108 555.3h1.8M107 559.7h1.8M108.3 502.7h1.8M104.8 553.9h1.8M106.3 570.2h1.8M109 500.9h1.8M105.4 515.9h1.8M111.7 523.8h1.8M104.6 567.9h1.8M111.3 584.6h1.8M111.7 511.8h1.8M107.8 512.9h1.8M106.2 504.6h1.8M109.5 582.6h1.8M109.1 592.7h1.8M112.2 592.5h1.8M110.7 543.3h1.8M108.3 544.5h1.8M104.8 532.9h1.8M107.9 532.8h1.8M105.8 551.9h1.8M111 566.7h1.8M106 568.5h1.8M105.9 548.5h1.8M106.8 569.1h1.8M105.1 575.2h1.8M110.8 529h1.8M110.9 527.9h1.8M106.8 558.6h1.8M109.5 503.8h1.8M110.7 570.3h1.8M108 554.6h1.8M105.8 575.6h1.8M110.3 577.6h1.8M107.7 543.3h1.8M108.5 530h1.8M111.2 571.2h1.8M108.5 543.9h1.8M106.4 531.3h1.8M104.7 591.6h1.8M106.4 529.5h1.8M110.5 572.6h1.8M112.5 533.5h1.8M108.1 577.7h1.8M106.3 517.5h1.8M112.4 588.2h1.8M108.7 575.1h1.8M112.5 549.9h1.8M104.7 546.7h1.8M107.8 533.8h1.8M110.4 524.8h1.8M109.7 524h1.8M106.4 536h1.8M107 567.3h1.8M112.5 529.8h1.8M108.6 588.9h1.8M107.5 512.1h1.8M108 582.8h1.8M110.8 560.9h1.8M112.7 542.1h1.8M104.5 575.1h1.8M110.9 592.8h1.8M106.7 579.6h1.8M112.5 576.6h1.8M109.5 578.8h1.8M109.2 549.2h1.8M112.1 555.5h1.8M111.2 540.3h1.8M108.5 555.3h1.8M105.7 513h1.8M110.1 573h1.8M113.5 509.8h1.8M108.6 559h1.8M105.5 553.6h1.8M107.2 531.6h1.8M105.1 561.5h1.8M111.1 510.6h1.8M106.5 557.5h1.8M111.3 532.3h1.8M106.6 517.8h1.8M111 501.3h1.8M106.4 573.3h1.8M113 530.9h1.8M112.7 505.1h1.8M106.3 501.5h1.8M108.9 511.2h1.8M104.6 499.2h1.8M105 584.8h1.8M113.3 559.4h1.8M111.9 536h1.8M106.6 572.2h1.8M108.4 534.7h1.8M111.1 587.6h1.8M111.2 535.8h1.8M107.7 513.8h1.8M109.7 546.6h1.8M106.9 521.6h1.8M107.6 585.2h1.8M109.4 502.5h1.8M107.5 523.2h1.8M110 532.8h1.8M105.5 574.6h1.8M113.2 593.5h1.8M106.5 543.3h1.8M104.5 544.3h1.8M113.1 526.6h1.8M105.8 548h1.8M112.7 551.7h1.8M110.6 592.7h1.8M108.8 539.5h1.8M111.2 593.9h1.8M107.1 582.4h1.8M110.7 525.9h1.8M106.6 571h1.8M104.7 541.4h1.8M104.4 524.7h1.8M109.2 575.5h1.8M111.3 567.1h1.8M106.6 499h1.8M109.1 563.5h1.8M112.4 564h1.8M110.2 567.6h1.8M113 529.1h1.8M107.2 544.6h1.8M105.8 553.5h1.8M107.4 550.5h1.8M107.6 581h1.8M112.8 564.3h1.8M109.8 505.7h1.8M113.4 509h1.8M107.5 580.1h1.8M109 528.2h1.8M105.7 544.4h1.8M106.6 591.6h1.8M104.7 522.8h1.8M104.7 532.2h1.8M109.6 559.1h1.8M113.1 592.9h1.8M111.8 572h1.8M111.7 508.2h1.8M108.4 541.4h1.8M108.6 517h1.8M107.3 503h1.8M108.4 507.6h1.8M106.8 593.9h1.8M112.5 565.1h1.8M113.2 573.9h1.8M113.1 558.3h1.8M111.7 581h1.8M109.3 581.8h1.8M111.9 564.9h1.8M105.5 539.5h1.8M108.6 516.7h1.8M105.7 548.3h1.8M108.6 523.4h1.8M113.3 591.4h1.8M106.5 568.5h1.8M110.5 516.4h1.8M108.6 573h1.8M105.3 586.3h1.8M107.3 548.7h1.8M106.9 511.7h1.8M109.9 594.9h1.8M110.7 593.7h1.8M109.2 535h1.8M104.8 535.1h1.8M105 542.5h1.8M104.6 527.5h1.8M107 527.3h1.8M113.3 589.4h1.8M107.6 575.3h1.8M106.4 590.3h1.8M107.8 528.7h1.8M105.3 582.1h1.8M104.9 531.7h1.8M112.3 522.1h1.8M106.9 542.8h1.8M109.8 497.9h1.8M113.3 500.7h1.8M109.9 535.8h1.8M112.4 562.9h1.8M105 590.8h1.8M109.1 499.3h1.8M112.2 554.3h1.8M106.4 531h1.8M110 531.6h1.8M106.5 538.4h1.8M107.4 495.8h1.8M108.8 526.4h1.8M112.2 549.8h1.8M106.2 557h1.8M113.3 563.9h1.8M109.6 578h1.8M112.3 500.2h1.8M106.3 568.9h1.8M111.3 585.5h1.8M108.4 589.3h1.8M105 581.7h1.8M108.5 587.7h1.8M108.4 593h1.8M105.1 537.5h1.8M107.7 531.1h1.8M106.7 550.7h1.8M109.7 533.7h1.8M112.8 503.7h1.8M111.4 577.3h1.8M108.6 539.6h1.8M105.1 592.8h1.8M112.9 540.2h1.8M111.3 519h1.8M106.3 594h1.8M111.5 562.9h1.8M108.4 541.1h1.8M110.4 549.2h1.8M111.6 572.1h1.8M111.4 587.4h1.8M108.3 538h1.8M108.1 552.5h1.8M113 594.9h1.8M110.6 547h1.8M106.8 521.3h1.8M111.3 571.3h1.8M105.9 523.4h1.8M108 515.6h1.8M108.6 535.2h1.8M110.1 566.5h1.8M111.8 528.8h1.8M113.8 581h1.8M104.3 582.7h1.8M113.7 535.2h1.8M104.3 574h1.8M109.1 500h1.8M108.3 505.9h1.8M109.9 512h1.8M113 548.9h1.8M111.8 525.2h1.8M111.8 578.7h1.8M109.2 536.2h1.8M104.6 530.2h1.8M108.7 521.2h1.8M105.1 563.5h1.8M112 572.7h1.8M110 562.3h1.8M109 592.9h1.8M111.4 572.2h1.8M107.9 523.4h1.8M105.5 511h1.8M110.5 584.3h1.8M109.1 560.5h1.8M114.9 583.9h1.8M116.6 582.8h1.8M117.8 512.6h1.8M113.8 560.6h1.8M114.4 567.8h1.8M116.2 582.2h1.8M116.3 523h1.8M116.1 538.8h1.8M116.8 506.2h1.8M116.8 539.5h1.8M114.3 548.9h1.8M114.7 560.1h1.8M113.7 506.5h1.8M114.5 556h1.8M114.4 576.7h1.8M116.2 595.7h1.8M115.3 509.7h1.8M117.8 593.1h1.8M117.9 593.5h1.8M117 554.5h1.8M114.8 532.1h1.8M115.8 578.3h1.8M116.1 503.3h1.8M116.1 545.3h1.8M114.9 535.2h1.8M114.5 517.1h1.8M117.1 501.6h1.8M113.5 562h1.8M114.3 507.9h1.8M115.8 594.5h1.8M113.7 514.2h1.8M117.9 537.6h1.8M114.1 560.2h1.8M115.5 592.7h1.8M114.4 564.2h1.8M114.5 500.4h1.8M113.6 507h1.8M117.5 593.4h1.8M114.3 581.7h1.8M116.3 559.1h1.8M116.7 558h1.8M113.5 523h1.8M116.2 560.3h1.8M115.2 553.9h1.8M114.7 592.9h1.8M114 538h1.8M113.8 508.4h1.8M115.4 553.7h1.8M117.9 513.3h1.8M116.6 547h1.8M117.4 529.9h1.8M117.9 504h1.8M114.6 576.7h1.8M115.7 543.9h1.8M117.9 555.1h1.8M118.3 577.3h1.8M119.2 501.1h1.8M120.9 514.1h1.8M109.1 599.9h1.8M109.7 596.1h1.8M111.3 597.1h1.8M109.8 604h1.8M111.4 596.9h1.8M111.6 599.4h1.8M110.3 597.4h1.8M111.8 599.1h1.8M111.2 602.2h1.8M105.1 596.7h1.8M111.3 599.9h1.8M108 604.5h1.8M104.2 600.2h1.8M113.6 602.6h1.8M108.8 604.3h1.8M113.1 605.7h1.8M105.8 602.6h1.8M107.3 605.6h1.8M104.9 597.3h1.8M105.5 602.7h1.8M110 604.7h1.8M107.3 602.2h1.8M108.2 602.9h1.8M111.2 601.9h1.8M110.1 605h1.8M109.4 601.5h1.8M113.3 599.4h1.8M110.1 602.2h1.8M110.6 597.7h1.8M105.4 600.1h1.8M109.9 598.7h1.8M111.7 596.8h1.8M110 596.8h1.8M107.4 599.6h1.8M110 597.9h1.8M113.8 602.8h1.8M107.6 605.5h1.8M113.3 597.6h1.8M110.4 596.6h1.8M107.5 598.8h1.8M104.6 594.3h1.8M107.9 599.9h1.8M110.7 598.5h1.8M110.4 596.3h1.8M113.3 596.9h1.8M112.2 600.9h1.8M112.8 599.7h1.8M109.4 601.8h1.8M104.8 604.1h1.8M108.6 599.7h1.8M105.1 599h1.8M110.3 597.1h1.8M105.1 599.9h1.8M110 604.7h1.8M114.4 599.8h1.8M112.6 597.9h1.8M105.7 602.8h1.8M111 605.5h1.8M109.5 601.2h1.8M112.7 603.2h1.8M108.4 605.7h1.8M113.1 606.2h1.8M113.9 606.5h1.8M113 626.7h1.8M110 627.1h1.8M108.2 606.7h1.8M110.1 615.3h1.8M107.3 619.5h1.8M108.3 620.2h1.8M111.5 614.2h1.8M113.8 620.8h1.8M113.2 612h1.8M113.5 611.5h1.8M107.6 625.1h1.8M112.2 627.3h1.8M113.6 607.3h1.8M112.4 617.3h1.8M113.9 622.9h1.8M109.5 608.2h1.8M113 626.1h1.8M106.2 608.6h1.8M112 622.8h1.8M105.5 625.5h1.8M106.4 622.2h1.8M68.8 636.2h1.8M73.7 640h1.8M73.9 634.6h1.8M63.2 636.3h1.8M76.9 638.4h1.8M73.8 628h1.8M74.4 627.2h1.8M68.1 620.1h1.8M81.8 638.4h1.8M72.2 616.5h1.8M77 628.9h1.8M84.2 627.3h1.8M70.6 629.5h1.8M68.2 622.2h1.8M87.9 640.8h1.8M69.7 633.7h1.8M69.5 635h1.8M63.5 630.8h1.8M72.2 632.7h1.8M73.4 622.9h1.8M66.4 629.8h1.8M65.9 634.1h1.8M62.7 622.2h1.8M85.1 643.5h1.8M75.4 640.3h1.8M79.7 648.1h1.8M76.4 640h1.8M75.9 627.6h1.8M68 614.6h1.8M75.6 620.8h1.8M74.4 634.8h1.8M68.1 626.2h1.8M78.6 627.4h1.8M72.2 642.4h1.8M78.1 625.9h1.8M65.5 639.5h1.8M79.7 624.7h1.8M74.8 627.2h1.8M66.3 628.3h1.8M81.3 633.2h1.8M79.4 626.8h1.8M62.3 619.7h1.8M77.4 636.7h1.8M75 631h1.8M77.1 630.9h1.8M73.1 629.9h1.8M85.2 639.4h1.8M82.3 631h1.8M58.8 629.5h1.8M69.1 631.1h1.8M75.8 618.1h1.8M62.8 632.7h1.8M71.7 637.2h1.8M77.3 607.7h1.8M71.8 636.8h1.8M69.8 640.5h1.8M72.4 620.4h1.8M68.4 619.2h1.8M79.6 623.8h1.8M81.8 623.8h1.8M63.8 646.2h1.8M62.4 640.9h1.8M68.5 625.8h1.8M74.9 630.9h1.8M76.4 631h1.8M70.7 618.8h1.8M63.1 644.5h1.8M69.4 635.9h1.8M76.2 643.8h1.8M78.3 629.4h1.8M71.2 638.6h1.8M70.5 607.7h1.8M70.9 639.1h1.8M80 618.6h1.8M71.6 632.8h1.8M71.2 638.5h1.8M63.7 642.8h1.8M86.9 622.8h1.8M75.8 630.8h1.8M70.1 636.2h1.8M64.1 636.7h1.8M67.3 617.8h1.8M74.6 629.7h1.8M80.1 648.2h1.8M76.4 635.6h1.8M75.5 634.6h1.8M72.7 632.7h1.8M74.8 616.1h1.8M66 644.8h1.8M71.5 633.9h1.8M61.1 636.9h1.8M68.7 625.5h1.8M73.1 633.4h1.8M68.6 618.1h1.8M76.1 638.4h1.8M67.7 611.5h1.8M65.2 627.4h1.8M70 611.8h1.8M75.5 638.2h1.8M81.9 639.7h1.8M72.5 630.8h1.8M74.6 636.4h1.8M65.8 632.8h1.8M78 645.9h1.8M63.4 633.7h1.8M77.5 633.3h1.8M65.2 631.7h1.8M65.3 641.6h1.8M59.5 629.1h1.8M73 608.8h1.8M76.7 614.8h1.8M62.2 617.9h1.8M73.4 636.6h1.8M74.3 638.8h1.8M71 639.6h1.8M76.7 631.6h1.8M75.1 609.6h1.8M67.3 632.6h1.8M64.1 619.4h1.8M62.7 630.1h1.8M70 629h1.8M74.5 639.7h1.8M75 628.5h1.8M74.6 640.5h1.8M70.7 622.4h1.8M71.7 617.9h1.8M74.4 635.2h1.8M65.5 627.9h1.8M76.9 638.7h1.8M71.2 644h1.8M64.7 641.9h1.8M79.2 625.8h1.8M63.4 629.4h1.8M66.5 633.2h1.8M65.6 624.3h1.8M83.1 630.6h1.8M72.8 615.3h1.8M72.4 611.1h1.8M65.6 630h1.8M85.9 638.9h1.8M72.2 631.3h1.8M68.5 632.1h1.8M71.5 621h1.8M73.2 642.1h1.8M66 628.5h1.8M74.4 641h1.8M74.3 633.2h1.8M73.3 630.3h1.8M71.4 623.9h1.8M62.9 627.2h1.8M87.7 627.4h1.8M66.8 619.2h1.8M86.7 632.4h1.8M75.3 618h1.8M77 630.5h1.8M76.5 636.1h1.8M75.6 638.6h1.8M74.8 628.3h1.8M71.3 632.4h1.8M66.3 623.7h1.8M77.3 640h1.8M69 630.6h1.8M70.6 618.4h1.8M66 626.2h1.8M75.3 616.1h1.8M71.3 620.5h1.8M66.9 628h1.8M73 627.4h1.8M83.2 629.3h1.8M65.4 624.5h1.8M73.7 616.8h1.8M59.9 635.7h1.8M81.2 629.1h1.8M80.2 626.4h1.8M67.4 619.7h1.8M72.1 626.1h1.8M64.7 619.7h1.8M71.5 634.7h1.8M78.7 625.6h1.8M84.9 628.3h1.8M66.5 629.1h1.8M70 635.4h1.8M63 646.7h1.8M74.2 631.6h1.8M79.6 614.3h1.8M82.2 641.2h1.8M73.3 621h1.8M80.1 643.2h1.8M72.1 619.3h1.8M70.7 631.7h1.8M80.4 628.6h1.8M64.4 629.7h1.8M66.7 636.6h1.8M64.3 637h1.8M73.3 624.8h1.8M70.7 627.4h1.8M75.9 632.4h1.8M61.8 632h1.8M78 617.9h1.8M71.5 635.3h1.8M80 634.8h1.8M77.3 628.7h1.8M66 634.2h1.8M63.5 639.3h1.8M71.6 613.4h1.8M82.8 641.4h1.8M77.4 628.3h1.8M72.1 633.5h1.8M69.8 627.8h1.8M70.8 619.4h1.8M85.3 636.5h1.8M61.4 622.2h1.8M74.6 648.4h1.8M68.6 622h1.8M59.2 621.2h1.8M70.9 634.3h1.8M65.4 620.9h1.8M75 639.4h1.8M65 618.8h1.8M65.4 641.6h1.8M67.2 635.8h1.8M68.8 633.3h1.8M73.2 629.6h1.8M78.5 626.1h1.8M70 636.6h1.8M65 644.1h1.8M80.8 627.8h1.8M87.3 625.7h1.8M79.9 640.9h1.8M70.9 625.2h1.8M72.7 619.9h1.8M80.3 622.7h1.8M75.6 634.4h1.8M75.5 624.3h1.8M68.4 630.2h1.8M67.5 622.5h1.8M75.5 626.8h1.8M67.7 629.9h1.8M74.3 628h1.8M75.5 623.2h1.8M85.6 615.5h1.8M75.3 636.3h1.8M76.7 627.6h1.8M79.3 638.2h1.8M58.8 613.3h1.8M72.9 633.5h1.8M68.9 627.3h1.8M62.5 639.3h1.8M79.2 633.1h1.8M83.9 632.2h1.8M80.8 633.1h1.8M77.8 638h1.8M76.6 637.5h1.8M61.9 621.7h1.8M68.4 641.9h1.8M67.8 638.2h1.8M62.3 627.4h1.8M60.7 622.7h1.8M71.6 640.4h1.8M75.2 627.1h1.8M78.6 629.3h1.8M63.7 626.2h1.8M69.7 634.6h1.8M68.5 624.2h1.8M74.4 631.1h1.8M62.8 624.5h1.8M71.4 632.7h1.8M77 627.9h1.8M66.6 635h1.8M69.7 641.3h1.8M71.7 624.5h1.8M65.4 636.5h1.8M72.8 630h1.8M84.7 623.2h1.8M68.2 612.7h1.8M60.6 619.1h1.8M71.1 619.5h1.8M72.3 638.2h1.8M89.7 625.7h1.8M72.1 645.4h1.8M72.1 629.9h1.8M68.1 626.1h1.8M79.5 624.5h1.8M71.8 632.8h1.8M79 640.6h1.8M68.8 609.5h1.8M85.6 614.7h1.8M71.1 627h1.8M82.4 627h1.8M73.5 635.9h1.8M64.7 637.3h1.8M66.1 627.9h1.8M73.7 627.3h1.8M76.5 622.9h1.8M73.7 628.4h1.8M78.9 633.2h1.8M70.4 640.1h1.8M74.2 625.6h1.8M63.1 637.9h1.8M60.2 625.4h1.8M62.2 641.4h1.8M75.8 614h1.8M74.4 646.6h1.8M80 631.6h1.8M79.8 628.8h1.8M77.4 637.9h1.8M63.5 613h1.8M80.2 637.1h1.8M86.5 633.6h1.8M73.2 629.2h1.8M80 637.8h1.8M69.9 631.3h1.8M74 624.2h1.8M72.6 639.9h1.8M70.1 621.5h1.8M59.5 629.5h1.8M61.4 635h1.8M67.4 645.2h1.8M69.1 627.6h1.8M76.3 619.3h1.8M64 624.1h1.8M79 629.6h1.8M84.1 624.4h1.8M83.9 638.7h1.8M64.1 629.5h1.8M75.4 630.6h1.8M64.6 619h1.8M59 636.5h1.8M81.6 629.6h1.8M72.4 624.4h1.8M70.9 631.2h1.8M68.1 632.3h1.8M70 616.8h1.8M85.9 639.6h1.8M77.9 633.1h1.8M83.1 627.9h1.8M69.6 628h1.8M71.7 624.4h1.8M68.9 635.4h1.8M72.4 640.7h1.8M72.3 619h1.8M70.9 632.3h1.8M64.3 619.9h1.8M73.8 621.8h1.8M67.5 632.7h1.8M61.7 627.6h1.8M72.8 613.2h1.8M65 632.1h1.8M79.7 608h1.8M80.2 620.5h1.8M66.5 624.8h1.8M70.3 628.9h1.8M78.5 629.1h1.8M74 636h1.8M60.5 623.1h1.8M70.8 626.1h1.8M77.9 629.4h1.8M72.6 628.8h1.8M73.9 631.2h1.8M78.4 621.2h1.8M59.7 635.8h1.8M71 639.8h1.8M74.5 643.7h1.8M64.9 625.2h1.8M83.5 622h1.8M73.3 609.4h1.8M81.1 618.5h1.8M60.7 641.3h1.8M79.1 634.3h1.8M60.8 634.1h1.8M61.1 618.2h1.8M76.8 622.1h1.8M74.6 628.4h1.8M73.7 626.5h1.8M87.2 621.8h1.8M75.7 645.5h1.8M85.9 642.9h1.8M76.2 633.7h1.8M81.8 614.6h1.8M76.1 628h1.8M74.6 615.6h1.8M71.8 624.1h1.8M85 611.6h1.8M72 627.8h1.8M73.2 629h1.8M61.6 636.1h1.8M58.9 628.3h1.8M72.8 622.8h1.8M75.4 630.9h1.8M66.4 617.2h1.8M65.3 633.9h1.8M69.7 637.2h1.8M78.6 618.2h1.8M64.2 634.9h1.8M81.1 634.9h1.8M75.3 615.8h1.8M76.8 627.4h1.8M64.8 635.4h1.8M68.3 618.9h1.8M59.2 631.6h1.8M74.3 628.4h1.8M89.3 616.5h1.8M72.2 641h1.8M79.1 634.7h1.8M81 622.2h1.8M77.8 626.6h1.8M72.9 640.3h1.8M83.1 626h1.8M75 645.3h1.8M77.1 626.3h1.8M71.4 621.7h1.8M70.3 631.5h1.8M76.9 617.3h1.8M75.6 621h1.8M71.2 627.5h1.8M81.3 649.1h1.8M72.7 622.6h1.8M84.8 627.8h1.8M80.5 621.1h1.8M77.4 630.5h1.8M66.7 635h1.8M66.8 633.8h1.8M64.8 649.4h1.8M84.9 614.3h1.8M82.8 620.6h1.8M70.5 635.1h1.8M84.4 616.3h1.8M82.9 639.1h1.8M69.4 627.5h1.8M66.9 614.1h1.8M75.3 633h1.8M83.5 616.9h1.8M59.1 625.1h1.8M72.5 616.6h1.8M65.9 637.4h1.8M73.2 630.6h1.8M89.5 624.2h1.8M75 640.7h1.8M67.5 634.1h1.8M70.2 633.3h1.8M63.3 635h1.8M75.1 630.4h1.8M76.9 617.2h1.8M71.3 632.5h1.8M76.2 633.1h1.8M77.1 636.5h1.8M79.6 650.8h1.8M62.8 628.9h1.8M70.7 628.3h1.8M71.9 632.1h1.8M68.4 628.8h1.8M67.6 628.5h1.8M70.9 621.1h1.8M66.4 622.7h1.8M71 628h1.8M75.6 635.3h1.8M69.3 614.2h1.8M76.9 627.3h1.8M87.9 628.1h1.8M77.6 624.1h1.8M72.8 611.3h1.8M66.2 642.1h1.8M78.5 632.9h1.8M61.2 640.9h1.8M70 630.5h1.8M75 607.5h1.8M66.5 627.1h1.8M68.5 628.8h1.8M69.8 631.1h1.8M74.7 634.5h1.8M78.1 635.2h1.8M75.6 631h1.8M66 626.7h1.8M71.5 625.9h1.8M74.1 637.8h1.8M75.1 644.9h1.8M70.9 623h1.8M69.7 633.4h1.8M75.9 618.2h1.8M83.1 632.9h1.8M66.3 637h1.8M74.1 647.7h1.8M71.9 638.8h1.8M60.2 625.8h1.8M73.9 633.8h1.8M68.2 639.3h1.8M80.7 625.6h1.8M75 621h1.8M68.1 635.7h1.8M82.9 626.7h1.8M80.9 629.3h1.8M85.7 624.6h1.8M66.1 626.2h1.8M67.3 631.4h1.8M67 621.8h1.8M73.2 646.7h1.8M64.1 628.8h1.8M64.1 633.3h1.8M77.9 633.5h1.8M71.8 617.8h1.8M75.1 627.3h1.8M79.7 634.9h1.8M72.1 622.7h1.8M77.9 621h1.8M76.6 618.8h1.8M72.2 629.5h1.8M60.1 645.2h1.8M71.7 625.5h1.8M72.1 619.8h1.8M72.6 633.3h1.8M63.3 631.2h1.8M63.7 643h1.8M63.2 625.4h1.8M69.7 627.4h1.8M67.5 625.9h1.8M72.2 612.7h1.8M74 616.4h1.8M65.3 613.9h1.8M71.4 613.4h1.8M62.7 632h1.8M79.8 625.7h1.8M81.3 619.2h1.8M77 639.6h1.8M62.2 621.7h1.8M62.7 631.1h1.8M75.6 645.7h1.8M60.6 627h1.8M78.2 643.1h1.8M61.5 594.9h1.8M79.5 597.3h1.8M72 592.8h1.8M77.2 592.5h1.8M83.9 602.5h1.8M80.9 596.6h1.8M79.5 597.2h1.8M74.8 605.6h1.8M73.7 587.7h1.8M77.2 603.8h1.8M92.2 600.5h1.8M71.2 590h1.8M82 588.9h1.8M75.2 610.7h1.8M74.6 583.9h1.8M76.4 613.5h1.8M71 593.5h1.8M77.1 584.2h1.8M58.4 610.3h1.8M81.8 601.1h1.8M78.2 595h1.8M76.9 617.5h1.8M74.8 607h1.8M71.4 611.4h1.8M60.2 617h1.8M83.8 604.1h1.8M67.9 612.5h1.8M79.6 622.4h1.8M66.1 613.4h1.8M76.5 594.7h1.8M65.9 608.2h1.8M68 599.6h1.8M86 592.8h1.8M73.5 606.5h1.8M77.1 611h1.8M78.7 628.3h1.8M83 607.5h1.8M77.6 598.3h1.8M72.6 616.3h1.8M72.5 591.7h1.8M72.3 608.2h1.8M79.4 604.8h1.8M61.7 594.2h1.8M75.8 611.1h1.8M87.1 604.3h1.8M69.7 585.6h1.8M75.3 590.9h1.8M71.9 588.6h1.8M61.4 620.2h1.8M88.1 608.3h1.8M80.6 595.7h1.8M72.1 591.7h1.8M82.2 593.7h1.8M60.7 601.1h1.8M79.4 600.3h1.8M86.1 595.4h1.8M81 594.6h1.8M71.4 595.1h1.8M75.5 600.5h1.8M78.8 606.6h1.8M77.5 608.3h1.8M59.6 598.7h1.8M63.3 597.2h1.8M72.8 604.3h1.8M87.3 606.5h1.8M70 600.2h1.8M79.6 607.2h1.8M82.9 626.5h1.8M83.9 606.4h1.8M73.4 610.2h1.8M72.4 613.8h1.8M78.6 613.2h1.8M79.7 608.6h1.8M71.9 603h1.8M83 613.8h1.8M70.3 607.2h1.8M89.8 589h1.8M80.2 584.3h1.8M71.3 629.4h1.8M83.5 604.1h1.8M65 609.2h1.8M76.2 633.6h1.8M81.7 616.8h1.8M76.8 554.8h1.8M71.8 593.2h1.8M79.5 616.4h1.8M70.5 580.6h1.8M73.6 595h1.8M71 595.2h1.8M71.2 594.2h1.8M86.8 612.2h1.8M75.4 601.7h1.8M73.9 595.5h1.8M67.4 610.4h1.8M78.2 610.7h1.8M67.7 610h1.8M68.7 573.5h1.8M82.5 614.1h1.8M68.8 591.6h1.8M77.4 610.8h1.8M71.1 599.6h1.8M84.9 613.2h1.8M66.4 597.9h1.8M91.2 600.5h1.8M73.1 610.6h1.8M62.1 615.8h1.8M79.7 616.9h1.8M74.7 598.3h1.8M79.3 605.8h1.8M78.6 580.9h1.8M76.4 584.7h1.8M71.3 616.3h1.8M66 602.4h1.8M68.4 597.6h1.8M84.7 601.5h1.8M73.3 580.4h1.8M78.4 607h1.8M89.3 591.7h1.8M82.1 616.3h1.8M86.9 619.4h1.8M73.2 588.5h1.8M70.5 607.8h1.8M67.7 620.1h1.8M91.7 602.3h1.8M81.9 603.7h1.8M81.4 624h1.8M80.6 607.9h1.8M69.6 601.9h1.8M70.5 599.4h1.8M82.5 585.4h1.8M80.3 593.5h1.8M66.1 600.7h1.8M65.3 600.1h1.8M78.1 587h1.8M79.8 602.6h1.8M81.7 624.1h1.8M71.6 622.4h1.8M72.7 594.6h1.8M64.9 601.3h1.8M82.7 588.9h1.8M78.3 583.6h1.8M72.9 596.9h1.8M60.5 620.2h1.8M74.7 588.6h1.8M69.4 580.7h1.8M80.4 597.9h1.8M80.4 577.6h1.8M66.1 597.2h1.8M74.5 605.8h1.8M72.5 600.5h1.8M88.7 596.3h1.8M91.5 612.1h1.8M75.4 598.4h1.8M88.2 610.5h1.8M79.3 609.4h1.8M75.1 605h1.8M80.7 611.4h1.8M81 599.5h1.8M77.5 594h1.8M76.9 606.2h1.8M80.8 590h1.8M76.6 601.1h1.8M73.3 580.7h1.8M68.6 596.5h1.8M83.2 625.5h1.8M76.8 630.7h1.8M76.6 601.2h1.8M86.7 618.3h1.8M80 592.4h1.8M67.7 598.5h1.8M76 617.8h1.8M82.6 603h1.8M77.3 620h1.8M73.2 607.6h1.8M78.7 600.4h1.8M79.1 597.6h1.8M81.8 582.1h1.8M73.5 593.6h1.8M88.6 588h1.8M72.9 595.4h1.8M87.4 604.5h1.8M88.2 612.2h1.8M66 600.9h1.8M69.1 606.8h1.8M72.8 617.1h1.8M75.6 604.2h1.8M78 598.2h1.8M67 599.9h1.8M86.3 604.2h1.8M82.4 620.6h1.8M73 606h1.8M83.5 599.9h1.8M72.4 624.5h1.8M71 571.5h1.8M75.3 605.8h1.8M82.4 601.3h1.8M64 613.2h1.8M81.8 603h1.8M78.6 582.1h1.8M95 614.1h1.8M85.6 598.6h1.8M84.2 611.6h1.8M65.5 615.1h1.8M71.4 592h1.8M78.8 640.7h1.8M69 606.9h1.8M67.1 608.4h1.8M70.7 594.2h1.8M76 617.5h1.8M86 603.4h1.8M75.4 590h1.8M77 619.1h1.8M75.4 567.1h1.8M86.2 590.1h1.8M69.3 604.6h1.8M73 598.5h1.8M73.9 594.7h1.8M77.7 598.3h1.8M77.4 599.7h1.8M79.8 600.2h1.8M78.1 600.2h1.8M63.8 604h1.8M76.1 610.3h1.8M80.6 577.2h1.8M76.5 606.1h1.8M61 601.1h1.8M66.3 617.3h1.8M80 619.9h1.8M73.4 606.7h1.8M64.3 602.5h1.8M83.1 608h1.8M76.3 604.6h1.8M73.7 608.3h1.8M70.6 614.9h1.8M72.8 600.8h1.8M76.5 589.8h1.8M84 616.6h1.8M76.8 598.4h1.8M74.7 617.9h1.8M74 594.5h1.8M71.7 597.4h1.8M79.7 618.9h1.8M67.4 579.8h1.8M86.2 586.5h1.8M77.2 610.7h1.8M66.8 604.1h1.8M79.6 580.5h1.8M69.9 593.3h1.8M72.5 604.1h1.8M94.7 592.7h1.8M71.8 607h1.8M76.4 603.5h1.8M80.9 600h1.8M65.2 602.9h1.8M69.1 604.4h1.8M92.5 613h1.8M82.8 601.9h1.8M75.6 597.5h1.8M83.7 602h1.8M89.7 589h1.8M77.5 579.2h1.8M78.9 606.3h1.8M63.6 591.9h1.8M71.6 598.3h1.8M74.3 595.5h1.8M80.9 591.2h1.8M82.2 595.6h1.8M75.5 619.2h1.8M78.9 578.6h1.8M68.2 593h1.8M67.3 610h1.8M80.1 599.2h1.8M62.5 618.4h1.8M80 584.5h1.8M65.4 614.4h1.8M70.3 592.7h1.8M91.8 605.6h1.8M82 611.6h1.8M75.3 595h1.8M86.5 590.1h1.8M81.1 579.6h1.8M76.3 581.3h1.8M79.6 606.4h1.8M75.5 616h1.8M72.2 596.9h1.8M74.5 609.2h1.8M74.1 599.8h1.8M77.1 601.4h1.8M72.3 609h1.8M69.4 612.6h1.8M85 628.1h1.8M65.3 616h1.8M74.9 584.9h1.8M86.5 615.9h1.8M75.1 601.2h1.8M76.3 596.1h1.8M84.2 605.2h1.8M72.1 619.4h1.8M87.2 608.3h1.8M90.3 603.4h1.8M81.4 611.9h1.8M81 590.1h1.8M72.8 607.8h1.8M72.1 603.9h1.8M71.1 596.5h1.8M85.7 606.5h1.8M85.5 582.3h1.8M92.7 586.6h1.8M66.5 599.6h1.8M66.1 593.3h1.8M70.3 626.9h1.8M85.3 610.9h1.8M76 600.1h1.8M64.4 598h1.8M86.2 588.1h1.8M66.5 620.7h1.8M70.2 613.4h1.8M80.4 599.5h1.8M84.6 630h1.8M87.1 611.3h1.8M83.3 602.5h1.8M83.2 603.8h1.8M78.3 585.6h1.8M76.9 611.3h1.8M60.2 601h1.8M76.2 600.3h1.8M72.3 616.2h1.8M80.1 594.5h1.8M67.1 604.9h1.8M72.2 598.3h1.8M88.7 613.7h1.8M71.5 587.1h1.8M83.2 611.1h1.8M70.6 610.9h1.8M79.7 614.3h1.8M68.5 584.7h1.8M68.4 626.6h1.8M79.1 597.8h1.8M67.7 606.2h1.8M71.6 600.2h1.8M86.2 596h1.8M77.7 583.7h1.8M71 602.1h1.8M61.7 614.5h1.8M65.1 598.8h1.8M78.9 569.9h1.8M75.3 608h1.8M71.6 608.8h1.8M71 597.9h1.8M76.3 601.8h1.8M82.7 613.2h1.8M95.6 600.1h1.8M75.8 607.8h1.8M74.3 616.6h1.8M75 627h1.8M72.2 595h1.8M81.9 607.8h1.8M74.7 600.7h1.8M74.9 607.2h1.8M64.3 594.1h1.8M74.1 612.4h1.8M77.1 594.8h1.8M79.5 596.8h1.8M85.3 607.8h1.8M71.4 609.6h1.8M79.7 599.3h1.8M82.2 595.5h1.8M80.3 607.9h1.8M74.8 592.8h1.8M93.7 601h1.8M77.2 599h1.8M73.4 598.6h1.8M75.8 613.8h1.8M74.8 609.9h1.8M73.7 611.1h1.8M68.3 618.6h1.8M87.8 599.3h1.8M71.3 601.1h1.8M80.3 609.1h1.8M63.7 596.6h1.8M75.5 599.5h1.8M69.8 597.2h1.8M64.9 604.1h1.8M82.9 608.6h1.8M74.3 610.3h1.8M90.7 608.7h1.8M83.6 611h1.8M73.8 608.8h1.8M75.7 608.5h1.8M87 578.9h1.8M68.1 593.9h1.8M83.3 599.4h1.8M79.6 618.6h1.8M85 580.7h1.8M74.8 602.9h1.8M71.3 614.4h1.8M68.5 609.2h1.8M69.7 621.2h1.8M79.3 602.8h1.8M75.5 620h1.8M69.2 582.1h1.8M69.5 607.4h1.8M78.3 590.8h1.8M73 605.1h1.8M69.7 614.1h1.8M80.7 598.4h1.8M91.9 595.6h1.8M85.3 622h1.8M77.2 604.1h1.8M85.5 596.7h1.8M69.2 578.5h1.8M85 578.1h1.8M86.1 579.7h1.8M79.4 564.4h1.8M75.8 563.9h1.8M74.6 581.4h1.8M75.5 567.3h1.8M76.1 583.6h1.8M79.9 580h1.8M90 573.9h1.8M74.3 572.2h1.8M85.9 588.3h1.8M82.5 573.7h1.8M75.3 555h1.8M79 570.7h1.8M77.3 562.8h1.8M83.9 557.1h1.8M74.6 561.6h1.8M85.7 576.7h1.8M81.2 560.6h1.8M83.3 569.1h1.8M82.5 572.7h1.8M68.6 572.1h1.8M82.4 570.2h1.8M93.1 573.6h1.8M85.4 568h1.8M83.1 561.2h1.8M82.2 569.5h1.8M77.3 571.8h1.8M86.2 570.8h1.8M67.3 583h1.8M79.9 570.1h1.8M80.6 579.9h1.8M87.2 581.5h1.8M76.1 575.8h1.8M81.6 561.4h1.8M89.2 569.2h1.8M77.1 581.1h1.8M75.7 576.2h1.8M78.2 562.9h1.8M78.1 559.2h1.8M74.6 565h1.8M81.6 593.8h1.8M74.4 565.7h1.8M81.3 588.9h1.8M89.3 577.2h1.8M81.5 558h1.8M76.2 569.8h1.8M74.1 560.3h1.8M76.2 562.4h1.8M84 560.2h1.8M79.6 570.8h1.8M78.4 596.4h1.8M75.2 556.6h1.8M73.6 573.5h1.8M77.6 560.7h1.8M90.1 573.7h1.8M72.2 567.8h1.8M68.3 571.2h1.8M74.9 576.3h1.8M75.1 555.4h1.8M82.3 557.2h1.8M76.5 576.3h1.8M83 571.6h1.8M84.6 565.3h1.8M92.2 594.8h1.8M66.9 579.9h1.8M76.4 561h1.8M87 576.2h1.8M74.4 571.8h1.8M82.7 584.7h1.8M73.4 554.4h1.8M73.2 572.2h1.8M77.7 555.8h1.8M84.1 564.1h1.8M79.2 577.6h1.8M83 588.3h1.8M90.8 573.2h1.8M88.1 570.1h1.8M73.1 591.9h1.8M86 580.9h1.8M88.4 582.7h1.8M77.2 575h1.8M73.8 554.7h1.8M73 581.2h1.8M78.6 570.5h1.8M76.6 581.4h1.8M76.7 565.5h1.8M85.8 579.5h1.8M83.1 561.4h1.8M62.8 616h1.8M75.9 644.5h1.8M69.8 636.8h1.8M76.3 630h1.8M75.3 613.7h1.8M64.6 645.4h1.8M79.6 624.8h1.8M79.9 618.6h1.8M66.8 648.2h1.8M80.7 619.5h1.8M59.9 647.3h1.8M71.8 625.4h1.8M81.8 631.5h1.8M76.5 621.9h1.8M72.5 640.6h1.8M68.3 620h1.8M75.5 619.4h1.8M65.5 615.5h1.8M82.8 623.4h1.8M66.5 635.2h1.8M78.8 634.5h1.8M77 618.5h1.8M72 631.8h1.8M79.8 639.3h1.8M81.4 622.5h1.8M66.9 621.3h1.8M72.6 641.5h1.8M77.1 638.3h1.8M66.1 632.2h1.8M72.6 627.3h1.8M67.8 627.7h1.8M75.8 631.4h1.8M72.6 630.6h1.8M84.4 633.3h1.8M72.5 630.3h1.8M80.4 618.2h1.8M73.4 620.1h1.8M71.7 618.4h1.8M71.3 636.6h1.8M80.2 613.2h1.8M76.4 613.3h1.8M75 643h1.8M76.6 644.8h1.8M81.7 625.9h1.8M67.1 644.8h1.8M73.6 618.2h1.8M81.3 620.7h1.8M78.6 615h1.8M70.3 646.8h1.8M76.5 644.8h1.8M70.6 617.2h1.8M62.2 645.5h1.8M60 646.7h1.8M76.1 620.9h1.8M61.3 616.7h1.8M77.5 641.3h1.8M78.3 620.9h1.8M83.8 627.9h1.8M65.5 628.9h1.8M76.3 637.7h1.8M70.5 631.9h1.8M65.6 639.7h1.8M61 638.8h1.8M75 618.6h1.8M66.3 644h1.8M78.1 627h1.8M80.8 630.5h1.8M66.4 618.2h1.8M77.7 633.6h1.8M77.2 621.3h1.8M76 640.9h1.8M69.2 639.1h1.8M63.7 639.7h1.8M81.9 618.2h1.8M59.5 646.8h1.8M76.9 634.2h1.8M80.6 618.2h1.8M68.6 643.6h1.8M73.8 617.1h1.8M67.2 623.6h1.8M65.1 646.6h1.8M82.7 636.6h1.8M79 638.4h1.8M75.3 624.1h1.8M78 643.5h1.8M62.5 647h1.8M78.4 614.6h1.8M65 634.4h1.8M63.5 640.7h1.8M77.4 632.3h1.8M73.3 630.4h1.8M70.8 631h1.8M62.3 635.6h1.8M73.2 640.4h1.8M73.3 638h1.8M80.7 637.7h1.8M78.7 619.1h1.8M64.9 633.3h1.8M83.4 630.3h1.8M70.2 621.8h1.8M72.1 627.4h1.8M69.3 644.7h1.8M63.9 623.1h1.8M65.7 617.7h1.8M66.7 642.1h1.8M76.7 636.1h1.8M74.2 624.1h1.8M62.1 644.5h1.8M69.1 632.7h1.8M64.2 622.5h1.8M60.9 641.9h1.8M65.3 642.6h1.8M63 614.2h1.8M72 614h1.8M68.3 622.8h1.8M60.3 615.4h1.8M77.5 621.4h1.8M62.9 630.2h1.8M62.2 619.9h1.8M69.7 617.9h1.8M78.1 622.1h1.8M73.8 622h1.8M66.8 642.9h1.8M72.8 627.6h1.8M80.4 638.9h1.8M70.7 624.7h1.8M71.3 634.9h1.8M77.7 626.1h1.8M73.3 620.5h1.8M77.1 614.1h1.8M60.3 646.5h1.8M71.8 626.4h1.8M69.9 634.8h1.8M66.4 624.6h1.8M79.8 631.6h1.8M82.5 629.5h1.8M64.3 626.1h1.8M80.3 621.1h1.8M79.8 619.4h1.8M76.1 626.7h1.8M79 640.8h1.8M77 629.7h1.8M68.7 627h1.8M78.5 639.9h1.8M64.8 630.4h1.8M60.9 617.5h1.8M78.9 624.1h1.8M76.1 628.6h1.8M77.4 637.6h1.8M68.1 620h1.8M66.1 614.9h1.8M62.5 624.7h1.8M68.2 631.9h1.8M79.3 644.9h1.8M84 628.7h1.8M65.9 630.3h1.8M71.1 646.1h1.8M78.3 615h1.8M77.7 627.8h1.8M76.6 632.2h1.8M61.5 646.1h1.8M69.3 640.8h1.8M70 624.6h1.8M66.5 641.3h1.8M69.2 623.1h1.8M68.4 640.3h1.8M64.7 626.1h1.8M62.6 619.8h1.8M66.6 640.9h1.8M67 636.2h1.8M78.7 626.9h1.8M75.6 623.3h1.8M64.6 638.6h1.8M68.9 629.2h1.8M66.7 647.9h1.8M71.9 641.9h1.8M74.4 616.2h1.8M66.6 619.6h1.8M77.6 621.1h1.8M76.1 622.6h1.8M65 637.1h1.8M74.1 629.9h1.8M67.2 645h1.8M61.1 629.1h1.8M74 641h1.8M70.4 620.2h1.8M77 640.2h1.8M76.2 627.6h1.8M77.9 622.7h1.8M83.9 617.8h1.8M62.5 645.8h1.8M60.1 648.7h1.8M68.4 614.4h1.8M72.3 631.8h1.8M80.5 642.1h1.8M68.5 645.9h1.8M72.4 646.5h1.8M63 619.3h1.8M68.4 629.6h1.8M72.2 620.1h1.8M82.8 630.5h1.8M80.9 612.9h1.8M80 615.6h1.8M66.5 636.7h1.8M77 613.4h1.8M61.8 636.9h1.8M61 616.1h1.8M81.5 634.2h1.8M80.6 640.4h1.8M68.4 624h1.8M74.6 614.7h1.8M69.4 613.3h1.8M78.3 627.8h1.8M60.7 646.5h1.8M78.6 634.3h1.8M71 621.8h1.8M59.8 622.8h1.8M63.8 641.8h1.8M76.4 629h1.8M61.3 618h1.8M77.4 642.1h1.8M80.1 635.8h1.8M78.1 638.3h1.8M75.6 641.9h1.8M82.6 611.6h1.8M81.2 626.6h1.8M71.5 628.3h1.8M73.7 644.3h1.8M62.4 618h1.8M74.9 639.7h1.8M68.3 615.6h1.8M73.8 638h1.8M61.1 630.9h1.8M77.2 616.7h1.8M75.7 633.4h1.8M80.5 620.7h1.8M61.2 639.9h1.8M75.4 645.3h1.8M64 644.7h1.8M80.2 634.5h1.8M73.1 640h1.8M67.3 629.7h1.8M75.7 635.6h1.8M77.7 628.2h1.8M73.1 633.2h1.8M66 638.7h1.8M63.1 638h1.8M69.4 630.7h1.8M79 616.9h1.8M66.1 640.9h1.8M76.4 631.2h1.8M68.8 647.9h1.8M78.7 614.5h1.8M77.5 631.2h1.8M74.7 621.4h1.8M80.8 635.4h1.8M73.2 635.1h1.8M69 638.1h1.8M72.9 632.3h1.8M60.8 645h1.8M80.4 632.8h1.8M62.8 621.5h1.8M66.7 628h1.8M73.1 640.1h1.8M79.7 628.7h1.8M76.6 638.3h1.8M61.5 622.7h1.8M67.3 638.6h1.8M66.1 646.7h1.8M90.1 600h1.8M97 604.3h1.8M95.8 601.8h1.8M96.1 614.6h1.8M94.8 602.8h1.8M91.6 604.5h1.8M91.6 591h1.8M92.7 595.1h1.8M96.3 599.7h1.8M98.8 596.5h1.8M95 585.3h1.8M93.1 589.2h1.8M94.3 605.1h1.8M94.1 604.2h1.8M95.1 597.2h1.8M95.9 613.9h1.8M97.9 615.7h1.8M93.7 606.6h1.8" stroke="#000" stroke-width="1.8" fill="none"/>
<path d="M117.2 589.4h1.4M118.8 565.8h1.4M121.8 557.1h1.4M118.8 565.1h1.4M119.1 532.2h1.4M120.5 578.5h1.4M120.6 538.1h1.4M121.3 590.5h1.4M118.3 550.6h1.4M120 523.5h1.4M105.1 610h1.4M108.7 629.3h1.4M78.5 651.5h1.4M84.4 648.9h1.4M90.2 633.8h1.4M97 568.9h1.4M63.7 583h1.4M57.9 607.1h1.4M93.5 619.7h1.4M100.4 624.8h1.4M60.5 589.3h1.4M65.7 589.4h1.4M54.7 584.4h1.4M75.3 534.2h1.4M70.8 542h1.4M70.5 546.8h1.4M95.4 582h1.4M71.8 550.4h1.4M66.3 556.1h1.4M67.2 568.3h1.4M69.6 553h1.4M84.9 551.5h1.4M90 547.3h1.4M55 566.7h1.4M62.8 552.4h1.4M62.6 574.3h1.4M75.6 548.6h1.4M63.3 574.3h1.4M75 548.6h1.4M63.2 564.1h1.4M92.5 555.8h1.4M85.3 527.7h1.4M61.1 550.4h1.4M70.2 561.6h1.4M71 568h1.4M96.7 609.7h1.4M98.5 617.4h1.4M100.5 601.6h1.4M90.6 620.7h1.4M97.5 590.3h1.4M99.6 594.1h1.4M100.2 589.7h1.4M100.1 597.9h1.4M69 501.2h1.4M130 521.8h1.4M145.6 523h1.4M157.4 516.5h1.4M157.4 529.8h1.4M154.4 548.3h1.4M128 548.9h1.4M139 557h1.4M136.8 570h1.4M164.7 510.6h1.4M98 538.6h1.4" stroke="#000" stroke-width="1.4" fill="none"/>
<path d="M130.0 494.8H137.0M141.0 494.8H147.5" stroke="#000" stroke-width="1.2" stroke-dasharray="1.5 1.5" fill="none"/>
<rect x="101.6" y="494.8" width="22.4" height="145.6" fill="none" stroke="#000" stroke-width="1.6"/>
<rect x="50.8" y="493.6" width="152.2" height="166.9" fill="none" stroke="#000" stroke-width="1.6"/>
<path d="M51.5 661.2v5.5M50.1 659.1h-6.0M57.4 661.2v3.0M50.1 652.5h-3.0M63.3 661.2v3.0M50.1 645.9h-3.0M69.1 661.2v3.0M50.1 639.4h-3.0M75.0 661.2v3.0M50.1 632.8h-3.0M80.9 661.2v5.5M50.1 626.2h-6.0M86.8 661.2v3.0M50.1 619.7h-3.0M92.7 661.2v3.0M50.1 613.3h-3.0M98.5 661.2v3.0M50.1 606.8h-3.0M104.4 661.2v3.0M50.1 600.4h-3.0M110.3 661.2v5.5M50.1 593.9h-6.0M116.2 661.2v3.0M50.1 587.3h-3.0M122.1 661.2v3.0M50.1 580.8h-3.0M127.9 661.2v3.0M50.1 574.2h-3.0M133.8 661.2v3.0M50.1 567.7h-3.0M139.7 661.2v5.5M50.1 561.1h-6.0M145.6 661.2v3.0M50.1 554.8h-3.0M151.5 661.2v3.0M50.1 548.5h-3.0M157.3 661.2v3.0M50.1 542.3h-3.0M163.2 661.2v3.0M50.1 536.0h-3.0M169.1 661.2v5.5M50.1 529.7h-6.0M175.0 661.2v3.0M50.1 523.3h-3.0M180.9 661.2v3.0M50.1 516.9h-3.0M186.7 661.2v3.0M50.1 510.4h-3.0M192.6 661.2v3.0M50.1 504.0h-3.0M198.5 661.2v5.5M50.1 497.6h-6.0" stroke="#000" stroke-width="1.3" fill="none"/>
<text class="tx" transform="translate(52.3 676.0) scale(0.9 1)" text-anchor="middle">0</text>
<text class="tl" x="40.6" y="659.1" text-anchor="middle" transform="rotate(-90 40.6 659.1)">0</text>
<text class="tx" transform="translate(81.7 676.0) scale(0.9 1)" text-anchor="middle">50</text>
<text class="tl" x="40.6" y="626.2" text-anchor="middle" transform="rotate(-90 40.6 626.2)">50</text>
<text class="tx" transform="translate(111.1 676.0) scale(0.9 1)" text-anchor="middle">100</text>
<text class="tl" x="40.6" y="593.9" text-anchor="middle" transform="rotate(-90 40.6 593.9)">100</text>
<text class="tx" transform="translate(140.5 676.0) scale(0.9 1)" text-anchor="middle">150</text>
<text class="tl" x="40.6" y="561.1" text-anchor="middle" transform="rotate(-90 40.6 561.1)">150</text>
<text class="tx" transform="translate(169.9 676.0) scale(0.9 1)" text-anchor="middle">200</text>
<text class="tl" x="40.6" y="529.7" text-anchor="middle" transform="rotate(-90 40.6 529.7)">200</text>
<text class="tx" transform="translate(199.3 676.0) scale(0.9 1)" text-anchor="middle">250</text>
<text class="tl" x="40.6" y="497.6" text-anchor="middle" transform="rotate(-90 40.6 497.6)">250</text>
<path d="M303.3 500.2h1.8M305.3 499.4h1.8M305.4 509.8h1.8M297.7 502.8h1.8M302.9 501h1.8M298.9 499.3h1.8M299.8 499.6h1.8M299.5 505h1.8M301.9 502.2h1.8M300.7 496.7h1.8M300.1 497.3h1.8M301.4 501.1h1.8M297.9 502.5h1.8M300.2 518.3h1.8M302 523.3h1.8M300.1 510.3h1.8M299.4 513.6h1.8M302.5 510.4h1.8M302.7 519.3h1.8M306.8 519.1h1.8M302.3 510.2h1.8M301.4 519.2h1.8M300.1 513.1h1.8M304.5 522.9h1.8M300.4 519.8h1.8M305.9 517.2h1.8M303.6 521.5h1.8M300.8 511.8h1.8M306.9 522.4h1.8M299.9 519.8h1.8M296.7 521.1h1.8M296.3 523.8h1.8M304.1 511.1h1.8M303.4 510.8h1.8M305.3 524.1h1.8M298.9 517.9h1.8M306.1 522.6h1.8M305.8 516.1h1.8M304.7 517.1h1.8M302.6 522h1.8M305 528.2h1.8M297.9 527.1h1.8M304.1 535.1h1.8M295.8 530.1h1.8M300.6 532.3h1.8M297.9 531.4h1.8M304.6 530h1.8M302.7 532.3h1.8M298.6 532.6h1.8M300.1 526.6h1.8M301.7 533.8h1.8M300.9 530.1h1.8M300 535.8h1.8M297.3 534h1.8M299.1 532.7h1.8M305.6 532h1.8M304.6 537.6h1.8M303.4 538.5h1.8M300.4 534h1.8M296 525.9h1.8M298.2 539.5h1.8M301.8 536.2h1.8M303.6 538.2h1.8M304.3 528.5h1.8M301 538.6h1.8M300.8 539h1.8M296.5 532.4h1.8M301.2 525.5h1.8M304.9 531.4h1.8M304.5 530.2h1.8M303.3 534.3h1.8M297.5 534.4h1.8M296.3 530h1.8M295.5 532h1.8M304.3 528.3h1.8M295.9 533.9h1.8M301.9 535.8h1.8M296.7 537.9h1.8M305.9 536.3h1.8M297.9 525.6h1.8M299.8 526.9h1.8M304.9 539.3h1.8M299.8 533h1.8M300.5 537.5h1.8M304.5 533.5h1.8M299.8 528.8h1.8M298.6 531.4h1.8M304.6 535.6h1.8M296.8 538.3h1.8M296.2 536.4h1.8M295.4 549.7h1.8M303.6 546.5h1.8M303.9 551.3h1.8M297.8 548.5h1.8M296.7 551.4h1.8M296.5 545.1h1.8M304.7 547.6h1.8M303.8 540.6h1.8M299.5 544.4h1.8M297.7 548.6h1.8M299.3 550h1.8M294.7 544.2h1.8M296.6 544.1h1.8M297.9 546.7h1.8M301.9 548.8h1.8M296.2 540.1h1.8M297.2 541.2h1.8M294.8 548h1.8M297.9 541.5h1.8M301.4 547.7h1.8M301.5 548.8h1.8M302 543.6h1.8M300.8 541.4h1.8M302.2 548.1h1.8M298.5 551.6h1.8M302.1 544.6h1.8M297.5 542.8h1.8M304 550.4h1.8M294.5 545.3h1.8M301.9 551.4h1.8M304.3 542.7h1.8M295.4 545.4h1.8M299.2 545.2h1.8M297.4 546.9h1.8M299.6 551.2h1.8M298.1 548.4h1.8M296.4 540.1h1.8M305.1 551.3h1.8M295.1 541.6h1.8M302 549h1.8M295.1 550.7h1.8M304.8 550.5h1.8M300.4 547.7h1.8M299.9 545.5h1.8M303.2 548.8h1.8M303.4 548.6h1.8M302.4 546.7h1.8M303.7 540.5h1.8M303.3 546.5h1.8M304.5 542.3h1.8M295.7 548h1.8M295.2 547.8h1.8M302.6 549.5h1.8M300.2 542.3h1.8M296.5 547.6h1.8M296.8 546.7h1.8M296.8 544.3h1.8M300.7 545.8h1.8M301.6 543.3h1.8M302.4 548.6h1.8M296.1 542h1.8M295.9 544.8h1.8M301.4 546.2h1.8M304.3 544.6h1.8M294.5 542.1h1.8M299.9 549.4h1.8M295.9 549.5h1.8M298.7 545.5h1.8M297.8 546.9h1.8M301.4 550.7h1.8M300.1 551.8h1.8M298.3 541.4h1.8M305.4 542.1h1.8M304.6 540.8h1.8M297.7 544h1.8M303.5 546h1.8M295.3 551.6h1.8M304.1 544.4h1.8M299.7 547.7h1.8M298.4 561.9h1.8M297.8 556.7h1.8M303.7 557.1h1.8M295.4 552.1h1.8M301.1 560h1.8M297.6 559.8h1.8M303.4 554.1h1.8M305 558.7h1.8M299.9 558.5h1.8M298.6 564.5h1.8M297.8 552.4h1.8M295.3 565.4h1.8M302.9 564.4h1.8M297.4 562.7h1.8M301.1 554.9h1.8M295.7 563h1.8M298 558h1.8M301.9 553.5h1.8M302.9 552.6h1.8M303.9 554h1.8M294.1 560.6h1.8M304.1 554.7h1.8M294.7 553.8h1.8M295.8 554.9h1.8M297.7 555.7h1.8M295.3 562.8h1.8M297.1 564.1h1.8M304.8 554.1h1.8M299.9 554.3h1.8M305.1 552.9h1.8M301.7 561.3h1.8M297 555h1.8M302.6 559.9h1.8M298.9 564.8h1.8M302.4 563.6h1.8M303.5 563h1.8M300.7 560h1.8M295.2 553.4h1.8M300.9 553.7h1.8M299.4 552.4h1.8M303.8 558.9h1.8M295.2 552.4h1.8M301.6 560.7h1.8M296.4 554h1.8M298.6 555.1h1.8M295.2 558.8h1.8M304.9 562.5h1.8M300 558.5h1.8M296 553.3h1.8M300.9 559.6h1.8M297 564.4h1.8M299.6 555.7h1.8M295.2 556.4h1.8M303 555h1.8M295.9 562.2h1.8M294.9 562.7h1.8M302.3 561.8h1.8M300.7 562.4h1.8M305.2 562.7h1.8M295.4 558.2h1.8M298.5 557.5h1.8M304.2 555.3h1.8M303.8 556.9h1.8M294.5 557h1.8M305.1 555.4h1.8M304.7 554.7h1.8M294.9 562.6h1.8M301.2 563.6h1.8M303.1 554.8h1.8M303.6 552.9h1.8M303.2 560.4h1.8M298.1 560.3h1.8M295.7 557.6h1.8M300.4 555.7h1.8M298.8 560.9h1.8M304.1 553.2h1.8M304.1 559.1h1.8M302.7 559.2h1.8M295.4 554.1h1.8M303.2 553h1.8M297.5 554.3h1.8M296.8 562.2h1.8M304.6 561.1h1.8M302.4 561.2h1.8M300.3 562h1.8M296.3 563.6h1.8M295.2 557.6h1.8M303.5 552.7h1.8M303 561.7h1.8M303.9 564h1.8M298.1 553.5h1.8M297.1 562.7h1.8M299.9 556.2h1.8M294.3 563.6h1.8M296.7 563.4h1.8M299.7 563.4h1.8M295.7 559.4h1.8M297.2 554.2h1.8M305.4 564.9h1.8M299.8 560.7h1.8M302.6 563h1.8M299.3 561.2h1.8M300.6 554.5h1.8M296 556.5h1.8M297.7 556.8h1.8M300.5 560.3h1.8M303.4 554.2h1.8M302.4 561h1.8M298.7 557.3h1.8M295.3 562.3h1.8M294.2 561.4h1.8M295.1 563.8h1.8M297.5 558.7h1.8M296.4 559.7h1.8M299.5 562.7h1.8M295.1 556h1.8M297.3 562.9h1.8M303.5 554.6h1.8M301.7 556.4h1.8M298.3 564.8h1.8M303.6 564.7h1.8M298.3 563.9h1.8M296.8 552.8h1.8M297.3 559.3h1.8M297.2 555.6h1.8M298.3 562.2h1.8M299.8 553.4h1.8M302.3 561.1h1.8M294.7 609.8h1.8M304.3 566.4h1.8M304.2 601.5h1.8M300.5 576.4h1.8M294 634.8h1.8M301.6 624.8h1.8M301.7 576.8h1.8M297.5 566.9h1.8M304.3 616.2h1.8M297.2 589.4h1.8M302.9 594h1.8M301.2 631.1h1.8M296.1 611.9h1.8M303.1 593.7h1.8M300.6 634.6h1.8M303.2 597.5h1.8M298.3 573.5h1.8M297.3 602.1h1.8M301.7 575.6h1.8M301.3 607.1h1.8M296.2 621h1.8M297.9 615h1.8M293.8 613.9h1.8M302.5 606.1h1.8M294 608.5h1.8M299.1 566.1h1.8M297.2 569.5h1.8M295.2 569.1h1.8M303.4 624.1h1.8M302.8 566.2h1.8M299.9 571h1.8M297.8 593.6h1.8M298.2 596.7h1.8M299.3 631.9h1.8M303.4 633.9h1.8M302.2 606.8h1.8M302 611.8h1.8M295.6 601.1h1.8M296.7 594.4h1.8M297.8 616.7h1.8M302.8 599h1.8M297.8 605.4h1.8M302.1 634h1.8M300.6 631.3h1.8M299 588.5h1.8M297.3 627.1h1.8M303.3 623.6h1.8M300.7 614.8h1.8M296.8 583.9h1.8M304.2 606.7h1.8M301.4 633.3h1.8M302.3 578.8h1.8M299.8 628h1.8M294.6 614.5h1.8M299.4 571.1h1.8M294.3 613h1.8M304.2 635.3h1.8M301.9 632.3h1.8M303.8 575.8h1.8M304.3 578h1.8M303.1 596.4h1.8M300.9 571.9h1.8M294.4 630h1.8M298.5 569.9h1.8M299.1 604.1h1.8M301.8 604h1.8M302.3 584.5h1.8M300.1 613.2h1.8M303.8 633.4h1.8M296.2 606.1h1.8M295.7 623.6h1.8M300.5 599.7h1.8M301.3 621.3h1.8M296.6 582.2h1.8M294.9 601h1.8M304 611.1h1.8M297.2 621.2h1.8M300.3 599.3h1.8M302.1 577.4h1.8M298.5 597.7h1.8M298.2 601.1h1.8M300.4 588.7h1.8M296.9 599h1.8M299 608.5h1.8M303.2 612.8h1.8M297.3 567.6h1.8M302.1 624.1h1.8M295 609.9h1.8M301.2 620.6h1.8M296.8 630.2h1.8M299.8 577.4h1.8M296.1 567.9h1.8M303.4 588.5h1.8M294.4 578h1.8M295.4 629.6h1.8M300.2 631.8h1.8M295.3 627.4h1.8M297.5 625.6h1.8M299.2 622.8h1.8M303.2 636.1h1.8M297.2 591.5h1.8M304.1 579.2h1.8M302.2 636.3h1.8M298.5 570.6h1.8M294.7 589.5h1.8M294.4 619h1.8M296.5 586.7h1.8M295.4 607.1h1.8M297.8 602.5h1.8M299.8 568.3h1.8M298.4 588.9h1.8M302.4 593.9h1.8M297.6 624.4h1.8M302.7 600.1h1.8M297.5 600.7h1.8M301.8 617.8h1.8M303.8 579.8h1.8M299.3 616.4h1.8M300.6 611.5h1.8M297 634.3h1.8M298.8 617.9h1.8M299.8 602.1h1.8M296.3 610h1.8M301 579.6h1.8M303 577.7h1.8M301.4 565.4h1.8M302.5 602.5h1.8M301.5 584.7h1.8M297.2 635.8h1.8M301.8 583.7h1.8M298 594.6h1.8M300.7 567.7h1.8M300.4 634.3h1.8M299 575.8h1.8M297.4 635.3h1.8M295.8 575.6h1.8M299 618.4h1.8M299.7 629.9h1.8M299.3 593.7h1.8M300 627.2h1.8M294.5 615.8h1.8M298.4 588.1h1.8M298.6 599.6h1.8M299.1 616.1h1.8M297.7 587.4h1.8M294.6 618.7h1.8M302.1 580h1.8M294.4 581.4h1.8M295.5 627h1.8M304.2 624.2h1.8M297.6 621.1h1.8M294.3 622.1h1.8M297.9 576.3h1.8M293.9 574.3h1.8M293.8 626.2h1.8M295.1 616.3h1.8M297 613.3h1.8M303.8 592.6h1.8M300 626.2h1.8M295.6 631.3h1.8M303.4 588.8h1.8M295.7 590.3h1.8M298.1 593.3h1.8M298.3 599.3h1.8M295.8 605.1h1.8M296.4 569h1.8M301.7 585.9h1.8M296.7 595.7h1.8M296.4 591.1h1.8M303.6 591h1.8M295.1 627h1.8M299.3 584.9h1.8M299.6 619.6h1.8M303.3 630.5h1.8M302.4 583.2h1.8M304.1 616.5h1.8M302.3 577.4h1.8M304.1 583.4h1.8M304.3 634.4h1.8M303.3 630.3h1.8M298.2 594.2h1.8M296.6 568h1.8M298.9 565.5h1.8M299.6 612.5h1.8M304.1 629.7h1.8M297.3 605.2h1.8M296.9 611.9h1.8M299.7 615.8h1.8M296.7 630.8h1.8M301.8 582.7h1.8M295 568.7h1.8M295.6 609.9h1.8M304.4 596.7h1.8M299.2 629.6h1.8M303.2 568.6h1.8M297.2 628h1.8M295.5 627.4h1.8M297.8 587.1h1.8M302 588.7h1.8M295.5 628.5h1.8M304.1 620.3h1.8M298.5 625.6h1.8M295.9 618.2h1.8M298.6 583.4h1.8M297.6 607.6h1.8M303.3 571.4h1.8M296.8 566.5h1.8M304.1 632.4h1.8M295.8 570.4h1.8M303.4 582.4h1.8M300.1 588.6h1.8M303.9 584.6h1.8M297.1 608.2h1.8M294.6 613.8h1.8M299.9 612.3h1.8M302.9 624.9h1.8M298.3 622.3h1.8M303.4 577.9h1.8M303.5 571.9h1.8M294.5 579.7h1.8M297.4 572.2h1.8M304.1 617.6h1.8M298.5 577.1h1.8M302.9 598.6h1.8M302.2 577.1h1.8M295 592.4h1.8M302.3 600.5h1.8M295.9 609.5h1.8M302.8 581.8h1.8M300.8 620.3h1.8M294.8 581.8h1.8M297.1 612.6h1.8M298.7 587.1h1.8M296.7 618.4h1.8M294 584.8h1.8M300.8 570.2h1.8M296.5 600.4h1.8M301.9 596.2h1.8M303.9 569.2h1.8M297.4 617.5h1.8M300.4 595.5h1.8M298.6 619.2h1.8M300.1 585h1.8M293.9 585.3h1.8M295.8 565.6h1.8M302.3 586h1.8M294.5 579.1h1.8M297.8 584.9h1.8M295.3 567h1.8M303 603.1h1.8M304 585h1.8M295.9 572.2h1.8M294.2 578.7h1.8M294.7 584.3h1.8M297.5 628.6h1.8M294.6 609.6h1.8M302.3 602.9h1.8M298.4 565.8h1.8M297.7 606.9h1.8M298.7 628.2h1.8M293.9 593.4h1.8M303.5 577.1h1.8M295.2 634.2h1.8M297.6 634.6h1.8M303.8 614.2h1.8M294.6 619.3h1.8M301.2 634h1.8M302.2 615.8h1.8M295.9 609.2h1.8M298.2 574.5h1.8M301 629.5h1.8M297.2 632h1.8M298.8 585.7h1.8M303.1 607.6h1.8M301.6 591.7h1.8M294.6 636.4h1.8M297.8 620.9h1.8M303 589.7h1.8M296.3 595.2h1.8M304 581.1h1.8M295.3 617.6h1.8M293.4 569.3h1.8M298.9 620h1.8M295.8 633.1h1.8M296.4 567.9h1.8M304.4 628.8h1.8M303.4 593.3h1.8M299.8 570.5h1.8M296.4 611.5h1.8M300.4 634.9h1.8M301.7 601.9h1.8M301.3 626.8h1.8M298.7 596.3h1.8M301.7 609.1h1.8M304.8 586.6h1.8M296 617.5h1.8M302.6 572h1.8M301.8 592.4h1.8M302.5 578.1h1.8M297.9 574.1h1.8M302.6 577.5h1.8M302.8 610.7h1.8M301.6 576.5h1.8M301.8 618.4h1.8M301.2 604.2h1.8M301.7 599.3h1.8M301.4 607.6h1.8M299.8 595.2h1.8M302.7 573.5h1.8M301.5 579.9h1.8M299 577.3h1.8M300.5 630.4h1.8M297.8 605.9h1.8M302.4 575.6h1.8M295.1 606.4h1.8M302.4 580.4h1.8M294.9 576.4h1.8M297.1 627.6h1.8M299.7 635.4h1.8M302.2 608.8h1.8M293.3 602.3h1.8M298 573.9h1.8M303.6 580.3h1.8M303.7 597.9h1.8M302.5 632.4h1.8M295.2 587h1.8M300.3 628.9h1.8M297.6 602.1h1.8M301.7 623.5h1.8M295.7 578.7h1.8M294.8 606.9h1.8M297.1 613.5h1.8M300.1 578.3h1.8M293.3 578.1h1.8M297.6 611.2h1.8M298.7 632.3h1.8M297.3 597h1.8M301.3 603h1.8M297.7 581.1h1.8M299.6 589.2h1.8M299.9 602.5h1.8M300.4 592.4h1.8M294.8 594.3h1.8M299 634.4h1.8M299.7 614.6h1.8M294.1 618.2h1.8M294.5 586h1.8M294.8 628.6h1.8M295.4 572.3h1.8M301.9 603.5h1.8M302.1 599.9h1.8M296.7 575.9h1.8M294.1 576.5h1.8M302 589.3h1.8M295.4 631.9h1.8M299.5 572.5h1.8M295.9 597.5h1.8M296.6 594.8h1.8M296.3 595.9h1.8M299.2 611.6h1.8M303.2 600h1.8M301.9 602.8h1.8M300.4 589.5h1.8M296.9 581.1h1.8M302.3 599.4h1.8M299.5 629.5h1.8M300.6 605.2h1.8M298.3 612.8h1.8M303.4 580.6h1.8M296.9 570.6h1.8M303.3 595.6h1.8M303.7 605.3h1.8M297.4 609.9h1.8M304.4 583h1.8M302.3 611.1h1.8M301.7 570.9h1.8M297.8 619.6h1.8M297.3 597.8h1.8M295.7 617.4h1.8M298.2 582h1.8M304.3 585.9h1.8M295.2 605.1h1.8M304 588h1.8M300.2 587.3h1.8M300.7 622.4h1.8M293.9 626.7h1.8M297.8 589.2h1.8M295.3 635.7h1.8M294.5 610.5h1.8M296.1 572.1h1.8M300.3 630.6h1.8M300.9 619.5h1.8M296 587.2h1.8M304.4 579.2h1.8M296.9 571.2h1.8M294.1 593.8h1.8M300.5 566.4h1.8M297.1 610.2h1.8M302.8 571.2h1.8M296.5 616.4h1.8M299.4 584.3h1.8M297.5 572.6h1.8M294.2 579.1h1.8M302.1 610.8h1.8M296.2 575.8h1.8M296.7 625.8h1.8M300.2 594.9h1.8M303.6 606.4h1.8M294.2 602.4h1.8M299.1 591.5h1.8M297.3 583.3h1.8M301.8 567.4h1.8M294.1 568.4h1.8M300.1 632.1h1.8M303.9 592.5h1.8M296.7 577.7h1.8M297.4 614.8h1.8M303.1 599.1h1.8M298.6 623.9h1.8M294.6 578h1.8M304.3 594.8h1.8M299.5 597.9h1.8M297.1 584.3h1.8M297.3 605.5h1.8M298 604.9h1.8M300.7 584.4h1.8M301.8 595.1h1.8M300.3 614.4h1.8M296 587.4h1.8M293.9 573h1.8M301.1 616.5h1.8M302 615.5h1.8M303.7 627.7h1.8M295.8 621.8h1.8M303.6 594.9h1.8M302.9 565.9h1.8M301.3 594.7h1.8M301.5 616.7h1.8M300.4 621.9h1.8M295.1 634h1.8M303.6 611.1h1.8M300.8 607h1.8M302.1 586.5h1.8M296.9 565.4h1.8M300.3 627.2h1.8M296.1 634.4h1.8M298 599.5h1.8M302.5 620.7h1.8M296.5 612h1.8M298.9 616.1h1.8M294.8 626.6h1.8M298.1 632.4h1.8M294.5 598.9h1.8M296.9 612.6h1.8M298.5 593h1.8M296.5 574.9h1.8M298 565.5h1.8M302.8 617.4h1.8M304.2 628.6h1.8M300.7 629.6h1.8M303 588.6h1.8M301.7 610.7h1.8M301.8 587.2h1.8M300.6 633.5h1.8M296 619.7h1.8M299 578.7h1.8M302.6 571.2h1.8M298.5 588.9h1.8M302 633.3h1.8M298.6 601.1h1.8M294.7 620.4h1.8M298 587h1.8M294.6 626.4h1.8M301.8 598.3h1.8M296.8 566.6h1.8M298.5 572.3h1.8M300.4 626.9h1.8M296.9 605.7h1.8M296.8 574.8h1.8M301.9 585.8h1.8M295.7 586.9h1.8M304.6 620.6h1.8M301.8 599.1h1.8M302 626.5h1.8M297.8 607.1h1.8M299.8 594h1.8M299.9 584.5h1.8M298.2 573h1.8M295.8 634h1.8M302.8 628.7h1.8M298.3 621.1h1.8M300.8 613.2h1.8M302.2 607.2h1.8M300 613.1h1.8M294.4 597.1h1.8M298.2 591.4h1.8M302.8 565.3h1.8M303.7 595.8h1.8M298.2 579.1h1.8M303.2 603.2h1.8M302.7 580.9h1.8M296.3 632.5h1.8M297.4 593.7h1.8M297.4 566.8h1.8M299.3 612h1.8M294 591.4h1.8M304.9 610.6h1.8M296.8 577.7h1.8M303.8 571.8h1.8M294.8 575.5h1.8M299 589.2h1.8M297.4 622.3h1.8M303.4 570.4h1.8M299 596.4h1.8M300.7 572.2h1.8M299.1 615.9h1.8M304.7 572.6h1.8M295.2 591.3h1.8M296.3 607.5h1.8M296.7 616.3h1.8M303.6 579.9h1.8M296.8 630h1.8M295.9 615.4h1.8M298.6 594.9h1.8M295.4 598.5h1.8M301 602.4h1.8M297.5 591.6h1.8M300.7 572.9h1.8M295 621.8h1.8M296.7 619.2h1.8M296.1 631h1.8M302 574.5h1.8M297.9 595h1.8M304.8 591.5h1.8M305 592.5h1.8M299.1 604.4h1.8M294.1 601.5h1.8M295 587.7h1.8M302.1 610.1h1.8M295.4 630h1.8M298 619.7h1.8M296.5 568.3h1.8M295.5 573.1h1.8M294.2 604.9h1.8M294.7 601.1h1.8M297.4 574.1h1.8M298.8 607.5h1.8M301 575.8h1.8M300 598.8h1.8M299.4 586h1.8M303.2 570.1h1.8M297 595.8h1.8M302.1 605.3h1.8M296.4 599.6h1.8M298.5 593.8h1.8M296.6 590.1h1.8M300.4 625.4h1.8M295 573.3h1.8M298.2 614.2h1.8M295 626.7h1.8M298.7 585.3h1.8M294.2 571.5h1.8M297.5 624.5h1.8M294 614.7h1.8M298.9 581.9h1.8M303.4 575.5h1.8M299.2 578.5h1.8M297.6 603.5h1.8M299.6 632h1.8M302.6 574.5h1.8M304 573.9h1.8M296.3 591.6h1.8M296.5 594.2h1.8M299.5 571.7h1.8M303.6 607h1.8M301.5 608h1.8M297.8 586h1.8M298.8 575.6h1.8M304.6 577.9h1.8M302.5 598.8h1.8M302.6 631.2h1.8M299.2 585.3h1.8M297.3 636.6h1.8M301.9 588.4h1.8M297.7 576h1.8M301.3 599.1h1.8M298.9 609.4h1.8M297.9 632.8h1.8M304.2 569.7h1.8M296.4 599.1h1.8M301.1 604.5h1.8M294.6 621.7h1.8M300.2 615.7h1.8M295.4 586.1h1.8M299.4 607.3h1.8M304.3 622.7h1.8M303.1 580.6h1.8M301 631.8h1.8M303 576.3h1.8M301.4 598.7h1.8M300.3 628.2h1.8M297.2 578.3h1.8M302.4 591.3h1.8M298.6 581.9h1.8M300.1 582.9h1.8M303.4 624.9h1.8M299.6 618.3h1.8M303.1 625.3h1.8M298.3 576.4h1.8M303.9 615h1.8M295.3 568.3h1.8M296.2 609.3h1.8M298.9 566.2h1.8M295.9 608.6h1.8M294.1 570.5h1.8M299.3 584.4h1.8M300.2 624h1.8M303.9 633.2h1.8M295.2 628.9h1.8M297.5 601h1.8M294.4 609.5h1.8M297.8 606.1h1.8M299.3 620.8h1.8M302.1 620.3h1.8M304.3 634.3h1.8M299.9 598.4h1.8M304.3 603h1.8M297.1 597.5h1.8M293.5 594.4h1.8M304.9 610h1.8M302.5 633.3h1.8M299.7 603.7h1.8M299.3 628.7h1.8M302.4 620.3h1.8M294.1 585.5h1.8M297.8 571.3h1.8M300.9 628.5h1.8M300.8 571.9h1.8M293.6 581.2h1.8M294.4 594.9h1.8M302.4 606h1.8M297.1 609.1h1.8M296 629.5h1.8M302.5 568.6h1.8M296.5 581.1h1.8M299.5 605.7h1.8M303 619.5h1.8M298.7 569h1.8M297.3 614.6h1.8M294.2 603.7h1.8M302.6 584.2h1.8M295.5 583h1.8M297.7 615.7h1.8M303.9 607h1.8M296.2 634.8h1.8M297.2 629.6h1.8M294.8 602.1h1.8M295.4 598h1.8M293.9 566h1.8M294.4 575.7h1.8M300.6 603.4h1.8M298.2 630.5h1.8M297.5 603.3h1.8M302.3 598.9h1.8M298.3 576.4h1.8M296.4 606.6h1.8M294.6 630.2h1.8M295.8 569.7h1.8M298.5 590.4h1.8M302 600.4h1.8M300.3 590h1.8M297.4 619.4h1.8M302.2 632.4h1.8M303 634.2h1.8M301 624.7h1.8M296.4 625h1.8M294.9 594.9h1.8M298.4 617.8h1.8M304.6 570.4h1.8M298.2 628.9h1.8M300 636.2h1.8M295 635.4h1.8M303.9 568.8h1.8M302.9 609.6h1.8M294.1 590.1h1.8M302.1 600.4h1.8M302.8 597.1h1.8M295.3 627h1.8M302.5 628.9h1.8M300.6 567h1.8M295.1 592.2h1.8M304.4 566.5h1.8M299.9 566.4h1.8M304 585.5h1.8M294.4 571.1h1.8M304.3 602.6h1.8M296.9 605.3h1.8M296.8 569.6h1.8M300.6 579.8h1.8M303.2 568.8h1.8M299.3 606.2h1.8M293.7 574.7h1.8M293.6 596.4h1.8M296.9 571.3h1.8M300.6 625.1h1.8M300.8 602.8h1.8M300.5 596h1.8M298.3 608.2h1.8M300.3 611.6h1.8M303.6 594.8h1.8M301 636h1.8M304.1 578h1.8M301.8 608.7h1.8M297.4 580h1.8M294.4 600.1h1.8M303.7 567h1.8M295 620.6h1.8M294.8 572.2h1.8M297.4 601.4h1.8M302.3 611.6h1.8M295.3 618.3h1.8M303.3 598.4h1.8M299.5 592.6h1.8M293.9 612.2h1.8M303.2 573h1.8M295.3 567.1h1.8M297.2 589.1h1.8M293.9 614.8h1.8M295 593h1.8M301 588.8h1.8M294.6 597.3h1.8M294.4 598.1h1.8M300.7 573.6h1.8M303.7 583h1.8M300.7 588.2h1.8M294.5 619.5h1.8M301.8 568.6h1.8M298.9 633.9h1.8M299.6 575.9h1.8M298.2 574.9h1.8M296.4 623.1h1.8M304.2 605.9h1.8M302.4 602.5h1.8M298.7 611.4h1.8M294.8 592.5h1.8M297.5 594.3h1.8M293.6 604.6h1.8M298.1 584.6h1.8M304 587.2h1.8M302.1 622.4h1.8M296.7 619.1h1.8M300.9 622.3h1.8M300.7 607.8h1.8M301.7 616.1h1.8M303.4 597.5h1.8M294.2 634.5h1.8M302.9 573.1h1.8M298.1 573.5h1.8M293.3 581.2h1.8M299.1 581.3h1.8M296.5 624.9h1.8M298.5 576.5h1.8M297.5 633.8h1.8M303.9 615.4h1.8M301.8 573.9h1.8M294.3 598h1.8M297.5 594.7h1.8M301.8 582.9h1.8M299.4 612.3h1.8M304 584.7h1.8M300.9 568.8h1.8M295.8 570.9h1.8M295.8 607h1.8M296.3 621.5h1.8M298 633.8h1.8M295.4 573.9h1.8M294.4 608.3h1.8M295.1 631.8h1.8M295.6 608.6h1.8M299.1 588.7h1.8M293.9 609.5h1.8M301.9 612.8h1.8M296.4 635.5h1.8M304.8 625.7h1.8M304.2 611.8h1.8M295.2 622.3h1.8M297.3 564.7h1.8M296.7 588.7h1.8M295 634.6h1.8M297.8 580h1.8M299.3 603.4h1.8M303.3 598.9h1.8M300.3 569.3h1.8M303.3 579h1.8M299.2 582.6h1.8M301.1 612.3h1.8M302.5 587.9h1.8M293.8 632.5h1.8M304.6 573.5h1.8M296.5 606.7h1.8M300.7 609.3h1.8M295.2 594.4h1.8M294.6 611.3h1.8M302.8 600.8h1.8M298.3 620.5h1.8M299.9 599.8h1.8M297.1 594.9h1.8M297.7 589.4h1.8M298.3 606.9h1.8M301.4 599.2h1.8M295 608.8h1.8M299.4 608.2h1.8M295.1 597.5h1.8M295.1 579.7h1.8M294.3 594.9h1.8M294.6 615.3h1.8M297.4 585.9h1.8M300.5 629.4h1.8M303.7 599.9h1.8M299.2 610.2h1.8M299.5 582.9h1.8M293.9 607.9h1.8M304.4 565.8h1.8M300.8 581.1h1.8M301.1 575.6h1.8M302.7 617.4h1.8M296.2 576.6h1.8M296.5 627h1.8M298.8 568.2h1.8M295.7 574.5h1.8M300.5 600.5h1.8M296.6 599.3h1.8M301.5 603.9h1.8M299.9 618.1h1.8M298.1 627h1.8M302 588.9h1.8M303.2 629.6h1.8M297.8 607.5h1.8M298.4 575.1h1.8M293.7 599.2h1.8M301.4 605.1h1.8M295.1 587.7h1.8M295.4 586.7h1.8M303.6 603.5h1.8M294.1 609.7h1.8M295.8 604h1.8M295.1 602.4h1.8M295.6 612.8h1.8M297.3 569.6h1.8M296.3 585.7h1.8M297.1 601.3h1.8M295.2 582.6h1.8M299.6 587.1h1.8M304.6 580.7h1.8M295.7 629.1h1.8M299.1 573.6h1.8M302 570.2h1.8M300 576.8h1.8M300.6 618.1h1.8M297.5 634.5h1.8M296.1 576.6h1.8M299.4 597.6h1.8M300.6 634.1h1.8M294.1 608.3h1.8M299.7 603.1h1.8M295.3 576.3h1.8M301.7 591.6h1.8M303.4 612.2h1.8M297.5 595.8h1.8M301.4 602.9h1.8M300.2 572.1h1.8M298 577.2h1.8M303.2 601.1h1.8M302.7 613.2h1.8M300.9 610.9h1.8M302.1 609.3h1.8M303.8 566.5h1.8M303.9 569.7h1.8M296.3 579.1h1.8M300.3 602.2h1.8M294.9 572.5h1.8M300.7 625.6h1.8M297.6 627.2h1.8M295 591.4h1.8M302.4 580.7h1.8M303.7 633.5h1.8M296.8 589.2h1.8M297.4 613.4h1.8M302.3 601h1.8M303 601.2h1.8M294.5 580h1.8M304.1 566.5h1.8M296.5 626.5h1.8M299.4 614.2h1.8M303.3 570.8h1.8M296.7 599.8h1.8M301.6 599.1h1.8M298.4 570.4h1.8M297.6 603.3h1.8M296.9 591.1h1.8M298 573.6h1.8M296.6 569.2h1.8M294.8 568.7h1.8M302.5 633h1.8M300.7 567h1.8M295.9 600.3h1.8M294.5 613.3h1.8M303.4 579.9h1.8M304.8 606.8h1.8M298.5 589.6h1.8M295.6 581.2h1.8M298.3 572.4h1.8M294.4 578h1.8M296 625.9h1.8M294.2 635.3h1.8M294.7 568.7h1.8M297.4 574.3h1.8M304.3 595.2h1.8M297.6 591.5h1.8M296.8 594.1h1.8M302.7 598.2h1.8M295.5 583.2h1.8M303.9 578h1.8M302.2 569.5h1.8M297.5 587h1.8M299.3 628.8h1.8M303.7 579h1.8M302.1 582.5h1.8M297.1 630.3h1.8M296.1 599h1.8M295.9 572.5h1.8M299 589.4h1.8M301.6 573.9h1.8M300.1 604.6h1.8M300.5 567.7h1.8M298.6 617.7h1.8M302.3 622.6h1.8M298 613.4h1.8M300.8 584.7h1.8M302.5 633.6h1.8M293.9 606.3h1.8M295.2 597.7h1.8M295.6 625.8h1.8M291.7 580.2h1.8M292.7 578.5h1.8M292.6 616.1h1.8M291.9 617.4h1.8M292.3 578.3h1.8M292.5 589.4h1.8M291.8 619.3h1.8M291.6 584.8h1.8M293 618.3h1.8M291.7 614.7h1.8M291.9 581.7h1.8M293.2 629.4h1.8M292.6 573.6h1.8M293.5 635.1h1.8M293 580h1.8M291.9 574.1h1.8M292.3 581.4h1.8M293.3 564.2h1.8M293.4 570.7h1.8M293.1 622.1h1.8M292.6 588.3h1.8M292.3 609.3h1.8M292.6 612.8h1.8M292 625.6h1.8M292.1 633h1.8M292.6 601.8h1.8M292.5 610.8h1.8M291.7 568.6h1.8M293 609.8h1.8M292.9 599.4h1.8M293.3 566.9h1.8M292.5 628.1h1.8M292.3 608.1h1.8M291.8 608.2h1.8M293 590.2h1.8M293.4 621h1.8M291.9 593h1.8M292 622.8h1.8M305.7 610.1h1.8M306.6 534.8h1.8M305.2 552.6h1.8M308.8 579.9h1.8M309.6 591.6h1.8M307.4 577h1.8M305.3 618.5h1.8M310.1 632.8h1.8M309.1 592.6h1.8M310.7 631.8h1.8M306.7 560.2h1.8M306.8 580.2h1.8M309.7 533.4h1.8M307 567.8h1.8M307.9 531.5h1.8M308.9 631.2h1.8M306.5 618.1h1.8M305.6 566.8h1.8M306.3 555.1h1.8M305.5 587.9h1.8M309.1 591.5h1.8M306.5 542.5h1.8M305.4 626.2h1.8M306.9 543.3h1.8M306.3 538.2h1.8M261 628.7h1.8M265.7 641.5h1.8M252.4 630.4h1.8M264.9 637h1.8M264.8 654h1.8M255.1 642.5h1.8M265.7 635.3h1.8M261.2 642h1.8M266.3 631.8h1.8M266.2 641.4h1.8M255.2 635.5h1.8M260.8 644.2h1.8M253.4 638.9h1.8M254.2 647.8h1.8M271.8 640.4h1.8M260 619.2h1.8M277.5 645.2h1.8M256.3 631h1.8M260.9 650.5h1.8M263.3 642.6h1.8M261.6 635.3h1.8M273.7 646.4h1.8M261.1 651.9h1.8M264.5 636.6h1.8M256.3 638.3h1.8M254.1 635.9h1.8M267.7 643.6h1.8M274.7 628.4h1.8M266.8 642.2h1.8M264.1 628.8h1.8M258.9 641.5h1.8M263 651.6h1.8M251.2 652.7h1.8M256.7 638h1.8M249.5 635.6h1.8M251.1 638.4h1.8M252 637.7h1.8M262.4 644.5h1.8M270.2 650.5h1.8M261.8 649.8h1.8M264.3 631.2h1.8M256.4 629.5h1.8M259.8 634.9h1.8M250.2 636.5h1.8M251.7 640.4h1.8M252.5 618.8h1.8M253.5 640h1.8M258.7 636.6h1.8M253.3 650.4h1.8M271.1 637.3h1.8M254.9 620.1h1.8M266.1 642h1.8M255.1 636.7h1.8M270 629.3h1.8M272.8 636.6h1.8M266.7 627h1.8M251.8 638.2h1.8M263.9 645.6h1.8M260 654.5h1.8M268.2 633.5h1.8M270.3 633.6h1.8M253.2 639.3h1.8M264.3 648.4h1.8M251.5 642.6h1.8M257.4 647.6h1.8M250.3 640.2h1.8M259.9 641.3h1.8M270.3 642.7h1.8M267 645.7h1.8M261.7 642.4h1.8M260.4 637.4h1.8M260.3 640h1.8M252.4 645.4h1.8M267.5 643.2h1.8M259.2 640.9h1.8M262.4 654.4h1.8M259.5 625.2h1.8M265 627.4h1.8M266.4 622.8h1.8M259.5 643.6h1.8M254.4 641.1h1.8M267.6 639.5h1.8M267.1 621.7h1.8M256.4 620.7h1.8M264.7 630h1.8M264 637h1.8M264.8 643.7h1.8M253.9 654h1.8M254.7 647.7h1.8M257.6 636.3h1.8M266.3 618.3h1.8M282.1 644h1.8M259.6 647.5h1.8M270.5 622.8h1.8M267.1 634.9h1.8M257.4 632.4h1.8M271.3 646.7h1.8M252.3 651.6h1.8M262.3 623.7h1.8M254.7 647.3h1.8M263.5 654h1.8M269.2 640h1.8M267.6 636.1h1.8M251.5 630.5h1.8M261.5 646.3h1.8M254.8 650.1h1.8M265.9 625.5h1.8M263.2 650.1h1.8M264.4 651.2h1.8M260 636.3h1.8M265 635.3h1.8M255 640.8h1.8M258.1 636.1h1.8M257.6 640.9h1.8M269.2 641.4h1.8M255.5 633.5h1.8M263.6 630.7h1.8M265.6 649.1h1.8M274.5 632.7h1.8M257.3 631.7h1.8M259.5 635.5h1.8M271.6 647.1h1.8M260 621.6h1.8M258.5 643.7h1.8M254.5 639.1h1.8M261.5 641h1.8M268.7 637.8h1.8M261.1 637.5h1.8M260.9 652.3h1.8M255.7 626h1.8M274.2 637.9h1.8M261.4 639.2h1.8M253.9 647.5h1.8M253.2 648.8h1.8M273.9 633h1.8M250.6 647.1h1.8M286.4 631.6h1.8M267.6 643.6h1.8M253.5 645.2h1.8M258.8 631.6h1.8M269.4 639.5h1.8M264.4 640h1.8M263.4 630.8h1.8M271.6 640.5h1.8M261.8 626.1h1.8M258.7 655.7h1.8M264.3 650.2h1.8M262.1 649.7h1.8M265.9 624.8h1.8M267.4 649.5h1.8M270.2 631.6h1.8M258.7 633.7h1.8M254.1 645.6h1.8M263.6 638.5h1.8M262.9 629.6h1.8M269.5 639.7h1.8M276.4 638.1h1.8M258.8 618.7h1.8M252.9 641h1.8M266.4 651.3h1.8M266.7 631.9h1.8M253.9 639.7h1.8M258 627.7h1.8M254.1 639.9h1.8M260 634.4h1.8M274 636.5h1.8M262.9 634.2h1.8M250.5 629.1h1.8M254 638h1.8M256.8 642.8h1.8M257.7 643h1.8M259.3 620.8h1.8M265.4 637.4h1.8M264.6 637.8h1.8M266.2 632.5h1.8M266.2 630.9h1.8M264 614.9h1.8M272.5 636h1.8M255.4 642.8h1.8M264.3 636.9h1.8M278 638h1.8M261.8 632h1.8M273.8 648.3h1.8M267.5 642.2h1.8M260 627.5h1.8M266.5 645.7h1.8M261.1 636h1.8M260.9 646.5h1.8M263.5 649h1.8M256.6 632.6h1.8M272.4 635.9h1.8M266.2 637.4h1.8M256.7 634.2h1.8M273.9 637.3h1.8M270.3 642.1h1.8M270.2 628.8h1.8M260.8 628.2h1.8M267.9 648.3h1.8M267.2 648.3h1.8M265.1 633.8h1.8M266.5 636.4h1.8M267.5 639.5h1.8M250 642.7h1.8M262.7 639.9h1.8M273.8 638.9h1.8M260.3 640.7h1.8M254.6 645.6h1.8M266.9 652h1.8M261.6 628.5h1.8M258.8 642.6h1.8M271.7 623.1h1.8M267.2 649.5h1.8M265.8 642h1.8M259.8 651.2h1.8M260.7 642h1.8M257.2 644.6h1.8M255 647.8h1.8M268 621.8h1.8M263.9 629.6h1.8M257.2 631.4h1.8M254.2 647.4h1.8M255.1 621.9h1.8M257 613.1h1.8M252.3 622.8h1.8M260.1 635.8h1.8M250 648.4h1.8M264.4 642h1.8M258.3 628.6h1.8M260.1 628.1h1.8M254.9 631.8h1.8M272.5 640.4h1.8M257.6 643.5h1.8M262.8 649.5h1.8M256.9 645h1.8M259.1 631h1.8M265.1 640.8h1.8M251 646.7h1.8M262.6 627.5h1.8M271.9 643.6h1.8M257.5 638.7h1.8M260.6 625.3h1.8M257.3 644.3h1.8M261.7 626.5h1.8M269.5 638.5h1.8M262.7 637.5h1.8M258.7 634.2h1.8M257.5 634.9h1.8M265.6 633h1.8M275.5 634.4h1.8M251.2 641.8h1.8M262.7 652.6h1.8M259.2 636.5h1.8M257.8 633.9h1.8M259.5 648.1h1.8M262.8 645.4h1.8M264 630.7h1.8M280.5 652.2h1.8M265.8 643.1h1.8M270 640.8h1.8M265.2 651.7h1.8M259.6 653.7h1.8M263.4 635.6h1.8M270.2 636.6h1.8M273.6 627.8h1.8M255 643.6h1.8M262.5 643.2h1.8M265.7 626.5h1.8M270.3 642.6h1.8M259.5 642h1.8M269.2 645.5h1.8M257.4 639.1h1.8M267.7 643h1.8M253.4 646.9h1.8M272.8 642.7h1.8M264.8 651.5h1.8M270 624.5h1.8M276.8 638.5h1.8M250.8 645.7h1.8M263.9 634.1h1.8M257.6 634h1.8M260.7 615.8h1.8M264.9 642.2h1.8M273.3 649h1.8M256.2 649.5h1.8M254 638.8h1.8M265.3 639.9h1.8M262.8 640h1.8M256.5 620.8h1.8M254 639.4h1.8M261.3 647h1.8M255.5 636.9h1.8M265.4 642h1.8M262.1 642.8h1.8M257.8 640.9h1.8M266 642.6h1.8M263.6 643.3h1.8M252.4 635.3h1.8M259.4 637.7h1.8M254.6 644h1.8M268.3 646.4h1.8M250.6 637.2h1.8M266.7 647.2h1.8M265.3 641.9h1.8M267.7 633h1.8M273.9 627.7h1.8M269.3 654.3h1.8M274.2 645.2h1.8M257.7 642.6h1.8M262.5 634.8h1.8M268.3 642.7h1.8M253.5 632.6h1.8M267.7 656h1.8M263 642h1.8M268 646.9h1.8M263.6 636.6h1.8M256.5 638.4h1.8M250.6 647.7h1.8M267.5 648.7h1.8M264.1 637.4h1.8M258.6 650.3h1.8M268.2 643.1h1.8M266.7 644.8h1.8M262.5 651.1h1.8M270.9 641.1h1.8M265.8 647.3h1.8M265.5 652.8h1.8M260.1 633.7h1.8M259.9 633.9h1.8M271 642h1.8M256.3 626.7h1.8M258.5 636.9h1.8M265.7 645.9h1.8M273.7 639.9h1.8M264.2 644.6h1.8M260.4 646.5h1.8M266.8 635.4h1.8M255.7 637.3h1.8M258 639h1.8M249.6 650.1h1.8M272.2 637.4h1.8M266.8 637.4h1.8M254.8 630.9h1.8M263.2 635.8h1.8M255.1 638.3h1.8M271.3 632.6h1.8M263.8 641.1h1.8M257.3 650.5h1.8M255 643.5h1.8M264.2 647.5h1.8M259.4 642.4h1.8M264.7 636.7h1.8M267.3 638.9h1.8M262.3 654.1h1.8M254 651.5h1.8M255.1 648.4h1.8M255.1 646.1h1.8M265.4 635.4h1.8M263.9 655.5h1.8M273.9 637h1.8M272.6 628h1.8M258 651.4h1.8M259.4 654.5h1.8M253.3 650h1.8M253.5 653h1.8M260.6 647.5h1.8M255.2 630.9h1.8M272 640.2h1.8M255.6 640.7h1.8M262.8 648.1h1.8M269.1 653h1.8M268.1 649.2h1.8M257.2 641.5h1.8M258.8 618.3h1.8M271.6 642.3h1.8M261.4 637.4h1.8M270 639.7h1.8M256.1 636.6h1.8M264.7 650.9h1.8M274.7 642.9h1.8M255.4 627.9h1.8M265.9 647.8h1.8M266.2 641.6h1.8M271.8 646.2h1.8M251.1 644h1.8M263.8 644.9h1.8M263.6 647.1h1.8M257.9 632.4h1.8M262.3 637.9h1.8M261.4 633.3h1.8M268.6 647.2h1.8M265.1 653.2h1.8M263 652.1h1.8M253.9 642h1.8M259.5 636.4h1.8M256.2 642h1.8M266.5 634.5h1.8M254.2 634.3h1.8M272 648.9h1.8M263.9 630.2h1.8M272.2 634.2h1.8M250 636.4h1.8M256.4 646.5h1.8M262 643.5h1.8M276.5 634.7h1.8M263.2 628.2h1.8M253.7 630.7h1.8M257.9 647.9h1.8M254 641.7h1.8M259.2 649.6h1.8M259.5 637.5h1.8M271.2 649h1.8M267 643h1.8M263.7 636h1.8M251.5 637.4h1.8M257 623.2h1.8M262.6 642.2h1.8M256.1 652.3h1.8M250 638.4h1.8M262.5 620.8h1.8M257.8 653.7h1.8M264 641.5h1.8M267.4 652.9h1.8M266.4 631.4h1.8M259.2 624.5h1.8M257.7 650.9h1.8M261.5 637.8h1.8M268.7 632.9h1.8M261.6 630.5h1.8M253 628.6h1.8M264.2 641h1.8M266.8 635.9h1.8M274.4 630.4h1.8M249.7 637.4h1.8M257.3 639.3h1.8M259.1 628.9h1.8M255 645.5h1.8M262.5 624.8h1.8M263.2 650.3h1.8M268.7 636.7h1.8M252.9 625.6h1.8M271.2 648.9h1.8M252.2 635.4h1.8M260.9 646.5h1.8M257.7 640.9h1.8M264.9 653.7h1.8M266.7 621.9h1.8M250.8 645.9h1.8M257.1 629.9h1.8M260.8 633.7h1.8M267.2 640.6h1.8M251.3 636.2h1.8M265.9 632.9h1.8M256.7 644h1.8M271 634.1h1.8M262.4 650.3h1.8M262.6 631.3h1.8M262.9 617h1.8M264.2 628.3h1.8M268.2 653h1.8M263.8 639h1.8M257 633.2h1.8M261.2 634.3h1.8M268.4 632.9h1.8M264.8 645.5h1.8M261.1 634.7h1.8M262.7 643.5h1.8M255.2 639.8h1.8M261.1 649.3h1.8M258.9 647.5h1.8M256.4 644.1h1.8M255.9 641.9h1.8M262.9 638.8h1.8M266.8 648.8h1.8M268.9 648.2h1.8M260.8 640.8h1.8M270 637h1.8M271 638.6h1.8M264.1 642.9h1.8M263.2 636h1.8M256.7 632.2h1.8M260.8 639.9h1.8M252.8 644.3h1.8M252.5 644.4h1.8M250.2 619.7h1.8M273.7 633.2h1.8M264.8 634.8h1.8M253.9 648.1h1.8M253.1 639.7h1.8M256.4 651.4h1.8M263.4 634.1h1.8M264.4 651.3h1.8M256.6 630.8h1.8M255.4 620.2h1.8M270.7 638.3h1.8M257.2 640.8h1.8M249.9 653.4h1.8M263 636h1.8M267.8 639h1.8M251 640.5h1.8M268.9 642.9h1.8M262 625.3h1.8M258.6 636.7h1.8M263.8 640.8h1.8M263 634.4h1.8M262.2 649.6h1.8M261.8 630.7h1.8M268.1 624.9h1.8M261.1 632.1h1.8M259.5 631.2h1.8M262 628.8h1.8M264.2 638.2h1.8M263.1 633.7h1.8M259.8 642.9h1.8M260.2 652.1h1.8M255 651h1.8M267 634.3h1.8M257.4 640.1h1.8M270.7 627.1h1.8M266.3 633.5h1.8M264.3 642.4h1.8M269.3 642.3h1.8M264.9 640.9h1.8M262.4 655.1h1.8M265.6 622h1.8M256.4 647.7h1.8M263.5 633.3h1.8M251.4 634.5h1.8M263.6 647.8h1.8M273.3 630.9h1.8M271.8 640.9h1.8M267.3 637.6h1.8M260.6 633.7h1.8M257.9 630h1.8M265.6 641h1.8M262.7 628.9h1.8M262.6 647.8h1.8M257.2 634.5h1.8M250 621.4h1.8M258.6 631.3h1.8M257.7 635.9h1.8M257.4 644.3h1.8M254.2 634.2h1.8M258.9 649.9h1.8M260.7 650.6h1.8M269.7 636.1h1.8M276.1 637.1h1.8M263.8 646.1h1.8M262.8 636.7h1.8M263.2 646h1.8M258.3 632h1.8M265.2 639.6h1.8M260.3 639.3h1.8M257.9 636.3h1.8M270.2 638h1.8M270.4 642.6h1.8M261.8 641.8h1.8M268 629.6h1.8M263.5 638h1.8M260.5 648.6h1.8M261.4 639.7h1.8M261.4 646.2h1.8M270.3 646.9h1.8M255.3 639.1h1.8M267 641.8h1.8M266.6 636.2h1.8M253.7 634.9h1.8M267 636.4h1.8M256.9 639.5h1.8M259.5 649.8h1.8M267 649h1.8M258.5 631.8h1.8M262.6 647.2h1.8M253.6 645.6h1.8M260.2 635.9h1.8M266.2 646.2h1.8M261.1 641.2h1.8M256.5 637.9h1.8M265.8 637.3h1.8M262 639.3h1.8M252.5 637.2h1.8M262.3 635h1.8M274 636.2h1.8M266.4 636.1h1.8M252.1 653.5h1.8M255.9 648.8h1.8M260.9 640.9h1.8M265.2 636.8h1.8M252.4 630.6h1.8M273.4 639.8h1.8M265.1 646.9h1.8M253 639.3h1.8M254 640h1.8M259.8 635.6h1.8M261.5 645.5h1.8M262.5 642.9h1.8M260.8 637.8h1.8M277.2 638.8h1.8M262.6 631.1h1.8M257.7 635.8h1.8M253.9 642.7h1.8M265.8 644.7h1.8M260.1 643.2h1.8M266.3 637.5h1.8M258.8 620.4h1.8M266.4 640.5h1.8M249.7 639.6h1.8M264.3 646h1.8M274.3 644.9h1.8M267.3 644.2h1.8M256.6 634.1h1.8M264.5 635.7h1.8M256.3 637.3h1.8M254.7 631.8h1.8M257.5 645.6h1.8M265 639.1h1.8M270.5 636.8h1.8M259.1 624.7h1.8M275.9 635.9h1.8M262.3 634.8h1.8M266.3 640.2h1.8M253.7 641.6h1.8M256.4 631.9h1.8M258.4 639.4h1.8M266 638h1.8M268.9 648.6h1.8M269.9 632.8h1.8M262.8 648.4h1.8M266.6 646.8h1.8M267.1 637.7h1.8M259.8 633.6h1.8M254.9 639.4h1.8M264.3 639.5h1.8M250.9 642.8h1.8M266.5 645.7h1.8M268.1 636.7h1.8M267.6 652.1h1.8M249.7 643h1.8M267.7 645.1h1.8M272.6 641.1h1.8M260 637.8h1.8M251 638h1.8M264.2 630.5h1.8M265.1 617.3h1.8M262.6 634.8h1.8M256.9 623.4h1.8M266.2 620h1.8M274.6 626.2h1.8M272.9 624.9h1.8M275.8 606h1.8M251.5 617.7h1.8M267.1 641.3h1.8M280.1 613.4h1.8M266.8 631.6h1.8M256.2 611.8h1.8M270.4 613.4h1.8M280.8 620.4h1.8M268 608h1.8M264.1 616.3h1.8M268.9 639.5h1.8M265.9 619.6h1.8M263.1 620.6h1.8M261.3 616.8h1.8M276.8 624h1.8M271.1 623.8h1.8M265.5 624.3h1.8M261.6 618.1h1.8M276.4 618.5h1.8M276.1 611h1.8M255.5 623.6h1.8M262.7 616.1h1.8M258.7 616h1.8M259.6 625.4h1.8M251.3 628.2h1.8M255.3 628.4h1.8M271.6 611h1.8M275.4 616.2h1.8M267 634.4h1.8M260.2 613.4h1.8M253.2 625.5h1.8M264.3 612.6h1.8M264.5 615.4h1.8M254.8 606.1h1.8M266.7 625h1.8M273.5 613.6h1.8M263.1 599.8h1.8M251.2 609.8h1.8M256.5 636.3h1.8M259.3 628.1h1.8M265.6 613.9h1.8M279.1 608.7h1.8M263 635h1.8M273.6 621.9h1.8M274.5 618.2h1.8M272.4 623.1h1.8M261.2 622.2h1.8M274.1 621.8h1.8M271.1 619.1h1.8M271.9 626h1.8M270.7 611h1.8M251.8 614.6h1.8M266 640.1h1.8M261.1 607.4h1.8M266.9 595.2h1.8M277.1 620.1h1.8M263.3 614.3h1.8M276.3 620.9h1.8M283.4 623.3h1.8M250.4 617.5h1.8M289.2 625.6h1.8M263.5 634h1.8M272.5 629.6h1.8M270.3 623.7h1.8M263 627h1.8M265.9 617.7h1.8M261.3 613.5h1.8M267.3 635.8h1.8M272.6 603.6h1.8M267.3 622.6h1.8M263.7 611.3h1.8M265.7 616.6h1.8M267.7 625.6h1.8M272 617.1h1.8M277.4 629.2h1.8M272.9 613h1.8M260.5 617.6h1.8M279.7 616.8h1.8M273.2 627.2h1.8M268.2 621.5h1.8M274.8 608.6h1.8M265 628.5h1.8M268.4 630.1h1.8M260.6 623.7h1.8M265.1 617.6h1.8M267.5 625.1h1.8M262.7 615h1.8M276.5 615.6h1.8M260.7 608.4h1.8M264.3 611.9h1.8M263.9 624.6h1.8M259.5 623.4h1.8M275.7 623.3h1.8M283 623.6h1.8M264.2 629.2h1.8M266.7 614.8h1.8M265.8 625.4h1.8M276.1 617.6h1.8M271.3 617h1.8M258.3 627.2h1.8M263.4 634h1.8M255.2 608.4h1.8M274.6 614.4h1.8M271.5 625.9h1.8M271.9 632.9h1.8M264.8 614.8h1.8M271.2 629.4h1.8M267.8 625.9h1.8M254.4 623.5h1.8M257 619.6h1.8M265.8 622.7h1.8M258.1 608.6h1.8M274.6 618.7h1.8M259.3 632.5h1.8M285.7 623.8h1.8M268.1 622.2h1.8M276 614.7h1.8M263.5 615.4h1.8M266.5 621.8h1.8M253 630.5h1.8M267.3 623h1.8M265.8 625.4h1.8M258.7 613h1.8M252.7 618.9h1.8M279.2 618.6h1.8M261.6 616h1.8M260.6 626.9h1.8M276 612.5h1.8M252 619.5h1.8M281.9 618.6h1.8M256.3 617.1h1.8M265.2 614.3h1.8M252.9 628.4h1.8M276.2 618.7h1.8M271.8 635.2h1.8M270.2 609.4h1.8M264.3 618.4h1.8M278.6 604.9h1.8M276.6 617.9h1.8M271.2 624.1h1.8M251.7 626.1h1.8M265.1 614.1h1.8M264.4 625.7h1.8M267.6 619.1h1.8M270.2 620.2h1.8M265.7 622.4h1.8M272.3 620.6h1.8M263.3 622.4h1.8M265 631h1.8M272.6 621.7h1.8M277.5 612.7h1.8M270.8 626.3h1.8M271.4 618.6h1.8M268.9 613.9h1.8M266.4 609.1h1.8M265.6 616.5h1.8M269.9 627.9h1.8M273.5 615.5h1.8M274.9 608.5h1.8M259.1 626.4h1.8M253.2 612.3h1.8M266.3 627h1.8M273.9 611.5h1.8M277.5 642.1h1.8M283.2 609.1h1.8M278.6 624.9h1.8M263.6 623.2h1.8M263.3 627.2h1.8M273.3 612.9h1.8M262.9 631.3h1.8M267.1 627h1.8M255.9 632.6h1.8M278 621.8h1.8M266.4 622h1.8M264.3 608.2h1.8M265.3 618.8h1.8M258.2 632.7h1.8M270.3 615.7h1.8M265.6 610.8h1.8M283.4 615.5h1.8M256.9 618.4h1.8M253.9 633.4h1.8M268.6 620.7h1.8M271.1 610.3h1.8M270.9 624.7h1.8M281.3 627.6h1.8M276.4 615.6h1.8M268.7 626.1h1.8M267.9 606.5h1.8M264.5 627.8h1.8M261.9 619.7h1.8M270.9 624.2h1.8M270 618.9h1.8M275.7 635.6h1.8M262 615.1h1.8M263.8 617.7h1.8M262.8 618h1.8M272.8 614.7h1.8M268.3 613.8h1.8M262 629.6h1.8M267.9 617.4h1.8M269.1 609h1.8M270.9 607.4h1.8M263.6 628.4h1.8M255.9 620.1h1.8M273.5 619.6h1.8M286.3 617.2h1.8M271.3 613.7h1.8M263 604.1h1.8M265.5 611.7h1.8M267.6 603h1.8M264.3 601h1.8M259.2 606.9h1.8M279.4 613.4h1.8M253.1 605.6h1.8M268.9 615.9h1.8M257.4 606.8h1.8M273.1 607.6h1.8M261.3 621.7h1.8M274.6 599.9h1.8M272.8 601.8h1.8M261.2 599.1h1.8M270.7 600.6h1.8M265.6 619.8h1.8M269.6 602.6h1.8M251.1 615.7h1.8M270 602.2h1.8M256.2 601.3h1.8M274.8 599.7h1.8M266.2 602.9h1.8M261.9 606.2h1.8M268.7 605.7h1.8M267.4 619.5h1.8M266.3 602.9h1.8M279.1 608.6h1.8M272 602.3h1.8M267.1 609.4h1.8M263 607.9h1.8M278.7 615h1.8M272.2 604.7h1.8M266.2 605h1.8M272.4 596h1.8M280.3 643.7h1.8M277.4 627.5h1.8M277.5 638.8h1.8M285 643.2h1.8M289.8 639.4h1.8M286.7 631.1h1.8M285.7 624.7h1.8M288 619.5h1.8M281.6 603.3h1.8M288.4 641.1h1.8M285.4 601.7h1.8M279.5 643h1.8M282 620.1h1.8M282 617h1.8M280.8 639.7h1.8M276.4 614.8h1.8M288.8 628.8h1.8M282.8 612.4h1.8M282.2 611.5h1.8M286.5 640.1h1.8M282.4 613.2h1.8M279 639.6h1.8M278.9 609.8h1.8M280.5 632.7h1.8M287.7 637.4h1.8M283.9 637.1h1.8M278 623.1h1.8M285.2 641.1h1.8M288.5 636h1.8M283.8 631.5h1.8M282 620h1.8M282.3 616.2h1.8M282.4 640h1.8M288.2 607.1h1.8M287 627.9h1.8M278.5 642.6h1.8M282.4 628h1.8M287 630.9h1.8M285.4 638.8h1.8M287.8 638.1h1.8M290.3 639.5h1.8M277.5 632.1h1.8M285.6 609.1h1.8M278.5 621.2h1.8M283.2 609.8h1.8M283.9 631.5h1.8M283.5 640.5h1.8M283.4 601h1.8M285.4 614.9h1.8M284.4 608.4h1.8M279.1 601.3h1.8M287.5 620.1h1.8M281.9 604h1.8M289.1 620.9h1.8M282.1 640h1.8M283.7 628.6h1.8M276.5 625.5h1.8M285.4 603h1.8M277.1 632.9h1.8M289.2 625.8h1.8M288.4 621.8h1.8M283.3 636.7h1.8M287.5 611.1h1.8M284 633.2h1.8M283.6 607.2h1.8M289.7 603.4h1.8M286.5 605.4h1.8M279.5 641.3h1.8M281.8 630h1.8M284 636.2h1.8M290.3 611.1h1.8M285.9 628.1h1.8M282.6 612.4h1.8M286.4 632h1.8M281 606.4h1.8M281 630.3h1.8M279.4 631.3h1.8M278.5 618.5h1.8M280.2 642.2h1.8M282.9 618.2h1.8M288.5 629.5h1.8M280.6 613.9h1.8M282.6 640.9h1.8M276.4 613.9h1.8M281.1 636.6h1.8M280.5 601.4h1.8M286.9 616.4h1.8M284.5 626h1.8M282.9 626.7h1.8M280.4 603.2h1.8M278.2 633.7h1.8M282.5 601.6h1.8M283.9 604.5h1.8M280.8 609.3h1.8M286.9 619.6h1.8M277.2 638.6h1.8M288.2 610.1h1.8M290 615.4h1.8M276.6 604.5h1.8M286.1 637.2h1.8M283.1 626.6h1.8M286.8 617.7h1.8M278.5 643h1.8M290 610.2h1.8M278.2 620.8h1.8M279.2 610.2h1.8M287.8 625.9h1.8M287.7 628.8h1.8M286.2 618.2h1.8M290 605.2h1.8M281.2 642.5h1.8M276.7 608.8h1.8M289.8 625.4h1.8M278.6 615.3h1.8M284.2 618.4h1.8M285.6 642.9h1.8M284.8 638.1h1.8M280.1 606.1h1.8M285.4 622.6h1.8M278.7 619.9h1.8M278.1 639.7h1.8M280.2 603.8h1.8M288.3 638.5h1.8M279.4 637.8h1.8M277 612h1.8M278.8 604.2h1.8M282.8 633.4h1.8M284.2 603h1.8M289.7 635.5h1.8M279 619.7h1.8M278.7 635.9h1.8M287.5 639.9h1.8M279.9 630.2h1.8M280.5 610h1.8M278.8 621.8h1.8M289 613.3h1.8M288.8 612.6h1.8M279.6 607.1h1.8M278.2 634h1.8M287.9 629.9h1.8M284.4 616.7h1.8M279.2 626.9h1.8M289.3 627.8h1.8M285.6 609.4h1.8M288.3 624.2h1.8M285 626.4h1.8M276.8 608.1h1.8M283.8 630.3h1.8M279 610.7h1.8M283.1 619.2h1.8M282.9 627.3h1.8M284.3 607.1h1.8M279.3 622.9h1.8M277.8 609h1.8M288.1 617.1h1.8M288.2 602.9h1.8M276.9 633.9h1.8M285.4 629.5h1.8M281.4 614.8h1.8M287.2 603.5h1.8M285.7 626.5h1.8M276.6 605.4h1.8M285.1 620.3h1.8M277.3 634.1h1.8M283.1 630.6h1.8M277.2 614.5h1.8M279.5 640.6h1.8M268.3 594.2h1.8M266.7 593.6h1.8M286 585.2h1.8M275.5 594.6h1.8M287.8 586.3h1.8M284.1 582.1h1.8M261.8 597h1.8M272.9 596.9h1.8M286 599.1h1.8M290.8 581.4h1.8M283.8 583.8h1.8M266.8 591.9h1.8M286.3 583.7h1.8M291.8 593.1h1.8M290.7 584.1h1.8" stroke="#000" stroke-width="1.8" fill="none"/>
<path d="M303.8 505.7h1.4M303.1 506.3h1.4M307.2 497.4h1.4M296.2 514.5h1.4M318.9 555h1.4M317.1 570.8h1.4M345 525.9h1.4M360.1 518.3h1.4M335.1 566.2h1.4M317.5 547.5h1.4M330.9 569.4h1.4M329.4 547.6h1.4M321.1 535.2h1.4M342.3 531.4h1.4M319.3 571.7h1.4M361.1 528.5h1.4M339.8 527.3h1.4M323.2 570.6h1.4M310.8 551.8h1.4M309.9 635.9h1.4M308.8 597.9h1.4M309.3 611.5h1.4M310.4 561h1.4M310.1 626.9h1.4M277.3 651.8h1.4M279.8 654.9h1.4M266.4 597.5h1.4M258.1 595.9h1.4M261.9 587.9h1.4M244.6 602.4h1.4M249.1 608.2h1.4M254.3 601.6h1.4M247.3 612.4h1.4M258.8 602.7h1.4M290.3 643.1h1.4M255.9 596.5h1.4M275.5 581h1.4M269.5 578.5h1.4M282.2 596.2h1.4M279.9 586.3h1.4M259.9 580.3h1.4M258.5 587.1h1.4M263.6 580.4h1.4M255.3 591.8h1.4M279.3 590.8h1.4M272.3 591.6h1.4M284.3 578.7h1.4M255.7 582.1h1.4M266.3 581.4h1.4M269.7 577.4h1.4M348.8 511h1.4M323.1 519.2h1.4M350.3 519.2h1.4M355.2 522.8h1.4M323.1 526.5h1.4M348.8 526.5h1.4M329.8 531.9h1.4M353 531.9h1.4M323.1 538.6h1.4M346.7 540.4h1.4M352 537.3h1.4M331.1 542.7h1.4M336.2 544h1.4M350.3 548.2h1.4M354.2 548.2h1.4M357.5 549.4h1.4M362.4 549.4h1.4M336.2 552.7h1.4M343 551.8h1.4M355.2 553.6h1.4M357 557.2h1.4M338.5 559h1.4M343.4 560h1.4M354.2 560.8h1.4M352.4 562.6h1.4M337.6 562.6h1.4M317.7 566.2h1.4M353.3 567.1h1.4M340.1 571.7h1.4M346.7 573.8h1.4M316.6 576.5h1.4M334.9 576.5h1.4M342.5 578h1.4M355.2 577.6h1.4M325.3 578h1.4M324 579.4h1.4M338.5 582.5h1.4M328.6 584.3h1.4M332.2 584.3h1.4M346.7 584.3h1.4M348 584.3h1.4M325.9 587h1.4M332.2 591h1.4M321.3 596.4h1.4M327.1 598.2h1.4M250.4 562.5h1.4M269.6 573h1.4M286.7 555.7h1.4" stroke="#000" stroke-width="1.4" fill="none"/>
<path d="M328.0 494.5H330.0M346.5 494.5H352.5" stroke="#000" stroke-width="1.2" stroke-dasharray="1.5 1.5" fill="none"/>
<rect x="291.6" y="494.5" width="22.4" height="145.5" fill="none" stroke="#000" stroke-width="1.6"/>
<rect x="240.8" y="493.3" width="152.9" height="166.9" fill="none" stroke="#000" stroke-width="1.6"/>
<path d="M241.5 660.9v5.5M240.1 659.1h-6.0M247.4 660.9v3.0M240.1 652.5h-3.0M253.3 660.9v3.0M240.1 645.9h-3.0M259.2 660.9v3.0M240.1 639.4h-3.0M265.1 660.9v3.0M240.1 632.8h-3.0M271.0 660.9v5.5M240.1 626.2h-6.0M276.9 660.9v3.0M240.1 619.7h-3.0M282.8 660.9v3.0M240.1 613.3h-3.0M288.7 660.9v3.0M240.1 606.8h-3.0M294.6 660.9v3.0M240.1 600.4h-3.0M300.5 660.9v5.5M240.1 593.9h-6.0M306.4 660.9v3.0M240.1 587.3h-3.0M312.3 660.9v3.0M240.1 580.8h-3.0M318.2 660.9v3.0M240.1 574.2h-3.0M324.1 660.9v3.0M240.1 567.7h-3.0M330.0 660.9v5.5M240.1 561.1h-6.0M335.9 660.9v3.0M240.1 554.8h-3.0M341.8 660.9v3.0M240.1 548.5h-3.0M347.7 660.9v3.0M240.1 542.3h-3.0M353.6 660.9v3.0M240.1 536.0h-3.0M359.5 660.9v5.5M240.1 529.7h-6.0M365.4 660.9v3.0M240.1 523.3h-3.0M371.3 660.9v3.0M240.1 516.9h-3.0M377.2 660.9v3.0M240.1 510.4h-3.0M383.1 660.9v3.0M240.1 504.0h-3.0M389.0 660.9v5.5M240.1 497.6h-6.0" stroke="#000" stroke-width="1.3" fill="none"/>
<text class="tx" transform="translate(242.3 675.7) scale(0.9 1)" text-anchor="middle">0</text>
<text class="tl" x="230.6" y="659.1" text-anchor="middle" transform="rotate(-90 230.6 659.1)">0</text>
<text class="tx" transform="translate(271.8 675.7) scale(0.9 1)" text-anchor="middle">50</text>
<text class="tl" x="230.6" y="626.2" text-anchor="middle" transform="rotate(-90 230.6 626.2)">50</text>
<text class="tx" transform="translate(301.3 675.7) scale(0.9 1)" text-anchor="middle">100</text>
<text class="tl" x="230.6" y="593.9" text-anchor="middle" transform="rotate(-90 230.6 593.9)">100</text>
<text class="tx" transform="translate(330.8 675.7) scale(0.9 1)" text-anchor="middle">150</text>
<text class="tl" x="230.6" y="561.1" text-anchor="middle" transform="rotate(-90 230.6 561.1)">150</text>
<text class="tx" transform="translate(360.3 675.7) scale(0.9 1)" text-anchor="middle">200</text>
<text class="tl" x="230.6" y="529.7" text-anchor="middle" transform="rotate(-90 230.6 529.7)">200</text>
<text class="tx" transform="translate(389.8 675.7) scale(0.9 1)" text-anchor="middle">250</text>
<text class="tl" x="230.6" y="497.6" text-anchor="middle" transform="rotate(-90 230.6 497.6)">250</text>
<text x="129.5" y="14.1" font-size="16" text-anchor="middle">HL-60</text>
<text x="310" y="14.1" font-size="16" text-anchor="middle">THP-1</text>
<text x="397" y="124.3" font-size="18" letter-spacing="0.15">GO 0 ng/mL</text>
<text x="397" y="353.8" font-size="18" letter-spacing="0.15">GO 10 ng/mL</text>
<text x="398" y="586.3" font-size="18" letter-spacing="0.15">GO 100 ng/mL</text>
<text x="15" y="344.5" font-size="17.5" text-anchor="middle" transform="rotate(-90 15 344.5)">Cyclin B1 level</text>
<text x="235" y="704.8" font-size="18" text-anchor="middle">DNA Content</text>
<text transform="translate(161 44.1) scale(1 1.12)" font-size="16" letter-spacing="1.5">15%</text>
<text transform="translate(351.5 44.8) scale(1 1.12)" font-size="16" letter-spacing="1.5">16%</text>
<text transform="translate(161 275.1) scale(1 1.12)" font-size="16" letter-spacing="1.5">76%</text>
<text transform="translate(351 275.1) scale(1 1.12)" font-size="16" letter-spacing="1.5">63%</text>
<text transform="translate(162 510.1) scale(1 1.12)" font-size="16" letter-spacing="1.5">53%</text>
<text transform="translate(353 510.6) scale(1 1.12)" font-size="16" letter-spacing="1.5">62%</text>
</svg></body></html>
